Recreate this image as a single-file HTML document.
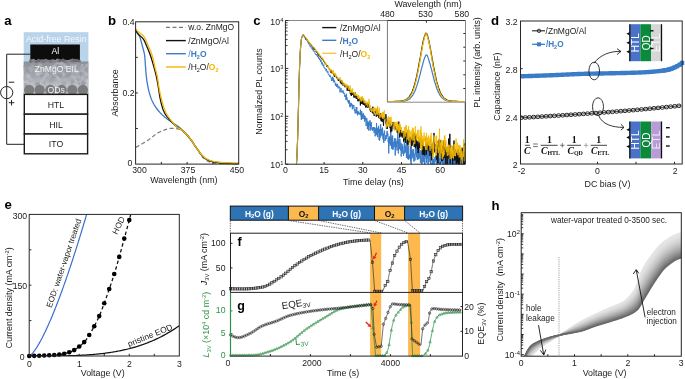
<!DOCTYPE html>
<html><head><meta charset="utf-8"><style>
html,body{margin:0;padding:0;background:#fff;overflow:hidden}
svg{display:block;will-change:transform}
text{font-family:"Liberation Sans", sans-serif}
</style></head><body>
<svg width="685" height="379" viewBox="0 0 685 379">
<rect width="685" height="379" fill="#fff"/>
<text x="4.2" y="25.2" font-size="13.2" text-anchor="start" font-weight="bold" font-style="normal" fill="#000">a</text>
<rect x="23.7" y="32.2" width="64.7" height="62" fill="#b9d3ea"/>
<text x="56.3" y="41.6" font-size="8.9" text-anchor="middle" font-weight="normal" font-style="normal" fill="#f4f8fc">Acid-free Resin</text>
<defs><linearGradient id="eil" x1="0" y1="0" x2="0" y2="1"><stop offset="0" stop-color="#8c9099"/><stop offset="0.45" stop-color="#a3a7b0"/><stop offset="0.8" stop-color="#c2c5cc"/><stop offset="1" stop-color="#b4b7be"/></linearGradient></defs>
<rect x="23.7" y="61.5" width="64.7" height="32.9" fill="url(#eil)"/>
<circle cx="63.88" cy="83.53" r="2.16" fill="rgb(155,155,161)" opacity="0.5"/>
<circle cx="43.41" cy="82.97" r="1.01" fill="rgb(197,197,203)" opacity="0.5"/>
<circle cx="74.72" cy="73.23" r="1.45" fill="rgb(159,159,165)" opacity="0.5"/>
<circle cx="40.56" cy="72.68" r="1.76" fill="rgb(178,178,184)" opacity="0.5"/>
<circle cx="87.22" cy="81.02" r="1.93" fill="rgb(209,209,215)" opacity="0.5"/>
<circle cx="38.06" cy="65.85" r="1.92" fill="rgb(143,143,149)" opacity="0.5"/>
<circle cx="26.75" cy="74.36" r="1.7" fill="rgb(204,204,210)" opacity="0.5"/>
<circle cx="64.14" cy="74.34" r="1.75" fill="rgb(157,157,163)" opacity="0.5"/>
<circle cx="25.24" cy="66.62" r="2.04" fill="rgb(154,154,160)" opacity="0.5"/>
<circle cx="47.78" cy="62.09" r="2.25" fill="rgb(150,150,156)" opacity="0.5"/>
<circle cx="41.36" cy="83.13" r="1.76" fill="rgb(199,199,205)" opacity="0.5"/>
<circle cx="64.8" cy="79.8" r="1.14" fill="rgb(177,177,183)" opacity="0.5"/>
<circle cx="56.49" cy="82.91" r="1.54" fill="rgb(181,181,187)" opacity="0.5"/>
<circle cx="28.23" cy="71.3" r="1.48" fill="rgb(150,150,156)" opacity="0.5"/>
<circle cx="75.93" cy="71.11" r="2.47" fill="rgb(181,181,187)" opacity="0.5"/>
<circle cx="62.62" cy="77.31" r="2.01" fill="rgb(150,150,156)" opacity="0.5"/>
<circle cx="52.24" cy="67.75" r="1.6" fill="rgb(146,146,152)" opacity="0.5"/>
<circle cx="85.47" cy="67.16" r="2.01" fill="rgb(161,161,167)" opacity="0.5"/>
<circle cx="79.57" cy="77.89" r="1.2" fill="rgb(199,199,205)" opacity="0.5"/>
<circle cx="84.03" cy="83.69" r="1.85" fill="rgb(150,150,156)" opacity="0.5"/>
<circle cx="36.63" cy="84.27" r="1.83" fill="rgb(152,152,158)" opacity="0.5"/>
<circle cx="80.2" cy="77.4" r="1.85" fill="rgb(166,166,172)" opacity="0.5"/>
<circle cx="50.39" cy="67.75" r="1.06" fill="rgb(201,201,207)" opacity="0.5"/>
<circle cx="53.97" cy="75.14" r="1.48" fill="rgb(192,192,198)" opacity="0.5"/>
<circle cx="26.09" cy="70.93" r="1.05" fill="rgb(148,148,154)" opacity="0.5"/>
<circle cx="85.43" cy="77.79" r="1.64" fill="rgb(176,176,182)" opacity="0.5"/>
<circle cx="79.49" cy="70.26" r="1.89" fill="rgb(187,187,193)" opacity="0.5"/>
<circle cx="46.89" cy="74.46" r="2.15" fill="rgb(203,203,209)" opacity="0.5"/>
<circle cx="34.02" cy="84.4" r="1.01" fill="rgb(192,192,198)" opacity="0.5"/>
<circle cx="75.56" cy="65.28" r="1.63" fill="rgb(197,197,203)" opacity="0.5"/>
<circle cx="25.4" cy="77.08" r="2.19" fill="rgb(175,175,181)" opacity="0.5"/>
<circle cx="70.23" cy="67.43" r="1.3" fill="rgb(165,165,171)" opacity="0.5"/>
<circle cx="35.8" cy="70.31" r="2.42" fill="rgb(180,180,186)" opacity="0.5"/>
<circle cx="45.92" cy="68.52" r="2.43" fill="rgb(171,171,177)" opacity="0.5"/>
<circle cx="86.26" cy="74.37" r="1.78" fill="rgb(202,202,208)" opacity="0.5"/>
<circle cx="71.29" cy="75.94" r="1.64" fill="rgb(201,201,207)" opacity="0.5"/>
<circle cx="50.43" cy="84.15" r="1.1" fill="rgb(170,170,176)" opacity="0.5"/>
<circle cx="57.23" cy="84.82" r="1.38" fill="rgb(196,196,202)" opacity="0.5"/>
<circle cx="67.12" cy="79.21" r="1.94" fill="rgb(208,208,214)" opacity="0.5"/>
<circle cx="45.46" cy="71.56" r="1.3" fill="rgb(143,143,149)" opacity="0.5"/>
<circle cx="37.91" cy="83.97" r="2.26" fill="rgb(147,147,153)" opacity="0.5"/>
<circle cx="62.54" cy="73.5" r="1.89" fill="rgb(186,186,192)" opacity="0.5"/>
<circle cx="43.82" cy="85.07" r="1.7" fill="rgb(183,183,189)" opacity="0.5"/>
<circle cx="64.52" cy="66.41" r="1.09" fill="rgb(168,168,174)" opacity="0.5"/>
<circle cx="72.63" cy="81.57" r="2.09" fill="rgb(147,147,153)" opacity="0.5"/>
<circle cx="82.04" cy="81.25" r="2.32" fill="rgb(176,176,182)" opacity="0.5"/>
<circle cx="82.19" cy="63.12" r="1.05" fill="rgb(141,141,147)" opacity="0.5"/>
<circle cx="40.42" cy="67.97" r="1.28" fill="rgb(179,179,185)" opacity="0.5"/>
<circle cx="26.96" cy="76.17" r="1.25" fill="rgb(187,187,193)" opacity="0.5"/>
<circle cx="25.83" cy="69.45" r="2.41" fill="rgb(177,177,183)" opacity="0.5"/>
<circle cx="75.63" cy="77.79" r="1.92" fill="rgb(153,153,159)" opacity="0.5"/>
<circle cx="60.69" cy="62.95" r="2.2" fill="rgb(207,207,213)" opacity="0.5"/>
<circle cx="78.3" cy="63.22" r="1.51" fill="rgb(162,162,168)" opacity="0.5"/>
<circle cx="31.6" cy="77.04" r="2.2" fill="rgb(161,161,167)" opacity="0.5"/>
<circle cx="78.86" cy="81.13" r="1.19" fill="rgb(193,193,199)" opacity="0.5"/>
<circle cx="80.11" cy="66.73" r="1.86" fill="rgb(184,184,190)" opacity="0.5"/>
<circle cx="62.89" cy="64.31" r="1.99" fill="rgb(184,184,190)" opacity="0.5"/>
<circle cx="76.4" cy="81.28" r="1.49" fill="rgb(190,190,196)" opacity="0.5"/>
<circle cx="79.14" cy="83.43" r="1.24" fill="rgb(141,141,147)" opacity="0.5"/>
<circle cx="65.5" cy="67.15" r="1.85" fill="rgb(206,206,212)" opacity="0.5"/>
<circle cx="48.4" cy="68.07" r="1.68" fill="rgb(186,186,192)" opacity="0.5"/>
<circle cx="30.87" cy="71.13" r="1.2" fill="rgb(186,186,192)" opacity="0.5"/>
<circle cx="76.82" cy="71.04" r="1.56" fill="rgb(177,177,183)" opacity="0.5"/>
<circle cx="38.05" cy="67.94" r="1.49" fill="rgb(172,172,178)" opacity="0.5"/>
<circle cx="29.64" cy="80.07" r="1.87" fill="rgb(160,160,166)" opacity="0.5"/>
<circle cx="29.39" cy="80.32" r="1.2" fill="rgb(149,149,155)" opacity="0.5"/>
<circle cx="32.73" cy="63.95" r="2.36" fill="rgb(158,158,164)" opacity="0.5"/>
<circle cx="43.8" cy="81.99" r="1.93" fill="rgb(153,153,159)" opacity="0.5"/>
<circle cx="51.89" cy="83.21" r="1.56" fill="rgb(189,189,195)" opacity="0.5"/>
<circle cx="30.6" cy="79.46" r="2.16" fill="rgb(197,197,203)" opacity="0.5"/>
<circle cx="66.97" cy="70.9" r="1.1" fill="rgb(176,176,182)" opacity="0.5"/>
<circle cx="72.22" cy="66.58" r="1.4" fill="rgb(177,177,183)" opacity="0.5"/>
<circle cx="71.64" cy="83.52" r="1.19" fill="rgb(152,152,158)" opacity="0.5"/>
<circle cx="74.87" cy="77.47" r="2.08" fill="rgb(209,209,215)" opacity="0.5"/>
<circle cx="83.67" cy="82.23" r="2.17" fill="rgb(167,167,173)" opacity="0.5"/>
<circle cx="64.9" cy="66.43" r="2.14" fill="rgb(193,193,199)" opacity="0.5"/>
<circle cx="69.94" cy="72.68" r="1.57" fill="rgb(169,169,175)" opacity="0.5"/>
<circle cx="26.6" cy="82.26" r="1.81" fill="rgb(167,167,173)" opacity="0.5"/>
<circle cx="59.03" cy="79.32" r="1.57" fill="rgb(198,198,204)" opacity="0.5"/>
<circle cx="82.43" cy="71.3" r="1.21" fill="rgb(193,193,199)" opacity="0.5"/>
<circle cx="87.06" cy="65.55" r="2.07" fill="rgb(197,197,203)" opacity="0.5"/>
<circle cx="82.5" cy="64.96" r="1.14" fill="rgb(209,209,215)" opacity="0.5"/>
<circle cx="31.86" cy="66.24" r="1.86" fill="rgb(171,171,177)" opacity="0.5"/>
<circle cx="71.77" cy="66.57" r="2.37" fill="rgb(155,155,161)" opacity="0.5"/>
<circle cx="72.95" cy="63.62" r="1.71" fill="rgb(142,142,148)" opacity="0.5"/>
<circle cx="44.27" cy="69.49" r="2.08" fill="rgb(171,171,177)" opacity="0.5"/>
<circle cx="28.08" cy="85.89" r="2.33" fill="rgb(204,204,210)" opacity="0.5"/>
<circle cx="40.03" cy="71.46" r="1.34" fill="rgb(148,148,154)" opacity="0.5"/>
<circle cx="26.58" cy="74.08" r="1.18" fill="rgb(152,152,158)" opacity="0.5"/>
<circle cx="78.71" cy="73.62" r="1.28" fill="rgb(186,186,192)" opacity="0.5"/>
<circle cx="41.25" cy="74.65" r="1.42" fill="rgb(176,176,182)" opacity="0.5"/>
<circle cx="64.1" cy="74.87" r="1.59" fill="rgb(195,195,201)" opacity="0.5"/>
<circle cx="79.53" cy="66.3" r="1.2" fill="rgb(147,147,153)" opacity="0.5"/>
<circle cx="86.21" cy="84.6" r="1.35" fill="rgb(207,207,213)" opacity="0.5"/>
<circle cx="37.59" cy="74.16" r="1.75" fill="rgb(204,204,210)" opacity="0.5"/>
<circle cx="27.05" cy="69.57" r="1.9" fill="rgb(144,144,150)" opacity="0.5"/>
<circle cx="39.4" cy="73.16" r="2.32" fill="rgb(193,193,199)" opacity="0.5"/>
<circle cx="76.73" cy="80.27" r="2.06" fill="rgb(199,199,205)" opacity="0.5"/>
<circle cx="67.43" cy="79.66" r="1.45" fill="rgb(151,151,157)" opacity="0.5"/>
<circle cx="72.16" cy="65.98" r="2.38" fill="rgb(181,181,187)" opacity="0.5"/>
<circle cx="45.25" cy="84.48" r="1.23" fill="rgb(176,176,182)" opacity="0.5"/>
<circle cx="30.27" cy="85.17" r="1.86" fill="rgb(196,196,202)" opacity="0.5"/>
<circle cx="42.26" cy="81.24" r="2.05" fill="rgb(185,185,191)" opacity="0.5"/>
<circle cx="84.39" cy="72.4" r="1.62" fill="rgb(188,188,194)" opacity="0.5"/>
<circle cx="77.11" cy="70.04" r="2" fill="rgb(154,154,160)" opacity="0.5"/>
<circle cx="59.26" cy="80.46" r="1.1" fill="rgb(190,190,196)" opacity="0.5"/>
<circle cx="25.47" cy="85" r="1.7" fill="rgb(168,168,174)" opacity="0.5"/>
<circle cx="69.89" cy="74.56" r="2.1" fill="rgb(145,145,151)" opacity="0.5"/>
<circle cx="59.96" cy="75.39" r="2.4" fill="rgb(142,142,148)" opacity="0.5"/>
<circle cx="53.03" cy="77.15" r="1.83" fill="rgb(145,145,151)" opacity="0.5"/>
<circle cx="61.87" cy="67.33" r="1.29" fill="rgb(201,201,207)" opacity="0.5"/>
<circle cx="36.96" cy="72.9" r="2.13" fill="rgb(189,189,195)" opacity="0.5"/>
<circle cx="59.37" cy="81.37" r="1.7" fill="rgb(183,183,189)" opacity="0.5"/>
<circle cx="76.09" cy="78.27" r="1.96" fill="rgb(168,168,174)" opacity="0.5"/>
<circle cx="59.67" cy="71.51" r="2.12" fill="rgb(166,166,172)" opacity="0.5"/>
<circle cx="53.9" cy="80.13" r="1.76" fill="rgb(163,163,169)" opacity="0.5"/>
<circle cx="76.59" cy="71.14" r="2.27" fill="rgb(194,194,200)" opacity="0.5"/>
<circle cx="52.68" cy="79.11" r="1.05" fill="rgb(167,167,173)" opacity="0.5"/>
<circle cx="78.7" cy="75.91" r="1.84" fill="rgb(186,186,192)" opacity="0.5"/>
<circle cx="67.19" cy="76.01" r="1.63" fill="rgb(152,152,158)" opacity="0.5"/>
<circle cx="42.94" cy="69.03" r="1.65" fill="rgb(209,209,215)" opacity="0.5"/>
<circle cx="46.71" cy="72.74" r="1.56" fill="rgb(180,180,186)" opacity="0.5"/>
<circle cx="84.22" cy="83.34" r="1.57" fill="rgb(158,158,164)" opacity="0.5"/>
<circle cx="80.22" cy="73.85" r="2.03" fill="rgb(145,145,151)" opacity="0.5"/>
<circle cx="79.09" cy="69.51" r="1.74" fill="rgb(153,153,159)" opacity="0.5"/>
<circle cx="50.98" cy="81.87" r="2.24" fill="rgb(173,173,179)" opacity="0.5"/>
<circle cx="72.88" cy="72.99" r="1.56" fill="rgb(178,178,184)" opacity="0.5"/>
<circle cx="37.18" cy="69.6" r="2.06" fill="rgb(193,193,199)" opacity="0.5"/>
<circle cx="28.07" cy="79.59" r="2.23" fill="rgb(171,171,177)" opacity="0.5"/>
<circle cx="28.43" cy="78.39" r="1.37" fill="rgb(185,185,191)" opacity="0.5"/>
<circle cx="48.23" cy="77.29" r="1.39" fill="rgb(173,173,179)" opacity="0.5"/>
<circle cx="57.55" cy="77.14" r="1.3" fill="rgb(207,207,213)" opacity="0.5"/>
<circle cx="42.72" cy="69.34" r="1.38" fill="rgb(144,144,150)" opacity="0.5"/>
<circle cx="51.14" cy="80.52" r="2.06" fill="rgb(153,153,159)" opacity="0.5"/>
<circle cx="33.13" cy="69.71" r="2.15" fill="rgb(174,174,180)" opacity="0.5"/>
<circle cx="82.66" cy="77.75" r="1.93" fill="rgb(193,193,199)" opacity="0.5"/>
<circle cx="71.77" cy="70.25" r="1.39" fill="rgb(170,170,176)" opacity="0.5"/>
<circle cx="55.32" cy="65.4" r="1.66" fill="rgb(184,184,190)" opacity="0.5"/>
<circle cx="33.05" cy="65.31" r="1.26" fill="rgb(159,159,165)" opacity="0.5"/>
<circle cx="85.09" cy="62.62" r="1.28" fill="rgb(151,151,157)" opacity="0.5"/>
<circle cx="54.38" cy="62.36" r="1.69" fill="rgb(151,151,157)" opacity="0.5"/>
<circle cx="41.49" cy="81.02" r="1.28" fill="rgb(183,183,189)" opacity="0.5"/>
<circle cx="50.1" cy="72.02" r="2.23" fill="rgb(151,151,157)" opacity="0.5"/>
<circle cx="82.7" cy="83.44" r="2" fill="rgb(143,143,149)" opacity="0.5"/>
<circle cx="66.29" cy="76.41" r="2.16" fill="rgb(154,154,160)" opacity="0.5"/>
<circle cx="84.56" cy="83.27" r="1.17" fill="rgb(162,162,168)" opacity="0.5"/>
<circle cx="26.54" cy="81.94" r="2.37" fill="rgb(209,209,215)" opacity="0.5"/>
<circle cx="63.05" cy="77.98" r="2.02" fill="rgb(179,179,185)" opacity="0.5"/>
<circle cx="84.5" cy="76.59" r="1.5" fill="rgb(175,175,181)" opacity="0.5"/>
<circle cx="25.68" cy="79.38" r="2.04" fill="rgb(169,169,175)" opacity="0.5"/>
<circle cx="78.14" cy="80.13" r="1.51" fill="rgb(145,145,151)" opacity="0.5"/>
<circle cx="32.83" cy="66.42" r="1.46" fill="rgb(171,171,177)" opacity="0.5"/>
<circle cx="82.96" cy="68.68" r="2.35" fill="rgb(187,187,193)" opacity="0.5"/>
<circle cx="78.27" cy="71.68" r="1" fill="rgb(195,195,201)" opacity="0.5"/>
<circle cx="39.96" cy="65.42" r="2.2" fill="rgb(188,188,194)" opacity="0.5"/>
<circle cx="37.88" cy="68.42" r="2.41" fill="rgb(158,158,164)" opacity="0.5"/>
<circle cx="68.75" cy="65.11" r="2.22" fill="rgb(148,148,154)" opacity="0.5"/>
<circle cx="57.01" cy="62.85" r="1.83" fill="rgb(199,199,205)" opacity="0.5"/>
<circle cx="29.82" cy="68.58" r="2.15" fill="rgb(182,182,188)" opacity="0.5"/>
<circle cx="44.21" cy="77.09" r="1.68" fill="rgb(200,200,206)" opacity="0.5"/>
<circle cx="42.96" cy="80.19" r="1.95" fill="rgb(191,191,197)" opacity="0.5"/>
<circle cx="48.33" cy="79.4" r="2.05" fill="rgb(167,167,173)" opacity="0.5"/>
<circle cx="26.17" cy="85.11" r="2.07" fill="rgb(154,154,160)" opacity="0.5"/>
<circle cx="70.54" cy="68.69" r="1.7" fill="rgb(200,200,206)" opacity="0.5"/>
<circle cx="52.73" cy="68.91" r="1.46" fill="rgb(145,145,151)" opacity="0.5"/>
<circle cx="38.33" cy="68.51" r="1.26" fill="rgb(144,144,150)" opacity="0.5"/>
<circle cx="53.84" cy="67.15" r="2.11" fill="rgb(204,204,210)" opacity="0.5"/>
<circle cx="41.7" cy="75.73" r="1.76" fill="rgb(145,145,151)" opacity="0.5"/>
<circle cx="32.37" cy="83.23" r="1.71" fill="rgb(196,196,202)" opacity="0.5"/>
<circle cx="28.69" cy="76.28" r="2.3" fill="rgb(200,200,206)" opacity="0.5"/>
<rect x="30.3" y="44.5" width="49.6" height="15.6" fill="#0d0d0d"/>
<circle cx="31" cy="60.93" r="1.96" fill="rgb(114,114,120)"/>
<circle cx="33.46" cy="60.62" r="1.78" fill="rgb(132,132,138)"/>
<circle cx="36.16" cy="61.46" r="1.53" fill="rgb(112,112,118)"/>
<circle cx="38.51" cy="60.48" r="1.84" fill="rgb(103,103,109)"/>
<circle cx="41.36" cy="61" r="1.69" fill="rgb(125,125,131)"/>
<circle cx="43.46" cy="61.2" r="1.98" fill="rgb(123,123,129)"/>
<circle cx="45.84" cy="60.54" r="1.79" fill="rgb(123,123,129)"/>
<circle cx="47.93" cy="61.04" r="1.58" fill="rgb(132,132,138)"/>
<circle cx="50.64" cy="61.18" r="1.66" fill="rgb(116,116,122)"/>
<circle cx="52.9" cy="60.95" r="1.84" fill="rgb(127,127,133)"/>
<circle cx="55.09" cy="61.28" r="1.56" fill="rgb(136,136,142)"/>
<circle cx="57.6" cy="60.51" r="2.05" fill="rgb(133,133,139)"/>
<circle cx="59.84" cy="60.7" r="1.78" fill="rgb(107,107,113)"/>
<circle cx="62.94" cy="60.38" r="1.79" fill="rgb(106,106,112)"/>
<circle cx="65.02" cy="61.19" r="1.58" fill="rgb(117,117,123)"/>
<circle cx="67.28" cy="61.48" r="1.57" fill="rgb(130,130,136)"/>
<circle cx="70.05" cy="60.67" r="1.51" fill="rgb(131,131,137)"/>
<circle cx="72.5" cy="60.49" r="1.9" fill="rgb(118,118,124)"/>
<circle cx="74.61" cy="60.5" r="1.67" fill="rgb(105,105,111)"/>
<circle cx="76.64" cy="60.56" r="1.78" fill="rgb(105,105,111)"/>
<circle cx="79.29" cy="61" r="1.52" fill="rgb(111,111,117)"/>
<text x="55.4" y="53.9" font-size="8.7" text-anchor="middle" font-weight="normal" font-style="normal" fill="#fff">Al</text>
<text x="56.8" y="71.6" font-size="8.6" text-anchor="middle" font-weight="normal" font-style="normal" fill="#f4f4f4">ZnMgO EIL</text>
<circle cx="29.2" cy="89.9" r="5.2" fill="#7c7c7c"/>
<circle cx="39.6" cy="89.9" r="5.2" fill="#7c7c7c"/>
<circle cx="50.3" cy="89.9" r="5.2" fill="#7c7c7c"/>
<circle cx="61.6" cy="89.9" r="5.2" fill="#7c7c7c"/>
<circle cx="72.3" cy="89.9" r="5.2" fill="#7c7c7c"/>
<circle cx="82.9" cy="89.9" r="5.2" fill="#7c7c7c"/>
<text x="56.2" y="93.2" font-size="8.6" text-anchor="middle" font-weight="normal" font-style="normal" fill="#eeeeee">QDs</text>
<rect x="24.3" y="94.4" width="63.3" height="19.8" fill="#fff" stroke="#1a1a1a" stroke-width="1.4"/>
<text x="56" y="107.7" font-size="8.7" text-anchor="middle" font-weight="normal" font-style="normal" fill="#1a1a1a">HTL</text>
<rect x="24.3" y="114.2" width="63.3" height="19.8" fill="#fff" stroke="#1a1a1a" stroke-width="1.4"/>
<text x="56" y="127.5" font-size="8.7" text-anchor="middle" font-weight="normal" font-style="normal" fill="#1a1a1a">HIL</text>
<rect x="24.3" y="134.0" width="63.3" height="19.8" fill="#fff" stroke="#1a1a1a" stroke-width="1.4"/>
<text x="56" y="147.3" font-size="8.7" text-anchor="middle" font-weight="normal" font-style="normal" fill="#1a1a1a">ITO</text>
<path d="M30.3,54.2 L6.7,54.2 L6.7,144.3 L24,144.3" fill="none" stroke="#222" stroke-width="1"/>
<circle cx="6.7" cy="92.6" r="6.1" fill="#fff" stroke="#222" stroke-width="1"/>
<line x1="6.7" y1="86.5" x2="6.7" y2="98.7" stroke="#222" stroke-width="1"/>
<line x1="8.8" y1="82.2" x2="14.3" y2="82.2" stroke="#222" stroke-width="1.0"/>
<line x1="8.8" y1="102.7" x2="14.3" y2="102.7" stroke="#222" stroke-width="1.0"/>
<line x1="11.55" y1="99.9" x2="11.55" y2="105.5" stroke="#222" stroke-width="1.0"/>
<text x="108" y="25" font-size="13.2" text-anchor="start" font-weight="bold" font-style="normal" fill="#000">b</text>
<path d="M135.8,147.4 L136.34,147.1 L136.88,146.8 L137.42,146.5 L137.96,146.19 L138.5,145.89 L139.04,145.58 L139.58,145.27 L140.11,144.97 L140.65,144.65 L141.18,144.34 L141.71,144.03 L142.25,143.71 L142.78,143.4 L143.31,143.08 L143.84,142.76 L144.36,142.44 L144.89,142.12 L145.42,141.79 L145.94,141.47 L146.47,141.14 L146.99,140.81 L147.51,140.48 L148.03,140.15 L148.55,139.81 L149.06,139.45 L149.57,139.09 L150.08,138.72 L150.58,138.34 L151.08,137.96 L151.58,137.57 L152.07,137.18 L152.57,136.79 L153.06,136.4 L153.56,136.01 L154.06,135.62 L154.55,135.24 L155.05,134.86 L155.56,134.49 L156.06,134.13 L156.57,133.78 L157.08,133.44 L157.59,133.11 L158.12,132.8 L158.64,132.5 L159.17,132.21 L159.71,131.95 L160.25,131.7 L160.8,131.47 L161.36,131.24 L161.93,131.01 L162.5,130.77 L163.08,130.53 L163.67,130.3 L164.26,130.07 L164.85,129.85 L165.45,129.63 L166.05,129.43 L166.65,129.24 L167.26,129.06 L167.87,128.9 L168.48,128.76 L169.09,128.64 L169.7,128.54 L170.3,128.47 L170.91,128.42 L171.52,128.4 L172.13,128.4 L172.75,128.42 L173.37,128.45 L174.01,128.49 L174.64,128.54 L175.27,128.59 L175.91,128.66 L176.53,128.73 L177.15,128.82 L177.76,128.9 L178.36,129 L178.95,129.1 L179.51,129.2 L180.07,129.34 L180.62,129.55 L181.16,129.81 L181.7,130.11 L182.23,130.46 L182.75,130.84 L183.26,131.24 L183.77,131.66 L184.26,132.09 L184.74,132.53 L185.21,132.96 L185.66,133.37 L186.1,133.78 L186.53,134.21 L186.95,134.65 L187.36,135.1 L187.76,135.57 L188.15,136.05 L188.54,136.54 L188.92,137.04 L189.29,137.54 L189.66,138.05 L190.03,138.56 L190.4,139.07 L190.77,139.57 L191.13,140.07 L191.5,140.57 L191.86,141.07 L192.22,141.57 L192.57,142.08 L192.92,142.59 L193.27,143.1 L193.61,143.61 L193.96,144.12 L194.3,144.64 L194.64,145.16 L194.98,145.68 L195.32,146.19 L195.65,146.71 L195.99,147.23 L196.33,147.75 L196.67,148.27 L197.01,148.78 L197.36,149.3 L197.71,149.81 L198.05,150.32 L198.39,150.85 L198.72,151.38 L199.05,151.91 L199.38,152.45 L199.71,152.99 L200.04,153.52 L200.38,154.05 L200.72,154.57 L201.07,155.09 L201.42,155.59 L201.79,156.08 L202.16,156.56 L202.55,157.02 L202.96,157.46 L203.38,157.89 L203.82,158.32 L204.28,158.75 L204.76,159.17 L205.25,159.57 L205.75,159.96 L206.27,160.33 L206.79,160.67 L207.32,160.97 L207.86,161.24 L208.4,161.47 L208.97,161.7 L209.54,161.91 L210.13,162.12 L210.73,162.31 L211.34,162.49 L211.95,162.65 L212.57,162.78 L213.18,162.89 L213.79,162.98 L214.4,163.04 L215,163.09 L215.61,163.15 L216.23,163.2 L216.84,163.25 L217.46,163.29 L218.07,163.33 L218.69,163.37 L219.31,163.41 L219.93,163.44 L220.55,163.47 L221.18,163.5 L221.8,163.52 L222.42,163.54 L223.04,163.56 L223.66,163.58 L224.28,163.59 L224.9,163.6 L225.52,163.61 L226.13,163.61 L226.75,163.62 L227.37,163.63 L227.99,163.64 L228.61,163.64 L229.22,163.65 L229.84,163.66 L230.46,163.66 L231.08,163.67 L231.7,163.67 L232.31,163.68 L232.93,163.68 L233.55,163.68 L234.17,163.69 L234.79,163.69 L235.41,163.69 L236.03,163.7 L236.64,163.7 L237.26,163.7 L237.88,163.7 L238.5,163.7" fill="none" stroke="#7a7a7a" stroke-width="1.2" stroke-dasharray="4,2.5"/>
<path d="M135.8,29.1 L136.05,30.02 L136.35,30.91 L136.73,31.76 L137.23,32.54 L137.83,33.3 L138.42,34.05 L138.92,34.84 L139.29,35.67 L139.64,36.52 L139.95,37.39 L140.25,38.28 L140.53,39.18 L140.79,40.1 L141.04,41.02 L141.28,41.94 L141.52,42.87 L141.76,43.79 L141.99,44.71 L142.23,45.62 L142.48,46.53 L142.74,47.44 L142.99,48.35 L143.25,49.26 L143.5,50.17 L143.74,51.08 L143.97,52 L144.18,52.92 L144.36,53.84 L144.53,54.76 L144.66,55.68 L144.77,56.61 L144.86,57.54 L144.94,58.47 L145.02,59.41 L145.08,60.35 L145.14,61.29 L145.2,62.23 L145.26,63.17 L145.32,64.12 L145.39,65.06 L145.45,66 L145.53,66.93 L145.6,67.87 L145.67,68.81 L145.74,69.75 L145.82,70.69 L145.89,71.63 L145.97,72.56 L146.05,73.5 L146.13,74.44 L146.22,75.38 L146.31,76.31 L146.42,77.24 L146.53,78.18 L146.65,79.11 L146.78,80.04 L146.91,80.97 L147.06,81.91 L147.21,82.84 L147.37,83.76 L147.54,84.69 L147.71,85.62 L147.89,86.54 L148.07,87.46 L148.26,88.38 L148.46,89.3 L148.68,90.22 L148.9,91.14 L149.14,92.05 L149.38,92.96 L149.64,93.87 L149.91,94.78 L150.19,95.67 L150.48,96.56 L150.78,97.45 L151.1,98.32 L151.45,99.19 L151.81,100.06 L152.2,100.93 L152.61,101.79 L153.04,102.64 L153.48,103.47 L153.93,104.3 L154.39,105.12 L154.87,105.91 L155.36,106.7 L155.89,107.48 L156.43,108.25 L157,109.01 L157.58,109.76 L158.18,110.5 L158.79,111.22 L159.41,111.93 L160.04,112.63 L160.68,113.31 L161.33,113.97 L162,114.63 L162.69,115.28 L163.4,115.91 L164.11,116.53 L164.83,117.15 L165.56,117.75 L166.29,118.33 L167.03,118.91 L167.78,119.47 L168.54,120.01 L169.32,120.54 L170.1,121.07 L170.89,121.59 L171.68,122.11 L172.46,122.63 L173.25,123.15 L174.03,123.68 L174.8,124.21 L175.59,124.74 L176.38,125.26 L177.16,125.78 L177.93,126.32 L178.69,126.87 L179.43,127.44 L180.15,128.04 L180.85,128.67 L181.54,129.31 L182.22,129.97 L182.88,130.65 L183.53,131.33 L184.15,132.03 L184.76,132.75 L185.35,133.48 L185.94,134.21 L186.53,134.95 L187.14,135.66 L187.77,136.36 L188.41,137.06 L189.06,137.74 L189.7,138.44 L190.33,139.13 L190.94,139.85 L191.52,140.58 L192.07,141.33 L192.61,142.1 L193.13,142.88 L193.64,143.68 L194.15,144.48 L194.65,145.28 L195.15,146.08 L195.66,146.88 L196.17,147.67 L196.7,148.44 L197.25,149.21 L197.82,149.95 L198.39,150.7 L198.97,151.47 L199.55,152.25 L200.15,153.03 L200.75,153.8 L201.36,154.56 L201.99,155.3 L202.63,156 L203.29,156.67 L203.97,157.29 L204.66,157.86 L205.39,158.37 L206.14,158.82 L206.94,159.25 L207.78,159.67 L208.65,160.06 L209.55,160.42 L210.46,160.76 L211.38,161.06 L212.3,161.32 L213.22,161.54 L214.12,161.72 L215.03,161.9 L215.95,162.06 L216.88,162.22 L217.81,162.37 L218.74,162.51 L219.68,162.64 L220.62,162.75 L221.57,162.86 L222.51,162.96 L223.45,163.04 L224.4,163.11 L225.34,163.16 L226.27,163.21 L227.21,163.24 L228.15,163.28 L229.09,163.31 L230.03,163.35 L230.97,163.38 L231.91,163.4 L232.85,163.43 L233.79,163.45 L234.73,163.47 L235.67,163.48 L236.61,163.49 L237.56,163.5 L238.5,163.5" fill="none" stroke="#3a7cc8" stroke-width="1.3"/>
<path d="M135.8,29.1 L135.99,30.09 L136.28,31.02 L136.64,31.9 L137.06,32.72 L137.52,33.48 L138.03,34.19 L138.71,34.81 L139.48,35.39 L140.2,35.99 L140.92,36.62 L141.64,37.24 L142.33,37.88 L142.95,38.55 L143.49,39.27 L143.96,40.04 L144.39,40.86 L144.79,41.7 L145.17,42.57 L145.54,43.45 L145.9,44.33 L146.27,45.2 L146.64,46.05 L147.01,46.9 L147.38,47.76 L147.74,48.62 L148.1,49.48 L148.46,50.35 L148.81,51.21 L149.15,52.08 L149.49,52.95 L149.82,53.82 L150.14,54.69 L150.45,55.57 L150.75,56.45 L151.05,57.33 L151.34,58.22 L151.62,59.11 L151.89,60 L152.17,60.89 L152.43,61.78 L152.69,62.68 L152.95,63.58 L153.21,64.47 L153.46,65.37 L153.71,66.27 L153.96,67.17 L154.21,68.07 L154.46,68.96 L154.7,69.86 L154.95,70.77 L155.19,71.67 L155.42,72.57 L155.65,73.47 L155.88,74.38 L156.09,75.28 L156.3,76.19 L156.5,77.1 L156.69,78.01 L156.87,78.92 L157.05,79.84 L157.22,80.76 L157.39,81.67 L157.55,82.59 L157.71,83.51 L157.86,84.43 L158.02,85.35 L158.17,86.27 L158.33,87.19 L158.49,88.11 L158.63,89.03 L158.78,89.95 L158.91,90.87 L159.05,91.8 L159.19,92.72 L159.33,93.64 L159.47,94.56 L159.61,95.48 L159.77,96.4 L159.93,97.32 L160.11,98.23 L160.29,99.14 L160.48,100.06 L160.68,100.97 L160.89,101.89 L161.1,102.8 L161.33,103.71 L161.56,104.61 L161.81,105.52 L162.07,106.41 L162.34,107.3 L162.62,108.18 L162.92,109.05 L163.25,109.92 L163.61,110.79 L163.99,111.65 L164.4,112.5 L164.83,113.33 L165.29,114.14 L165.76,114.92 L166.28,115.69 L166.84,116.43 L167.43,117.17 L168.04,117.88 L168.65,118.59 L169.26,119.3 L169.87,120 L170.49,120.69 L171.12,121.39 L171.76,122.08 L172.41,122.75 L173.07,123.42 L173.73,124.08 L174.41,124.73 L175.09,125.35 L175.79,125.97 L176.49,126.56 L177.22,127.12 L177.98,127.66 L178.76,128.18 L179.54,128.7 L180.32,129.21 L181.11,129.73 L181.87,130.26 L182.62,130.82 L183.36,131.39 L184.09,131.97 L184.8,132.58 L185.49,133.2 L186.14,133.85 L186.78,134.53 L187.39,135.22 L187.99,135.94 L188.57,136.67 L189.15,137.41 L189.71,138.16 L190.27,138.91 L190.83,139.66 L191.38,140.41 L191.93,141.17 L192.45,141.94 L192.97,142.71 L193.48,143.5 L193.98,144.28 L194.49,145.07 L194.99,145.86 L195.5,146.65 L196.01,147.42 L196.53,148.19 L197.07,148.95 L197.62,149.7 L198.19,150.44 L198.75,151.21 L199.32,151.99 L199.89,152.77 L200.47,153.56 L201.05,154.33 L201.65,155.09 L202.26,155.82 L202.89,156.51 L203.54,157.17 L204.21,157.77 L204.9,158.32 L205.61,158.81 L206.36,159.25 L207.17,159.68 L208.01,160.09 L208.88,160.48 L209.77,160.84 L210.68,161.16 L211.6,161.45 L212.51,161.69 L213.42,161.88 L214.32,162.05 L215.22,162.2 L216.14,162.34 L217.05,162.48 L217.98,162.6 L218.91,162.72 L219.84,162.83 L220.78,162.93 L221.71,163.01 L222.65,163.09 L223.59,163.16 L224.52,163.22 L225.46,163.27 L226.39,163.31 L227.32,163.35 L228.24,163.38 L229.18,163.42 L230.11,163.45 L231.04,163.48 L231.97,163.5 L232.9,163.53 L233.83,163.55 L234.77,163.57 L235.7,163.58 L236.63,163.59 L237.57,163.6 L238.5,163.6" fill="none" stroke="#111111" stroke-width="1.3"/>
<path d="M135.8,29.1 L136.42,29.8 L137.05,30.49 L137.7,31.15 L138.36,31.8 L139.05,32.43 L139.78,33.02 L140.56,33.57 L141.35,34.12 L142.11,34.67 L142.8,35.26 L143.39,35.91 L143.91,36.62 L144.39,37.37 L144.85,38.16 L145.28,38.98 L145.68,39.83 L146.08,40.69 L146.45,41.57 L146.82,42.46 L147.19,43.35 L147.55,44.23 L147.92,45.1 L148.3,45.95 L148.68,46.8 L149.06,47.65 L149.43,48.5 L149.81,49.36 L150.17,50.22 L150.53,51.08 L150.88,51.95 L151.22,52.82 L151.54,53.69 L151.84,54.56 L152.13,55.44 L152.4,56.33 L152.64,57.22 L152.88,58.11 L153.1,59.01 L153.31,59.92 L153.52,60.83 L153.72,61.74 L153.92,62.65 L154.11,63.56 L154.31,64.47 L154.52,65.38 L154.73,66.29 L154.95,67.2 L155.17,68.1 L155.41,69 L155.65,69.9 L155.89,70.8 L156.13,71.7 L156.37,72.6 L156.6,73.5 L156.82,74.4 L157.03,75.31 L157.22,76.22 L157.4,77.13 L157.57,78.04 L157.72,78.95 L157.86,79.87 L158,80.79 L158.13,81.72 L158.26,82.64 L158.38,83.56 L158.51,84.48 L158.65,85.4 L158.79,86.32 L158.94,87.24 L159.1,88.16 L159.26,89.07 L159.43,89.99 L159.61,90.9 L159.79,91.81 L159.97,92.73 L160.16,93.64 L160.36,94.55 L160.56,95.46 L160.76,96.36 L160.98,97.27 L161.19,98.17 L161.42,99.07 L161.64,99.98 L161.88,100.88 L162.12,101.78 L162.37,102.68 L162.62,103.58 L162.89,104.47 L163.16,105.36 L163.45,106.25 L163.74,107.13 L164.05,108 L164.36,108.87 L164.7,109.73 L165.06,110.59 L165.45,111.44 L165.85,112.29 L166.26,113.12 L166.7,113.95 L167.14,114.76 L167.62,115.55 L168.12,116.34 L168.64,117.11 L169.18,117.88 L169.73,118.63 L170.28,119.37 L170.84,120.12 L171.4,120.87 L171.98,121.61 L172.56,122.35 L173.15,123.08 L173.76,123.8 L174.38,124.49 L175.02,125.16 L175.67,125.81 L176.34,126.43 L177.04,127.01 L177.78,127.56 L178.54,128.09 L179.33,128.6 L180.12,129.1 L180.91,129.61 L181.69,130.14 L182.45,130.68 L183.18,131.25 L183.91,131.83 L184.63,132.43 L185.33,133.05 L185.99,133.69 L186.62,134.36 L187.24,135.05 L187.84,135.76 L188.43,136.48 L189,137.22 L189.57,137.97 L190.13,138.72 L190.68,139.47 L191.24,140.21 L191.78,140.97 L192.31,141.73 L192.83,142.51 L193.33,143.29 L193.84,144.08 L194.33,144.87 L194.83,145.66 L195.34,146.44 L195.85,147.22 L196.37,147.99 L196.9,148.75 L197.46,149.49 L198.03,150.22 L198.6,150.96 L199.18,151.72 L199.77,152.48 L200.37,153.24 L200.98,153.99 L201.6,154.72 L202.23,155.43 L202.88,156.11 L203.55,156.74 L204.23,157.33 L204.94,157.87 L205.67,158.34 L206.43,158.78 L207.24,159.21 L208.09,159.62 L208.96,160 L209.85,160.36 L210.75,160.68 L211.66,160.96 L212.57,161.2 L213.47,161.39 L214.37,161.55 L215.27,161.71 L216.18,161.85 L217.1,161.98 L218.02,162.11 L218.95,162.22 L219.88,162.33 L220.82,162.43 L221.75,162.52 L222.69,162.6 L223.62,162.67 L224.55,162.72 L225.48,162.77 L226.41,162.81 L227.34,162.85 L228.27,162.88 L229.2,162.92 L230.12,162.95 L231.05,162.98 L231.98,163 L232.91,163.03 L233.84,163.05 L234.77,163.07 L235.7,163.08 L236.64,163.09 L237.57,163.1 L238.5,163.1" fill="none" stroke="#f4b800" stroke-width="1.3"/>
<rect x="135.6" y="21.8" width="103.1" height="142.29999999999998" fill="none" stroke="#262626" stroke-width="1"/>
<line x1="135.6" y1="128.53" x2="137.8" y2="128.53" stroke="#262626" stroke-width="1"/>
<line x1="135.6" y1="92.95" x2="137.8" y2="92.95" stroke="#262626" stroke-width="1"/>
<line x1="135.6" y1="57.38" x2="137.8" y2="57.38" stroke="#262626" stroke-width="1"/>
<line x1="161.38" y1="164.1" x2="161.38" y2="161.9" stroke="#262626" stroke-width="1"/>
<line x1="187.15" y1="164.1" x2="187.15" y2="161.9" stroke="#262626" stroke-width="1"/>
<line x1="212.93" y1="164.1" x2="212.93" y2="161.9" stroke="#262626" stroke-width="1"/>
<text x="134.5" y="25.2" font-size="8.7" text-anchor="end" font-weight="normal" font-style="normal" fill="#1a1a1a">0.4</text>
<text x="134.5" y="96" font-size="8.7" text-anchor="end" font-weight="normal" font-style="normal" fill="#1a1a1a">0.2</text>
<text x="132.4" y="165.9" font-size="8.7" text-anchor="end" font-weight="normal" font-style="normal" fill="#1a1a1a">0</text>
<text x="139.5" y="173.2" font-size="8.7" text-anchor="middle" font-weight="normal" font-style="normal" fill="#1a1a1a">300</text>
<text x="188" y="173.2" font-size="8.7" text-anchor="middle" font-weight="normal" font-style="normal" fill="#1a1a1a">375</text>
<text x="236.9" y="173.2" font-size="8.7" text-anchor="middle" font-weight="normal" font-style="normal" fill="#1a1a1a">450</text>
<text x="183.9" y="182.8" font-size="8.9" text-anchor="middle" font-weight="normal" font-style="normal" fill="#1a1a1a">Wavelength (nm)</text>
<text x="118" y="92.9" font-size="8.9" text-anchor="middle" font-weight="normal" font-style="normal" fill="#1a1a1a" transform="rotate(-90 118 92.9)">Absorbance</text>
<line x1="166" y1="27.4" x2="185.8" y2="27.4" stroke="#7a7a7a" stroke-width="1.2" stroke-dasharray="4,2.5"/>
<line x1="166" y1="40.6" x2="185.8" y2="40.6" stroke="#111111" stroke-width="1.4"/>
<line x1="166" y1="53.7" x2="185.8" y2="53.7" stroke="#3a7cc8" stroke-width="1.4"/>
<line x1="166" y1="67" x2="185.8" y2="67" stroke="#f4b800" stroke-width="1.4"/>
<text x="188.3" y="30.4" font-size="8.5" text-anchor="start" font-weight="normal" font-style="normal" fill="#1a1a1a">w.o. ZnMgO</text>
<text x="188.3" y="43.6" font-size="8.5" text-anchor="start" font-weight="normal" font-style="normal" fill="#1a1a1a">/ZnMgO/Al</text>
<text x="188.3" y="56.7" font-size="8.5" text-anchor="start" font-weight="normal" font-style="normal" fill="#3a7cc8"><tspan>/</tspan><tspan font-weight="bold" fill="#3a7cc8">H<tspan font-size="5.5" dy="2">2</tspan><tspan dy="-2">O</tspan></tspan></text>
<text x="188.3" y="70" font-size="8.5" text-anchor="start" font-weight="normal" font-style="normal" fill="#1a1a1a">/H<tspan font-size="5.5" dy="2">2</tspan><tspan dy="-2">O/</tspan><tspan font-weight="bold" fill="#f4b800">O<tspan font-size="5.5" dy="2">2</tspan></tspan></text>
<text x="253.2" y="25.2" font-size="13.2" text-anchor="start" font-weight="bold" font-style="normal" fill="#000">c</text>
<defs><clipPath id="clipc"><rect x="285.4" y="20.5" width="179.9" height="143.7"/></clipPath></defs>
<g clip-path="url(#clipc)">
<path d="M295.8,175 L296.04,171.39 L296.26,167.79 L296.48,164.18 L296.69,160.57 L296.88,156.96 L297.06,153.35 L297.21,149.74 L297.35,146.13 L297.48,142.52 L297.6,138.91 L297.71,135.3 L297.81,131.68 L297.92,128.07 L298.01,124.46 L298.11,120.84 L298.21,117.23 L298.3,113.62 L298.4,110 L298.5,106.39 L298.59,102.78 L298.67,99.17 L298.76,95.55 L298.84,91.94 L298.93,88.33 L299.02,84.71 L299.11,81.1 L299.22,77.49 L299.34,73.88 L299.46,70.26 L299.59,66.65 L299.74,63.04 L299.89,59.43 L300.07,55.82 L300.27,52.21 L300.49,48.6 L300.76,44.99 L301.12,41.4 L301.64,37.73 L303.2,34.7 L303.2,35.5 L303.46,34.11 L303.72,35.72 L303.98,35.74 L304.24,36.21 L304.5,36.73 L304.76,36.4 L305.02,37.56 L305.28,37.71 L305.54,39.93 L305.8,39.01 L306.06,39.18 L306.32,39.62 L306.58,39.86 L306.84,40.1 L307.1,40.81 L307.36,41.62 L307.62,41.7 L307.88,42.67 L308.14,42.53 L308.4,43.04 L308.66,44.18 L308.92,44.1 L309.18,43.99 L309.44,44.55 L309.7,45.31 L309.96,46.42 L310.22,45.7 L310.48,46.1 L310.74,47.14 L311,46.54 L311.26,47.24 L311.52,48.26 L311.78,48.48 L312.04,48.6 L312.3,49.3 L312.56,47.73 L312.82,50.26 L313.08,49.52 L313.34,49.48 L313.6,50.97 L313.86,51.6 L314.12,51.3 L314.38,51.29 L314.64,52.32 L314.9,52.65 L315.16,53.91 L315.42,53.88 L315.68,53.91 L315.94,54.86 L316.2,54.41 L316.46,54.32 L316.72,55.66 L316.98,56.04 L317.24,55.89 L317.5,55.89 L317.76,56.94 L318.02,55.48 L318.28,58.01 L318.54,58.26 L318.8,57.17 L319.06,58.73 L319.32,58.39 L319.58,60 L319.84,58.39 L320.1,59.58 L320.36,61.15 L320.62,61.89 L320.88,59.82 L321.14,61.46 L321.4,62.49 L321.66,62.18 L321.92,64.3 L322.18,62.55 L322.44,64.19 L322.7,63.49 L322.96,65.89 L323.22,65.16 L323.48,65.3 L323.74,64.61 L324,67.89 L324.26,67.54 L324.52,67.98 L324.78,68.75 L325.04,68.5 L325.3,68.06 L325.56,68.34 L325.82,68.76 L326.08,71.17 L326.34,68.99 L326.6,70.21 L326.86,70.88 L327.12,71.82 L327.38,72.58 L327.64,71.22 L327.9,71.15 L328.16,73.25 L328.42,74.87 L328.68,74.82 L328.94,74.67 L329.2,74.51 L329.46,75.53 L329.72,75.34 L329.98,76.84 L330.24,75.49 L330.5,76.85 L330.76,76.94 L331.02,78.01 L331.28,78.02 L331.54,80.96 L331.8,80.14 L332.06,80.5 L332.32,76.81 L332.58,79.08 L332.84,79.1 L333.1,80.76 L333.36,77.78 L333.62,82.19 L333.88,82.4 L334.14,79.87 L334.4,80.58 L334.66,81.11 L334.92,82.46 L335.18,83.52 L335.44,85.61 L335.7,83.11 L335.96,84.66 L336.22,84.2 L336.48,86.59 L336.74,85.6 L337,86.75 L337.26,83.84 L337.52,85.33 L337.78,84.81 L338.04,88.27 L338.3,87.45 L338.56,86.46 L338.82,86.58 L339.08,88.21 L339.34,86.87 L339.6,86.87 L339.86,89.22 L340.12,92.42 L340.38,88.85 L340.64,88.74 L340.9,88.17 L341.16,88.26 L341.42,91.39 L341.68,92.24 L341.94,91.32 L342.2,92.17 L342.46,92.2 L342.72,92.59 L342.98,90.32 L343.24,92.36 L343.5,93.64 L343.76,92.55 L344.02,93.4 L344.28,93.19 L344.54,94.35 L344.8,96.71 L345.06,94.95 L345.32,95.74 L345.58,97.78 L345.84,97.86 L346.1,100.08 L346.36,93.76 L346.62,99.37 L346.88,97.33 L347.14,98.81 L347.4,100.47 L347.66,101.3 L347.92,101.59 L348.18,100.3 L348.44,103.43 L348.7,100.19 L348.96,100.81 L349.22,103 L349.48,100.71 L349.74,106.44 L350,104.54 L350.26,107.24 L350.52,103.15 L350.78,102.77 L351.04,104.26 L351.3,105.81 L351.56,103.4 L351.82,105.8 L352.08,105.32 L352.34,109.21 L352.6,104.63 L352.86,108.74 L353.12,105.37 L353.38,105 L353.64,105.91 L353.9,105.15 L354.16,108.56 L354.42,110.96 L354.68,109.3 L354.94,110.73 L355.2,113.48 L355.46,110.59 L355.72,110.75 L355.98,109.94 L356.24,106.99 L356.5,113.13 L356.76,107.2 L357.02,113.52 L357.28,112.15 L357.54,115.35 L357.8,112.61 L358.06,110.94 L358.32,114.28 L358.58,112.16 L358.84,113.42 L359.1,114.27 L359.36,114.07 L359.62,114.18 L359.88,112.69 L360.14,114.68 L360.4,109.6 L360.66,115.26 L360.92,112.62 L361.18,119.29 L361.44,119.97 L361.7,111.17 L361.96,117.3 L362.22,116.77 L362.48,114.36 L362.74,119.12 L363,116.49 L363.26,112.91 L363.52,117.5 L363.78,118.08 L364.04,119.06 L364.3,115.31 L364.56,121.05 L364.82,121.65 L365.08,116.2 L365.34,117.9 L365.6,119.89 L365.86,118.63 L366.12,126.01 L366.38,121.5 L366.64,117.93 L366.9,118.85 L367.16,121.39 L367.42,129.13 L367.68,121.48 L367.94,122.71 L368.2,124.21 L368.46,122.66 L368.72,130.51 L368.98,121.52 L369.24,125.99 L369.5,124.3 L369.76,126.1 L370.02,120.28 L370.28,130.51 L370.54,124.33 L370.8,125.11 L371.06,122 L371.32,122.94 L371.58,127.7 L371.84,129.44 L372.1,128.88 L372.36,130.76 L372.62,129.26 L372.88,127.05 L373.14,130.22 L373.4,129.59 L373.66,127.3 L373.92,130.59 L374.18,132.92 L374.44,129.26 L374.7,127.29 L374.96,131.57 L375.22,136.31 L375.48,128.53 L375.74,129.21 L376,129.27 L376.26,134.78 L376.52,123.09 L376.78,131.92 L377.04,135.42 L377.3,127.72 L377.56,137.1 L377.82,133.54 L378.08,129.4 L378.34,132.66 L378.6,125.8 L378.86,129.95 L379.12,140 L379.38,128.99 L379.64,140.57 L379.9,132.77 L380.16,137.5 L380.42,133.71 L380.68,124.22 L380.94,131.49 L381.2,134.94 L381.46,129.37 L381.72,128.69 L381.98,136.3 L382.24,132.06 L382.5,127.65 L382.76,132.26 L383.02,139.27 L383.28,133.54 L383.54,140 L383.8,142.86 L384.06,136.34 L384.32,131.27 L384.58,130.65 L384.84,136.61 L385.1,140.95 L385.36,138.32 L385.62,139.79 L385.88,135.38 L386.14,139.01 L386.4,135.58 L386.66,136.42 L386.92,132.03 L387.18,130.85 L387.44,136.17 L387.7,133.34 L387.96,134.2 L388.22,142.18 L388.48,138.6 L388.74,153.41 L389,143.96 L389.26,136.52 L389.52,143.59 L389.78,141.69 L390.04,136.7 L390.3,145.72 L390.56,136.54 L390.82,125.27 L391.08,144.7 L391.34,137.76 L391.6,148.54 L391.86,137.89 L392.12,135.32 L392.38,149.4 L392.64,136.12 L392.9,142.84 L393.16,149.44 L393.42,142.69 L393.68,141.83 L393.94,142.93 L394.2,146.94 L394.46,138.45 L394.72,146.07 L394.98,146.05 L395.24,155.54 L395.5,141.49 L395.76,138.53 L396.02,147.53 L396.28,141.59 L396.54,145.44 L396.8,144.74 L397.06,150.54 L397.32,140.73 L397.58,143.96 L397.84,130.55 L398.1,139.84 L398.36,153.44 L398.62,141.27 L398.88,141.29 L399.14,138.53 L399.4,148.77 L399.66,146.66 L399.92,139.07 L400.18,149.75 L400.44,147.58 L400.7,150.57 L400.96,142.7 L401.22,156.57 L401.48,149.06 L401.74,146.15 L402,143.95 L402.26,145.69 L402.52,152.31 L402.78,145.83 L403.04,153.93 L403.3,151.14 L403.56,155.86 L403.82,152.85 L404.08,147.75 L404.34,136.78 L404.6,150.21 L404.86,153.33 L405.12,149.68 L405.38,152.22 L405.64,146.08 L405.9,146.77 L406.16,143.44 L406.42,157.8 L406.68,150.5 L406.94,146.59 L407.2,141.48 L407.46,148.96 L407.72,159.12 L407.98,153.1 L408.24,145.74 L408.5,159.52 L408.76,159.67 L409.02,156.97 L409.28,155.89 L409.54,158.39 L409.8,154.59 L410.06,156.23 L410.32,146.29 L410.58,161.21 L410.84,153.1 L411.1,164.94 L411.36,138.45 L411.62,156.59 L411.88,158.54 L412.14,149.92 L412.4,155.31 L412.66,157.4 L412.92,156.38 L413.18,149.04 L413.44,151.81 L413.7,159.72 L413.96,161.58 L414.22,153.76 L414.48,153.72 L414.74,154.66 L415,160.47 L415.26,146.31 L415.52,144.52 L415.78,154.56 L416.04,146.2 L416.3,149.86 L416.56,154.59 L416.82,157.43 L417.08,146.75 L417.34,159.85 L417.6,142.01 L417.86,158.26 L418.12,143.5 L418.38,145.69 L418.64,159.22 L418.9,151.94 L419.16,149.27 L419.42,151.82 L419.68,158.34 L419.94,154.74 L420.2,155 L420.46,162.8 L420.72,150.26 L420.98,152.08 L421.24,151.79 L421.5,164 L421.76,162.81 L422.02,165.03 L422.28,155.59 L422.54,154.78 L422.8,162.17 L423.06,153.2 L423.32,162.18 L423.58,161.49 L423.84,151.19 L424.1,155.75 L424.36,155.56 L424.62,169.21 L424.88,175.58 L425.14,155.91 L425.4,156.82 L425.66,139.94 L425.92,158.42 L426.18,156.87 L426.44,149.03 L426.7,162.9 L426.96,145.47 L427.22,155.59 L427.48,158.3 L427.74,147.98 L428,163.81 L428.26,165.37 L428.52,147.1 L428.78,146.99 L429.04,162.19 L429.3,157.48 L429.56,148.61 L429.82,155.6 L430.08,157.08 L430.34,156.87 L430.6,164.31 L430.86,161.01 L431.12,171.64 L431.38,168.7 L431.64,163.45 L431.9,166.57 L432.16,168.53 L432.42,163.86 L432.68,149.07 L432.94,165.17 L433.2,159.17 L433.46,171.17 L433.72,159.45 L433.98,162.85 L434.24,161.39 L434.5,171.95 L434.76,160.32 L435.02,156.9 L435.28,161.47 L435.54,155.68 L435.8,160.43 L436.06,159.16 L436.32,161.4 L436.58,174.42 L436.84,156.19 L437.1,159.72 L437.36,157.91 L437.62,164.84 L437.88,150.26 L438.14,154.16 L438.4,159.38 L438.66,164.07 L438.92,159.42 L439.18,155.87 L439.44,153 L439.7,164.02 L439.96,171.49 L440.22,162.62 L440.48,161.6 L440.74,163.69 L441,152.64 L441.26,157.74 L441.52,158.14 L441.78,162.71 L442.04,160.13 L442.3,150.63 L442.56,169.56 L442.82,174.2 L443.08,158.45 L443.34,163.86 L443.6,162.84 L443.86,167.09 L444.12,148.75 L444.38,173.94 L444.64,157.06 L444.9,171.22 L445.16,161.62 L445.42,157.83 L445.68,159.91 L445.94,168.45 L446.2,154.07 L446.46,158.12 L446.72,157.28 L446.98,147.18 L447.24,172.04 L447.5,166.15 L447.76,161.25 L448.02,171.08 L448.28,153.6 L448.54,160.95 L448.8,175.9 L449.06,169.78 L449.32,143.21 L449.58,134.03 L449.84,153.14 L450.1,170.67 L450.36,157.92 L450.62,160.09 L450.88,167.04 L451.14,154.59 L451.4,163.82 L451.66,168.72 L451.92,166.04 L452.18,165.49 L452.44,157.14 L452.7,166.57 L452.96,158.68 L453.22,173.33 L453.48,184.07 L453.74,156.16 L454,144.05 L454.26,158.89 L454.52,165.72 L454.78,171.48 L455.04,171.77 L455.3,155.98 L455.56,155.94 L455.82,173.51 L456.08,153.45 L456.34,172.1 L456.6,160.9 L456.86,169.42 L457.12,168.95 L457.38,169.6 L457.64,170.01 L457.9,154.53 L458.16,165.61 L458.42,163.21 L458.68,165.78 L458.94,173.77 L459.2,160.86 L459.46,157.09 L459.72,156.98 L459.98,160.62 L460.24,169.84 L460.5,156.32 L460.76,173.43 L461.02,165.95 L461.28,161.51 L461.54,151.95 L461.8,165.66 L462.06,169.57 L462.32,148.24 L462.58,173.99 L462.84,178 L463.1,166.63 L463.36,168 L463.62,184.81 L463.88,174.53 L464.14,155.96 L464.4,163.69 L464.66,162.49 L464.92,162.57 L465.18,143.2 L465.44,170.58 L465.7,158.38 L465.96,165.43" fill="none" stroke="#3a7cc8" stroke-width="1.0"/>
<path d="M295.8,175 L296.04,171.39 L296.26,167.79 L296.48,164.18 L296.69,160.57 L296.88,156.96 L297.06,153.35 L297.21,149.74 L297.35,146.13 L297.48,142.52 L297.6,138.91 L297.71,135.3 L297.81,131.68 L297.92,128.07 L298.01,124.46 L298.11,120.84 L298.21,117.23 L298.3,113.62 L298.4,110 L298.5,106.39 L298.59,102.78 L298.67,99.17 L298.76,95.55 L298.84,91.94 L298.93,88.33 L299.02,84.71 L299.11,81.1 L299.22,77.49 L299.34,73.88 L299.46,70.26 L299.59,66.65 L299.74,63.04 L299.89,59.43 L300.07,55.82 L300.27,52.21 L300.49,48.6 L300.76,44.99 L301.12,41.4 L301.64,37.73 L303.2,34.7 L303.2,34.63 L303.46,34.78 L303.72,35.52 L303.98,36.12 L304.24,36.74 L304.5,36.69 L304.76,36.78 L305.02,37.03 L305.28,37.97 L305.54,38.67 L305.8,38.47 L306.06,38.2 L306.32,38.65 L306.58,40.03 L306.84,39.8 L307.1,39.33 L307.36,40.36 L307.62,40.23 L307.88,40.8 L308.14,41.19 L308.4,41.43 L308.66,42.31 L308.92,42.38 L309.18,42.47 L309.44,43.25 L309.7,43.78 L309.96,42.98 L310.22,43.94 L310.48,43.93 L310.74,44.63 L311,44.43 L311.26,45.37 L311.52,45.67 L311.78,45.86 L312.04,45.82 L312.3,46.45 L312.56,46.42 L312.82,46.6 L313.08,47.71 L313.34,47.35 L313.6,48.82 L313.86,48.9 L314.12,47.82 L314.38,49.31 L314.64,48.9 L314.9,49.81 L315.16,50.13 L315.42,49.36 L315.68,50.61 L315.94,50.91 L316.2,51.89 L316.46,51.03 L316.72,52.41 L316.98,51.7 L317.24,52.45 L317.5,52.48 L317.76,54.11 L318.02,53.93 L318.28,55.34 L318.54,54.62 L318.8,55.07 L319.06,55.4 L319.32,54.87 L319.58,55.52 L319.84,56.72 L320.1,55.99 L320.36,56.69 L320.62,56.9 L320.88,57.64 L321.14,57.37 L321.4,57.86 L321.66,58.47 L321.92,58.74 L322.18,58.47 L322.44,60.01 L322.7,58.91 L322.96,59.34 L323.22,59.66 L323.48,61.58 L323.74,61.04 L324,60.99 L324.26,61.24 L324.52,62.73 L324.78,62.05 L325.04,62.27 L325.3,64.03 L325.56,63.07 L325.82,64.1 L326.08,64.71 L326.34,64.75 L326.6,65.42 L326.86,66.88 L327.12,65.8 L327.38,65.58 L327.64,65.47 L327.9,67.13 L328.16,67.37 L328.42,68.22 L328.68,67.97 L328.94,68.29 L329.2,68.42 L329.46,68.92 L329.72,69.82 L329.98,69.68 L330.24,70.4 L330.5,72.28 L330.76,71.35 L331.02,69.84 L331.28,73.08 L331.54,72.15 L331.8,71.28 L332.06,73.25 L332.32,72.73 L332.58,72.43 L332.84,72.7 L333.1,72.64 L333.36,73.89 L333.62,75.14 L333.88,74.09 L334.14,75.08 L334.4,76.77 L334.66,74.04 L334.92,75.75 L335.18,75.46 L335.44,74.98 L335.7,75.28 L335.96,76.55 L336.22,77.27 L336.48,76.56 L336.74,77.42 L337,78.37 L337.26,78.2 L337.52,79.06 L337.78,78.9 L338.04,79.19 L338.3,80.88 L338.56,79.87 L338.82,79.61 L339.08,80.5 L339.34,78.99 L339.6,79.89 L339.86,81.4 L340.12,81.49 L340.38,82.79 L340.64,81.34 L340.9,79.94 L341.16,84.09 L341.42,83.39 L341.68,81.18 L341.94,84.27 L342.2,82.98 L342.46,81.07 L342.72,82.98 L342.98,83.14 L343.24,85.92 L343.5,83.32 L343.76,84.24 L344.02,84.48 L344.28,84.61 L344.54,84.21 L344.8,85.89 L345.06,87.23 L345.32,86.93 L345.58,85.23 L345.84,85.2 L346.1,87.09 L346.36,86.28 L346.62,86.64 L346.88,85.52 L347.14,90.56 L347.4,89.46 L347.66,87.2 L347.92,89.99 L348.18,90.84 L348.44,86.03 L348.7,88.79 L348.96,89.26 L349.22,90.95 L349.48,90.14 L349.74,90.24 L350,90.73 L350.26,93.71 L350.52,94.42 L350.78,90.82 L351.04,90.48 L351.3,96 L351.56,90.89 L351.82,91.73 L352.08,92.88 L352.34,93.79 L352.6,94.86 L352.86,94.16 L353.12,92.49 L353.38,94.83 L353.64,94.69 L353.9,97.46 L354.16,94.77 L354.42,92.95 L354.68,93.64 L354.94,97.83 L355.2,94.91 L355.46,92.64 L355.72,95.32 L355.98,96.5 L356.24,98.68 L356.5,95.31 L356.76,98.32 L357.02,98.77 L357.28,96.53 L357.54,97.61 L357.8,101.15 L358.06,101.32 L358.32,100.1 L358.58,99.44 L358.84,101.07 L359.1,99.09 L359.36,99.4 L359.62,98.29 L359.88,100.04 L360.14,100.11 L360.4,105.44 L360.66,100.36 L360.92,103.23 L361.18,103.56 L361.44,101.05 L361.7,103.75 L361.96,97.82 L362.22,102.23 L362.48,103.87 L362.74,98 L363,100.52 L363.26,104.91 L363.52,102.64 L363.78,101.24 L364.04,102.83 L364.3,102.71 L364.56,105.37 L364.82,105.06 L365.08,103.83 L365.34,103.28 L365.6,104.69 L365.86,107.64 L366.12,105.91 L366.38,106.7 L366.64,105.31 L366.9,103.21 L367.16,104.58 L367.42,107.57 L367.68,106.65 L367.94,104.78 L368.2,103.49 L368.46,107.29 L368.72,106.55 L368.98,106.73 L369.24,106.98 L369.5,108.5 L369.76,108.73 L370.02,110.38 L370.28,110.53 L370.54,111.64 L370.8,110.72 L371.06,108.43 L371.32,109.26 L371.58,110.7 L371.84,109.12 L372.1,111.27 L372.36,112.86 L372.62,108.66 L372.88,106.66 L373.14,113.65 L373.4,111.18 L373.66,113 L373.92,108.48 L374.18,115.87 L374.44,113.77 L374.7,111.95 L374.96,111.64 L375.22,112.97 L375.48,112.53 L375.74,112.48 L376,110.66 L376.26,116.7 L376.52,113.73 L376.78,114.24 L377.04,114.52 L377.3,108.63 L377.56,116.07 L377.82,114.14 L378.08,114.46 L378.34,115.6 L378.6,113.16 L378.86,118.06 L379.12,114.31 L379.38,113.98 L379.64,114.31 L379.9,117.22 L380.16,119.01 L380.42,115.67 L380.68,113.44 L380.94,120.58 L381.2,115.05 L381.46,121.43 L381.72,118.24 L381.98,116.7 L382.24,117.07 L382.5,120.36 L382.76,121.8 L383.02,118.97 L383.28,122.44 L383.54,125.94 L383.8,119.61 L384.06,117.12 L384.32,117.6 L384.58,116.83 L384.84,119.23 L385.1,119.19 L385.36,117.63 L385.62,123.34 L385.88,114.2 L386.14,118.24 L386.4,128.53 L386.66,125.8 L386.92,124.45 L387.18,124.48 L387.44,128.77 L387.7,125.17 L387.96,123.96 L388.22,120.09 L388.48,123.91 L388.74,122.04 L389,122.32 L389.26,122.5 L389.52,124.84 L389.78,124.13 L390.04,128.23 L390.3,121.29 L390.56,125.25 L390.82,132.15 L391.08,126.34 L391.34,130.41 L391.6,130.42 L391.86,131.24 L392.12,129.5 L392.38,122.54 L392.64,126.49 L392.9,126.29 L393.16,122.48 L393.42,126.37 L393.68,123.84 L393.94,122.57 L394.2,129.27 L394.46,128.56 L394.72,126.48 L394.98,125.72 L395.24,127.34 L395.5,128.03 L395.76,128.16 L396.02,129.61 L396.28,128.4 L396.54,131.56 L396.8,132.24 L397.06,131.82 L397.32,128.24 L397.58,128.58 L397.84,132.65 L398.1,130.47 L398.36,131.22 L398.62,122.23 L398.88,121.59 L399.14,133.18 L399.4,133.33 L399.66,137.59 L399.92,135.19 L400.18,133.44 L400.44,132.82 L400.7,127.4 L400.96,136.55 L401.22,130.91 L401.48,135.41 L401.74,134.39 L402,134.85 L402.26,137.5 L402.52,132.15 L402.78,132.72 L403.04,130.99 L403.3,133.08 L403.56,141.56 L403.82,133.45 L404.08,139.96 L404.34,138.65 L404.6,138.43 L404.86,138.91 L405.12,131.53 L405.38,137.46 L405.64,142.74 L405.9,133.3 L406.16,136.18 L406.42,133.62 L406.68,138.04 L406.94,132.26 L407.2,143.94 L407.46,135.54 L407.72,130.68 L407.98,145.27 L408.24,141.86 L408.5,140.04 L408.76,140.27 L409.02,136.51 L409.28,137.25 L409.54,141.6 L409.8,142.63 L410.06,142.86 L410.32,139.79 L410.58,136.89 L410.84,138.27 L411.1,144.32 L411.36,146 L411.62,138.02 L411.88,137.54 L412.14,145.61 L412.4,143.35 L412.66,143.38 L412.92,134.23 L413.18,138.7 L413.44,138.18 L413.7,141.69 L413.96,132.98 L414.22,147.02 L414.48,142.56 L414.74,143.35 L415,135.8 L415.26,141.43 L415.52,148.12 L415.78,134.31 L416.04,143.44 L416.3,145.49 L416.56,138.88 L416.82,146.34 L417.08,140.88 L417.34,148.68 L417.6,145.36 L417.86,144 L418.12,153.04 L418.38,147.29 L418.64,149.82 L418.9,137.48 L419.16,140.3 L419.42,147.87 L419.68,148.36 L419.94,143.62 L420.2,147.99 L420.46,138.79 L420.72,145.37 L420.98,138.55 L421.24,146.27 L421.5,142.14 L421.76,141.46 L422.02,145.17 L422.28,154.5 L422.54,139.87 L422.8,142.1 L423.06,150.97 L423.32,143.25 L423.58,154.97 L423.84,146.88 L424.1,146.3 L424.36,147.83 L424.62,155.39 L424.88,149.67 L425.14,149.05 L425.4,147.74 L425.66,138.15 L425.92,141.86 L426.18,154.8 L426.44,151.31 L426.7,149.71 L426.96,150.54 L427.22,144.2 L427.48,149.13 L427.74,142.46 L428,149.65 L428.26,143.67 L428.52,146.53 L428.78,150.34 L429.04,146.11 L429.3,151.65 L429.56,150.69 L429.82,150.26 L430.08,155.84 L430.34,140.19 L430.6,139.59 L430.86,152.15 L431.12,154.12 L431.38,160.42 L431.64,153.29 L431.9,153.83 L432.16,144.12 L432.42,153.6 L432.68,153.26 L432.94,143.39 L433.2,144.39 L433.46,149.02 L433.72,151.44 L433.98,132.91 L434.24,150.36 L434.5,151.4 L434.76,149.11 L435.02,151.81 L435.28,153.03 L435.54,144.48 L435.8,153 L436.06,149.13 L436.32,145.12 L436.58,152.06 L436.84,159.87 L437.1,142.31 L437.36,141.24 L437.62,141.32 L437.88,163.33 L438.14,149.85 L438.4,151.1 L438.66,146.79 L438.92,145.95 L439.18,139.49 L439.44,152.86 L439.7,153.5 L439.96,139.99 L440.22,145.71 L440.48,147.61 L440.74,152.1 L441,153.87 L441.26,159.47 L441.52,161.07 L441.78,159.31 L442.04,161.14 L442.3,145.54 L442.56,149.42 L442.82,160.2 L443.08,154.87 L443.34,153.26 L443.6,140.85 L443.86,141.66 L444.12,158.06 L444.38,155.66 L444.64,151.69 L444.9,151.03 L445.16,142.8 L445.42,156.21 L445.68,160.6 L445.94,164.67 L446.2,154.4 L446.46,152.85 L446.72,147.2 L446.98,162.33 L447.24,165.63 L447.5,150.52 L447.76,156.48 L448.02,155.26 L448.28,151 L448.54,138.65 L448.8,152.51 L449.06,159.01 L449.32,145.62 L449.58,149.63 L449.84,133.84 L450.1,163.92 L450.36,158.74 L450.62,155.78 L450.88,153.75 L451.14,151.39 L451.4,155.19 L451.66,153.71 L451.92,154.21 L452.18,155.72 L452.44,156.88 L452.7,166.7 L452.96,146.44 L453.22,158.05 L453.48,152.11 L453.74,148.7 L454,140.54 L454.26,160.74 L454.52,149.9 L454.78,151.53 L455.04,159.97 L455.3,149.39 L455.56,157.06 L455.82,156.43 L456.08,162.61 L456.34,164.16 L456.6,151.18 L456.86,163.67 L457.12,156.64 L457.38,158.25 L457.64,155.98 L457.9,163 L458.16,149.15 L458.42,159.51 L458.68,166.1 L458.94,155.82 L459.2,172.45 L459.46,152.77 L459.72,159.54 L459.98,154.67 L460.24,153.78 L460.5,150.33 L460.76,154.45 L461.02,157.99 L461.28,152.71 L461.54,164.87 L461.8,169.62 L462.06,147.73 L462.32,164.75 L462.58,160.12 L462.84,160.59 L463.1,177.07 L463.36,167.77 L463.62,161.45 L463.88,160.42 L464.14,143.65 L464.4,164.95 L464.66,153.9 L464.92,160.69 L465.18,160.18 L465.44,166.63 L465.7,174.76 L465.96,166.94" fill="none" stroke="#111111" stroke-width="1.0"/>
<path d="M295.8,175 L296.04,171.39 L296.26,167.79 L296.48,164.18 L296.69,160.57 L296.88,156.96 L297.06,153.35 L297.21,149.74 L297.35,146.13 L297.48,142.52 L297.6,138.91 L297.71,135.3 L297.81,131.68 L297.92,128.07 L298.01,124.46 L298.11,120.84 L298.21,117.23 L298.3,113.62 L298.4,110 L298.5,106.39 L298.59,102.78 L298.67,99.17 L298.76,95.55 L298.84,91.94 L298.93,88.33 L299.02,84.71 L299.11,81.1 L299.22,77.49 L299.34,73.88 L299.46,70.26 L299.59,66.65 L299.74,63.04 L299.89,59.43 L300.07,55.82 L300.27,52.21 L300.49,48.6 L300.76,44.99 L301.12,41.4 L301.64,37.73 L303.2,34.7 L303.2,34.22 L303.46,34.99 L303.72,34.55 L303.98,35.84 L304.24,36.39 L304.5,36.06 L304.76,36.78 L305.02,37.04 L305.28,37.1 L305.54,37.23 L305.8,37.06 L306.06,38.91 L306.32,38.6 L306.58,40.09 L306.84,39.66 L307.1,39.75 L307.36,39.66 L307.62,40.94 L307.88,40.39 L308.14,41.7 L308.4,41.1 L308.66,41.71 L308.92,41.21 L309.18,43.42 L309.44,42.56 L309.7,42.74 L309.96,43.67 L310.22,43.14 L310.48,44.3 L310.74,43.64 L311,44.84 L311.26,44.33 L311.52,44.24 L311.78,45.2 L312.04,45.05 L312.3,46.44 L312.56,46.47 L312.82,47.04 L313.08,47.13 L313.34,47.2 L313.6,47.72 L313.86,48.6 L314.12,48.22 L314.38,48.2 L314.64,48.39 L314.9,49.12 L315.16,49.13 L315.42,50.97 L315.68,49.49 L315.94,49.85 L316.2,50.62 L316.46,51.51 L316.72,51.27 L316.98,51.16 L317.24,51.56 L317.5,52.15 L317.76,53.29 L318.02,52.39 L318.28,53.27 L318.54,53.25 L318.8,54.17 L319.06,54.55 L319.32,53.66 L319.58,56.51 L319.84,55.4 L320.1,55.26 L320.36,55.33 L320.62,56.09 L320.88,56.63 L321.14,57.36 L321.4,57.3 L321.66,57.99 L321.92,56.87 L322.18,57.83 L322.44,58 L322.7,59.21 L322.96,59.8 L323.22,58.74 L323.48,60.08 L323.74,61.12 L324,61.65 L324.26,60.47 L324.52,62.14 L324.78,62.34 L325.04,62.11 L325.3,64.39 L325.56,62.3 L325.82,63.35 L326.08,64.31 L326.34,64.51 L326.6,64.54 L326.86,66.2 L327.12,66.63 L327.38,66.55 L327.64,66.99 L327.9,66.43 L328.16,65.8 L328.42,69.1 L328.68,66.65 L328.94,69.85 L329.2,68.06 L329.46,68.71 L329.72,68.66 L329.98,70.01 L330.24,68.96 L330.5,71.47 L330.76,70.54 L331.02,70.5 L331.28,70.08 L331.54,71.19 L331.8,71.2 L332.06,73.36 L332.32,72.7 L332.58,70.51 L332.84,73.87 L333.1,70.22 L333.36,74.45 L333.62,71.23 L333.88,73.43 L334.14,74.54 L334.4,73.96 L334.66,73.08 L334.92,75.8 L335.18,72.87 L335.44,73.46 L335.7,76.77 L335.96,74.61 L336.22,76.07 L336.48,76.95 L336.74,76.2 L337,76.88 L337.26,76.97 L337.52,77.33 L337.78,78.69 L338.04,78.66 L338.3,78.23 L338.56,79.17 L338.82,77.74 L339.08,77.74 L339.34,77.71 L339.6,80.07 L339.86,81.33 L340.12,79.76 L340.38,77.54 L340.64,79.57 L340.9,81.01 L341.16,81.07 L341.42,81.08 L341.68,82.45 L341.94,82.65 L342.2,80.07 L342.46,82.56 L342.72,81.33 L342.98,82.83 L343.24,84.39 L343.5,85.42 L343.76,84.22 L344.02,82.91 L344.28,83.36 L344.54,84.79 L344.8,83.02 L345.06,84.51 L345.32,85.68 L345.58,86.36 L345.84,84.96 L346.1,86.14 L346.36,87.77 L346.62,86.56 L346.88,83.98 L347.14,86.95 L347.4,87.25 L347.66,86.55 L347.92,87.46 L348.18,85.51 L348.44,89.71 L348.7,88.77 L348.96,87.6 L349.22,88.99 L349.48,89.09 L349.74,87.84 L350,85.36 L350.26,85.31 L350.52,92.95 L350.78,88.4 L351.04,89.9 L351.3,91.48 L351.56,90.27 L351.82,92.95 L352.08,89.82 L352.34,92.45 L352.6,88.46 L352.86,93.18 L353.12,93.39 L353.38,93.11 L353.64,93.24 L353.9,93.43 L354.16,94.65 L354.42,95.06 L354.68,92.11 L354.94,95.7 L355.2,92.56 L355.46,94.67 L355.72,94.19 L355.98,95.68 L356.24,94.51 L356.5,96.02 L356.76,94.71 L357.02,94.09 L357.28,97.89 L357.54,97.25 L357.8,97.38 L358.06,98.41 L358.32,95 L358.58,98.8 L358.84,95.43 L359.1,98.28 L359.36,97.48 L359.62,98.53 L359.88,99.55 L360.14,98.51 L360.4,96.95 L360.66,100.66 L360.92,101.36 L361.18,100.65 L361.44,101.54 L361.7,96.35 L361.96,100.11 L362.22,99.96 L362.48,96.55 L362.74,100.81 L363,100.81 L363.26,98 L363.52,99.53 L363.78,101.59 L364.04,102.83 L364.3,103.26 L364.56,99.76 L364.82,100 L365.08,101.37 L365.34,102.51 L365.6,101.61 L365.86,102.6 L366.12,104.69 L366.38,104.84 L366.64,103.88 L366.9,101.35 L367.16,102.93 L367.42,105.39 L367.68,106.25 L367.94,106.87 L368.2,102.45 L368.46,103.94 L368.72,102.49 L368.98,98.83 L369.24,103.12 L369.5,101.79 L369.76,109.08 L370.02,107.22 L370.28,104.9 L370.54,106.71 L370.8,107.71 L371.06,110.99 L371.32,108.97 L371.58,110.92 L371.84,108.72 L372.1,110.85 L372.36,111.4 L372.62,110.42 L372.88,108.5 L373.14,111.25 L373.4,107.9 L373.66,112.5 L373.92,108.6 L374.18,107.81 L374.44,114.31 L374.7,108.89 L374.96,110.52 L375.22,107.67 L375.48,108.79 L375.74,109.9 L376,108.46 L376.26,114.28 L376.52,109.54 L376.78,108.38 L377.04,114.7 L377.3,113.88 L377.56,106.17 L377.82,110.97 L378.08,115.31 L378.34,110.86 L378.6,112.37 L378.86,112.69 L379.12,107.45 L379.38,111.36 L379.64,116.07 L379.9,118.15 L380.16,114.2 L380.42,114.34 L380.68,116.39 L380.94,115.54 L381.2,116.72 L381.46,113.03 L381.72,115.78 L381.98,117.37 L382.24,117.85 L382.5,111.87 L382.76,118.95 L383.02,117.12 L383.28,117.45 L383.54,112 L383.8,117.53 L384.06,112.93 L384.32,110.29 L384.58,118.33 L384.84,118.25 L385.1,118.64 L385.36,119.22 L385.62,118.89 L385.88,122.48 L386.14,121.81 L386.4,124.56 L386.66,127.59 L386.92,122.36 L387.18,122.67 L387.44,126.36 L387.7,117.79 L387.96,119.73 L388.22,121.79 L388.48,116.14 L388.74,124.5 L389,126.7 L389.26,117.64 L389.52,119.27 L389.78,125.11 L390.04,126.8 L390.3,116.97 L390.56,124.5 L390.82,122.16 L391.08,116.77 L391.34,121.76 L391.6,121.43 L391.86,123.91 L392.12,123.85 L392.38,122.94 L392.64,123.6 L392.9,123.7 L393.16,126.21 L393.42,127.97 L393.68,128.14 L393.94,121.77 L394.2,122.27 L394.46,122.86 L394.72,130.51 L394.98,127.31 L395.24,122.98 L395.5,121.71 L395.76,122.41 L396.02,126.35 L396.28,122.35 L396.54,126.55 L396.8,131.71 L397.06,125.95 L397.32,130.24 L397.58,121.51 L397.84,128.72 L398.1,128.64 L398.36,124.2 L398.62,133.09 L398.88,127.99 L399.14,125.54 L399.4,127.21 L399.66,132.16 L399.92,123.32 L400.18,129.38 L400.44,125.2 L400.7,130 L400.96,127.19 L401.22,129.13 L401.48,132.59 L401.74,129.9 L402,132.08 L402.26,132.83 L402.52,131.82 L402.78,131.25 L403.04,130.66 L403.3,133.23 L403.56,135.69 L403.82,138.44 L404.08,138.29 L404.34,127.13 L404.6,132.6 L404.86,133.56 L405.12,136.72 L405.38,136.25 L405.64,125.94 L405.9,133.27 L406.16,125 L406.42,130.38 L406.68,128.59 L406.94,130.07 L407.2,139.57 L407.46,130.63 L407.72,130.95 L407.98,133.77 L408.24,138.02 L408.5,126.08 L408.76,140.73 L409.02,130.44 L409.28,129.55 L409.54,134.63 L409.8,137.17 L410.06,146.27 L410.32,138.45 L410.58,131.94 L410.84,133.8 L411.1,130.54 L411.36,137.94 L411.62,138.86 L411.88,133.73 L412.14,140.52 L412.4,127.75 L412.66,133.43 L412.92,131.49 L413.18,133.15 L413.44,128.4 L413.7,140.54 L413.96,131.8 L414.22,135.75 L414.48,142.02 L414.74,144.14 L415,142.29 L415.26,126.25 L415.52,135.54 L415.78,135.43 L416.04,133.95 L416.3,133.58 L416.56,134.8 L416.82,140.4 L417.08,135.46 L417.34,131.28 L417.6,130.24 L417.86,138.75 L418.12,129.72 L418.38,141.71 L418.64,135.96 L418.9,136.02 L419.16,139.76 L419.42,136.96 L419.68,142.38 L419.94,132.56 L420.2,129.98 L420.46,148.97 L420.72,140.17 L420.98,126.35 L421.24,148.06 L421.5,132.46 L421.76,150.11 L422.02,149.05 L422.28,144.46 L422.54,140.11 L422.8,135.71 L423.06,145.2 L423.32,138.35 L423.58,146.11 L423.84,139.17 L424.1,132.5 L424.36,137.17 L424.62,141.25 L424.88,138.46 L425.14,141.87 L425.4,136.37 L425.66,149.81 L425.92,138.67 L426.18,144.31 L426.44,132.72 L426.7,146.16 L426.96,150.07 L427.22,145.18 L427.48,140.76 L427.74,137.16 L428,145.53 L428.26,145.49 L428.52,135.38 L428.78,142.65 L429.04,145.6 L429.3,138.5 L429.56,146.15 L429.82,141.46 L430.08,150.95 L430.34,136.11 L430.6,146.09 L430.86,143.96 L431.12,132.96 L431.38,138.31 L431.64,138.81 L431.9,148.82 L432.16,141.75 L432.42,143.79 L432.68,144.76 L432.94,158.32 L433.2,142.75 L433.46,154.98 L433.72,143.21 L433.98,135.37 L434.24,139.78 L434.5,137.41 L434.76,142.47 L435.02,136.28 L435.28,139.51 L435.54,155.68 L435.8,146.29 L436.06,146.92 L436.32,155.46 L436.58,135.57 L436.84,148.5 L437.1,142.59 L437.36,145.21 L437.62,141.5 L437.88,146.25 L438.14,152.8 L438.4,152.72 L438.66,147.25 L438.92,150.68 L439.18,138.91 L439.44,128.63 L439.7,152.23 L439.96,158.08 L440.22,149.03 L440.48,142.68 L440.74,146.71 L441,153.73 L441.26,139.58 L441.52,147.09 L441.78,150.39 L442.04,140.62 L442.3,159.31 L442.56,151.84 L442.82,156.96 L443.08,140.56 L443.34,148.49 L443.6,156.47 L443.86,150.06 L444.12,155.03 L444.38,136.11 L444.64,147.01 L444.9,135.31 L445.16,144.62 L445.42,149.54 L445.68,147.14 L445.94,140.11 L446.2,149.81 L446.46,152.08 L446.72,147.52 L446.98,153.2 L447.24,155.31 L447.5,156 L447.76,146.29 L448.02,151.68 L448.28,144.55 L448.54,148.07 L448.8,155.36 L449.06,148.08 L449.32,145.96 L449.58,145.13 L449.84,152.21 L450.1,159.13 L450.36,154.92 L450.62,147.74 L450.88,154.3 L451.14,155.31 L451.4,158.62 L451.66,145.11 L451.92,153.56 L452.18,147 L452.44,146.15 L452.7,157.7 L452.96,153.27 L453.22,150.33 L453.48,158.6 L453.74,151.05 L454,144.29 L454.26,155.96 L454.52,144.13 L454.78,144.56 L455.04,147.58 L455.3,149.33 L455.56,156.26 L455.82,148.16 L456.08,138.53 L456.34,146.88 L456.6,152.73 L456.86,149.94 L457.12,150 L457.38,142.77 L457.64,148.35 L457.9,154.8 L458.16,154.98 L458.42,145.55 L458.68,146.33 L458.94,144.74 L459.2,157.47 L459.46,146.33 L459.72,149.58 L459.98,145.93 L460.24,145.39 L460.5,150.7 L460.76,157.63 L461.02,147.81 L461.28,159.58 L461.54,151.43 L461.8,156.72 L462.06,168.4 L462.32,167.1 L462.58,153.99 L462.84,152.63 L463.1,151.12 L463.36,157.02 L463.62,139.37 L463.88,147.49 L464.14,151.43 L464.4,147.17 L464.66,145.62 L464.92,161.34 L465.18,142.46 L465.44,149.65 L465.7,148.66 L465.96,149.48" fill="none" stroke="#f4b800" stroke-width="1.0" stroke-opacity="0.78"/>
<path d="M295.8,175 L296.04,171.39 L296.26,167.79 L296.48,164.18 L296.69,160.57 L296.88,156.96 L297.06,153.35 L297.21,149.74 L297.35,146.13 L297.48,142.52 L297.6,138.91 L297.71,135.3 L297.81,131.68 L297.92,128.07 L298.01,124.46 L298.11,120.84 L298.21,117.23 L298.3,113.62 L298.4,110 L298.5,106.39 L298.59,102.78 L298.67,99.17 L298.76,95.55 L298.84,91.94 L298.93,88.33 L299.02,84.71 L299.11,81.1 L299.22,77.49 L299.34,73.88 L299.46,70.26 L299.59,66.65 L299.74,63.04 L299.89,59.43 L300.07,55.82 L300.27,52.21 L300.49,48.6 L300.76,44.99 L301.12,41.4 L301.64,37.73 L303.2,34.7" fill="none" stroke="#b8a040" stroke-width="1.2"/>
</g>
<line x1="285.4" y1="20.5" x2="465.3" y2="20.5" stroke="#888" stroke-width="1"/>
<line x1="285.4" y1="20.5" x2="285.4" y2="164.2" stroke="#262626" stroke-width="1"/>
<line x1="285.4" y1="164.2" x2="465.3" y2="164.2" stroke="#262626" stroke-width="1"/>
<line x1="465.3" y1="20.5" x2="465.3" y2="164.2" stroke="#262626" stroke-width="1"/>
<line x1="285.4" y1="164.2" x2="288.4" y2="164.2" stroke="#262626" stroke-width="1"/>
<line x1="285.4" y1="116.3" x2="288.4" y2="116.3" stroke="#262626" stroke-width="1"/>
<line x1="285.4" y1="68.4" x2="288.4" y2="68.4" stroke="#262626" stroke-width="1"/>
<line x1="285.4" y1="20.5" x2="288.4" y2="20.5" stroke="#262626" stroke-width="1"/>
<line x1="285.4" y1="149.78" x2="287.6" y2="149.78" stroke="#262626" stroke-width="0.9"/>
<line x1="285.4" y1="141.35" x2="287.6" y2="141.35" stroke="#262626" stroke-width="0.9"/>
<line x1="285.4" y1="135.36" x2="287.6" y2="135.36" stroke="#262626" stroke-width="0.9"/>
<line x1="285.4" y1="130.72" x2="287.6" y2="130.72" stroke="#262626" stroke-width="0.9"/>
<line x1="285.4" y1="126.93" x2="287.6" y2="126.93" stroke="#262626" stroke-width="0.9"/>
<line x1="285.4" y1="123.72" x2="287.6" y2="123.72" stroke="#262626" stroke-width="0.9"/>
<line x1="285.4" y1="120.94" x2="287.6" y2="120.94" stroke="#262626" stroke-width="0.9"/>
<line x1="285.4" y1="118.49" x2="287.6" y2="118.49" stroke="#262626" stroke-width="0.9"/>
<line x1="285.4" y1="101.88" x2="287.6" y2="101.88" stroke="#262626" stroke-width="0.9"/>
<line x1="285.4" y1="93.45" x2="287.6" y2="93.45" stroke="#262626" stroke-width="0.9"/>
<line x1="285.4" y1="87.46" x2="287.6" y2="87.46" stroke="#262626" stroke-width="0.9"/>
<line x1="285.4" y1="82.82" x2="287.6" y2="82.82" stroke="#262626" stroke-width="0.9"/>
<line x1="285.4" y1="79.03" x2="287.6" y2="79.03" stroke="#262626" stroke-width="0.9"/>
<line x1="285.4" y1="75.82" x2="287.6" y2="75.82" stroke="#262626" stroke-width="0.9"/>
<line x1="285.4" y1="73.04" x2="287.6" y2="73.04" stroke="#262626" stroke-width="0.9"/>
<line x1="285.4" y1="70.59" x2="287.6" y2="70.59" stroke="#262626" stroke-width="0.9"/>
<line x1="285.4" y1="53.98" x2="287.6" y2="53.98" stroke="#262626" stroke-width="0.9"/>
<line x1="285.4" y1="45.55" x2="287.6" y2="45.55" stroke="#262626" stroke-width="0.9"/>
<line x1="285.4" y1="39.56" x2="287.6" y2="39.56" stroke="#262626" stroke-width="0.9"/>
<line x1="285.4" y1="34.92" x2="287.6" y2="34.92" stroke="#262626" stroke-width="0.9"/>
<line x1="285.4" y1="31.13" x2="287.6" y2="31.13" stroke="#262626" stroke-width="0.9"/>
<line x1="285.4" y1="27.92" x2="287.6" y2="27.92" stroke="#262626" stroke-width="0.9"/>
<line x1="285.4" y1="25.14" x2="287.6" y2="25.14" stroke="#262626" stroke-width="0.9"/>
<line x1="285.4" y1="22.69" x2="287.6" y2="22.69" stroke="#262626" stroke-width="0.9"/>
<line x1="324.1" y1="164.2" x2="324.1" y2="162" stroke="#262626" stroke-width="1"/>
<line x1="362.8" y1="164.2" x2="362.8" y2="162" stroke="#262626" stroke-width="1"/>
<line x1="401.5" y1="164.2" x2="401.5" y2="162" stroke="#262626" stroke-width="1"/>
<line x1="440.2" y1="164.2" x2="440.2" y2="162" stroke="#262626" stroke-width="1"/>
<text x="280" y="168.2" font-size="8.7" text-anchor="end" font-weight="normal" font-style="normal" fill="#1a1a1a">10</text>
<text x="283.6" y="165.2" font-size="5.8" text-anchor="end" font-weight="normal" font-style="normal" fill="#1a1a1a">1</text>
<text x="280" y="120.3" font-size="8.7" text-anchor="end" font-weight="normal" font-style="normal" fill="#1a1a1a">10</text>
<text x="283.6" y="117.3" font-size="5.8" text-anchor="end" font-weight="normal" font-style="normal" fill="#1a1a1a">2</text>
<text x="280" y="72.4" font-size="8.7" text-anchor="end" font-weight="normal" font-style="normal" fill="#1a1a1a">10</text>
<text x="283.6" y="69.4" font-size="5.8" text-anchor="end" font-weight="normal" font-style="normal" fill="#1a1a1a">3</text>
<text x="280" y="24.5" font-size="8.7" text-anchor="end" font-weight="normal" font-style="normal" fill="#1a1a1a">10</text>
<text x="283.6" y="21.5" font-size="5.8" text-anchor="end" font-weight="normal" font-style="normal" fill="#1a1a1a">4</text>
<text x="285.4" y="173.4" font-size="8.7" text-anchor="middle" font-weight="normal" font-style="normal" fill="#1a1a1a">0</text>
<text x="324.1" y="173.4" font-size="8.7" text-anchor="middle" font-weight="normal" font-style="normal" fill="#1a1a1a">15</text>
<text x="362.8" y="173.4" font-size="8.7" text-anchor="middle" font-weight="normal" font-style="normal" fill="#1a1a1a">30</text>
<text x="401.5" y="173.4" font-size="8.7" text-anchor="middle" font-weight="normal" font-style="normal" fill="#1a1a1a">45</text>
<text x="440.2" y="173.4" font-size="8.7" text-anchor="middle" font-weight="normal" font-style="normal" fill="#1a1a1a">60</text>
<text x="373.4" y="184.5" font-size="8.9" text-anchor="middle" font-weight="normal" font-style="normal" fill="#1a1a1a">Time delay (ns)</text>
<text x="261.5" y="91.5" font-size="8.9" text-anchor="middle" font-weight="normal" font-style="normal" fill="#1a1a1a" transform="rotate(-90 261.5 91.5)">Normalized PL counts</text>
<line x1="322.2" y1="27.6" x2="336.3" y2="27.6" stroke="#111111" stroke-width="1.4"/>
<line x1="322.2" y1="40.3" x2="336.3" y2="40.3" stroke="#3a7cc8" stroke-width="1.4"/>
<line x1="322.2" y1="53.3" x2="336.3" y2="53.3" stroke="#f7c948" stroke-width="1.4"/>
<text x="340" y="30.8" font-size="8.5" text-anchor="start" font-weight="normal" font-style="normal" fill="#1a1a1a">/ZnMgO/Al</text>
<text x="340" y="43.5" font-size="8.5" text-anchor="start" font-weight="normal" font-style="normal" fill="#1a1a1a"><tspan>/</tspan><tspan font-weight="bold" fill="#3a7cc8">H<tspan font-size="5.5" dy="2">2</tspan><tspan dy="-2">O</tspan></tspan></text>
<text x="340" y="56.5" font-size="8.5" text-anchor="start" font-weight="normal" font-style="normal" fill="#1a1a1a">/H<tspan font-size="5.5" dy="2">2</tspan><tspan dy="-2">O/</tspan><tspan font-weight="bold" fill="#f4b800">O<tspan font-size="5.5" dy="2">2</tspan></tspan></text>
<rect x="387.4" y="20.5" width="77.9" height="81.7" fill="#fff"/>
<path d="M387.4,101.5 L387.8,101.5 L388.2,101.5 L388.6,101.5 L389,101.5 L389.4,101.5 L389.8,101.5 L390.2,101.5 L390.6,101.5 L391,101.5 L391.4,101.5 L391.8,101.5 L392.2,101.5 L392.6,101.49 L393,101.5 L393.4,101.49 L393.8,101.49 L394.2,101.49 L394.6,101.49 L395,101.48 L395.4,101.49 L395.8,101.48 L396.2,101.48 L396.6,101.48 L397,101.46 L397.4,101.47 L397.8,101.48 L398.2,101.43 L398.6,101.42 L399,101.41 L399.4,101.43 L399.8,101.41 L400.2,101.4 L400.6,101.38 L401,101.35 L401.4,101.33 L401.8,101.29 L402.2,101.28 L402.6,101.2 L403,101.17 L403.4,101.14 L403.8,101.13 L404.2,100.99 L404.6,100.9 L405,100.84 L405.4,100.8 L405.8,100.65 L406.2,100.6 L406.6,100.32 L407,100.31 L407.4,100.15 L407.8,99.83 L408.2,99.71 L408.6,99.54 L409,99.22 L409.4,99 L409.8,98.79 L410.2,98.29 L410.6,97.87 L411,97.41 L411.4,97.09 L411.8,96.51 L412.2,95.97 L412.6,95.39 L413,94.84 L413.4,93.96 L413.8,93.15 L414.2,92.23 L414.6,91.87 L415,90.81 L415.4,90.06 L415.8,88.8 L416.2,87.6 L416.6,86.66 L417,85.36 L417.4,83.88 L417.8,82.62 L418.2,81.77 L418.6,80.08 L419,78.63 L419.4,76.98 L419.8,75.35 L420.2,74.14 L420.6,72.33 L421,70.58 L421.4,69.14 L421.8,67.36 L422.2,66.08 L422.6,64.81 L423,62.81 L423.4,62.02 L423.8,60.11 L424.2,59.12 L424.6,57.72 L425,56.92 L425.4,56.19 L425.8,55.42 L426.2,54.96 L426.6,54.97 L427,55.31 L427.4,55.71 L427.8,56.91 L428.2,58.08 L428.6,59.33 L429,60.48 L429.4,62.31 L429.8,63.12 L430.2,64.39 L430.6,66.52 L431,67.32 L431.4,69.41 L431.8,70.53 L432.2,72.44 L432.6,73.48 L433,75.7 L433.4,77 L433.8,78.34 L434.2,80.35 L434.6,81.57 L435,82.8 L435.4,83.97 L435.8,85.36 L436.2,86.55 L436.6,87.84 L437,88.93 L437.4,89.73 L437.8,90.72 L438.2,91.63 L438.6,92.38 L439,93.27 L439.4,94.07 L439.8,94.85 L440.2,95.55 L440.6,95.91 L441,96.58 L441.4,96.98 L441.8,97.66 L442.2,97.89 L442.6,98.31 L443,98.55 L443.4,98.87 L443.8,99.23 L444.2,99.44 L444.6,99.72 L445,99.82 L445.4,100.13 L445.8,100.22 L446.2,100.49 L446.6,100.53 L447,100.7 L447.4,100.71 L447.8,100.87 L448.2,100.91 L448.6,101 L449,101.08 L449.4,101.12 L449.8,101.19 L450.2,101.24 L450.6,101.28 L451,101.29 L451.4,101.3 L451.8,101.33 L452.2,101.37 L452.6,101.36 L453,101.42 L453.4,101.42 L453.8,101.43 L454.2,101.45 L454.6,101.46 L455,101.46 L455.4,101.46 L455.8,101.47 L456.2,101.48 L456.6,101.47 L457,101.49 L457.4,101.49 L457.8,101.48 L458.2,101.49 L458.6,101.49 L459,101.5 L459.4,101.5 L459.8,101.49 L460.2,101.49 L460.6,101.5 L461,101.5 L461.4,101.5 L461.8,101.5 L462.2,101.5 L462.6,101.5 L463,101.5 L463.4,101.5 L463.8,101.5 L464.2,101.5 L464.6,101.5 L465,101.5" fill="none" stroke="#3a7cc8" stroke-width="1.2"/>
<path d="M387.4,101.5 L387.8,101.5 L388.2,101.5 L388.6,101.5 L389,101.49 L389.4,101.5 L389.8,101.5 L390.2,101.5 L390.6,101.49 L391,101.49 L391.4,101.49 L391.8,101.5 L392.2,101.49 L392.6,101.49 L393,101.48 L393.4,101.49 L393.8,101.47 L394.2,101.48 L394.6,101.47 L395,101.46 L395.4,101.45 L395.8,101.45 L396.2,101.45 L396.6,101.43 L397,101.44 L397.4,101.39 L397.8,101.39 L398.2,101.36 L398.6,101.36 L399,101.3 L399.4,101.3 L399.8,101.27 L400.2,101.21 L400.6,101.21 L401,101.15 L401.4,101.11 L401.8,101.05 L402.2,100.93 L402.6,100.86 L403,100.78 L403.4,100.71 L403.8,100.6 L404.2,100.42 L404.6,100.28 L405,100.1 L405.4,99.93 L405.8,99.74 L406.2,99.52 L406.6,99.38 L407,98.96 L407.4,98.66 L407.8,98.37 L408.2,97.89 L408.6,97.51 L409,97.08 L409.4,96.64 L409.8,95.91 L410.2,95.54 L410.6,94.73 L411,94.06 L411.4,93.36 L411.8,92.51 L412.2,91.65 L412.6,90.57 L413,89.5 L413.4,88.42 L413.8,87.05 L414.2,86.08 L414.6,84.43 L415,82.91 L415.4,81.91 L415.8,79.95 L416.2,78.09 L416.6,76.86 L417,74.62 L417.4,72.98 L417.8,70.62 L418.2,68.68 L418.6,66.26 L419,64.05 L419.4,62.04 L419.8,60.01 L420.2,57.97 L420.6,56.11 L421,52.99 L421.4,51.27 L421.8,48.64 L422.2,46.6 L422.6,44.15 L423,42.15 L423.4,40.46 L423.8,38.59 L424.2,37.34 L424.6,35.73 L425,35.12 L425.4,33.86 L425.8,33.24 L426.2,33.37 L426.6,33.62 L427,34.24 L427.4,35.28 L427.8,36.57 L428.2,38.42 L428.6,40.01 L429,41.71 L429.4,43.77 L429.8,45.44 L430.2,47.85 L430.6,49.53 L431,52.47 L431.4,54.4 L431.8,56.69 L432.2,59.05 L432.6,61.15 L433,63.31 L433.4,65.81 L433.8,67.71 L434.2,69.58 L434.6,71.87 L435,73.41 L435.4,75.92 L435.8,77.39 L436.2,79.15 L436.6,81.16 L437,82.69 L437.4,83.85 L437.8,85.33 L438.2,86.71 L438.6,88.02 L439,88.94 L439.4,90.05 L439.8,91.19 L440.2,92.02 L440.6,92.94 L441,93.73 L441.4,94.3 L441.8,95.02 L442.2,95.5 L442.6,96.28 L443,96.94 L443.4,97.23 L443.8,97.84 L444.2,98.22 L444.6,98.51 L445,98.84 L445.4,99.14 L445.8,99.36 L446.2,99.63 L446.6,99.85 L447,100.08 L447.4,100.25 L447.8,100.35 L448.2,100.54 L448.6,100.61 L449,100.74 L449.4,100.85 L449.8,100.92 L450.2,100.99 L450.6,101.07 L451,101.11 L451.4,101.16 L451.8,101.21 L452.2,101.27 L452.6,101.28 L453,101.35 L453.4,101.34 L453.8,101.32 L454.2,101.38 L454.6,101.42 L455,101.41 L455.4,101.42 L455.8,101.43 L456.2,101.46 L456.6,101.46 L457,101.47 L457.4,101.47 L457.8,101.48 L458.2,101.48 L458.6,101.47 L459,101.49 L459.4,101.49 L459.8,101.49 L460.2,101.49 L460.6,101.49 L461,101.48 L461.4,101.5 L461.8,101.5 L462.2,101.5 L462.6,101.5 L463,101.5 L463.4,101.5 L463.8,101.5 L464.2,101.5 L464.6,101.5 L465,101.5" fill="none" stroke="#111111" stroke-width="1.2"/>
<path d="M387.4,101.5 L387.8,101.5 L388.2,101.5 L388.6,101.5 L389,101.5 L389.4,101.5 L389.8,101.5 L390.2,101.5 L390.6,101.5 L391,101.5 L391.4,101.5 L391.8,101.49 L392.2,101.49 L392.6,101.49 L393,101.49 L393.4,101.49 L393.8,101.49 L394.2,101.49 L394.6,101.48 L395,101.49 L395.4,101.47 L395.8,101.47 L396.2,101.47 L396.6,101.46 L397,101.44 L397.4,101.43 L397.8,101.43 L398.2,101.41 L398.6,101.42 L399,101.39 L399.4,101.37 L399.8,101.35 L400.2,101.33 L400.6,101.29 L401,101.27 L401.4,101.2 L401.8,101.16 L402.2,101.1 L402.6,101.07 L403,100.98 L403.4,100.88 L403.8,100.87 L404.2,100.7 L404.6,100.59 L405,100.48 L405.4,100.38 L405.8,100.14 L406.2,99.99 L406.6,99.75 L407,99.43 L407.4,99.29 L407.8,99.01 L408.2,98.61 L408.6,98.26 L409,97.75 L409.4,97.3 L409.8,96.89 L410.2,96.43 L410.6,95.75 L411,95.17 L411.4,94.53 L411.8,93.67 L412.2,92.89 L412.6,92.08 L413,90.79 L413.4,89.97 L413.8,88.5 L414.2,87.58 L414.6,86.25 L415,84.75 L415.4,83.19 L415.8,81.79 L416.2,80.08 L416.6,78.43 L417,76.43 L417.4,74.8 L417.8,72.51 L418.2,70.6 L418.6,68.46 L419,66.64 L419.4,63.8 L419.8,61.76 L420.2,59.83 L420.6,57.07 L421,54.6 L421.4,52.67 L421.8,50.24 L422.2,48.3 L422.6,45.66 L423,43.88 L423.4,42.05 L423.8,40.32 L424.2,38.04 L424.6,37.3 L425,35.37 L425.4,34.21 L425.8,33.72 L426.2,33.88 L426.6,34.19 L427,35.24 L427.4,36.38 L427.8,37.69 L428.2,39.1 L428.6,41.44 L429,42.21 L429.4,44.38 L429.8,46.85 L430.2,48.86 L430.6,50.79 L431,53.55 L431.4,55.89 L431.8,57.81 L432.2,60.91 L432.6,63.29 L433,65.52 L433.4,67.35 L433.8,69.64 L434.2,71.47 L434.6,73.75 L435,75.53 L435.4,77.59 L435.8,79.23 L436.2,81.16 L436.6,82.72 L437,84.3 L437.4,85.31 L437.8,86.63 L438.2,88.2 L438.6,89.25 L439,90.47 L439.4,91.47 L439.8,92.4 L440.2,93.35 L440.6,94.11 L441,94.84 L441.4,95.39 L441.8,96.24 L442.2,96.67 L442.6,97.26 L443,97.66 L443.4,98.15 L443.8,98.46 L444.2,98.8 L444.6,99.11 L445,99.34 L445.4,99.6 L445.8,99.85 L446.2,100.05 L446.6,100.19 L447,100.48 L447.4,100.49 L447.8,100.64 L448.2,100.84 L448.6,100.84 L449,100.96 L449.4,101.03 L449.8,101.08 L450.2,101.11 L450.6,101.16 L451,101.23 L451.4,101.28 L451.8,101.27 L452.2,101.33 L452.6,101.35 L453,101.39 L453.4,101.4 L453.8,101.4 L454.2,101.42 L454.6,101.44 L455,101.46 L455.4,101.48 L455.8,101.46 L456.2,101.47 L456.6,101.48 L457,101.48 L457.4,101.48 L457.8,101.49 L458.2,101.49 L458.6,101.49 L459,101.49 L459.4,101.5 L459.8,101.49 L460.2,101.5 L460.6,101.5 L461,101.5 L461.4,101.5 L461.8,101.5 L462.2,101.5 L462.6,101.5 L463,101.5 L463.4,101.5 L463.8,101.5 L464.2,101.5 L464.6,101.5 L465,101.5" fill="none" stroke="#f4b800" stroke-width="1.2"/>
<line x1="387.4" y1="20.5" x2="387.4" y2="102.2" stroke="#777" stroke-width="1"/>
<line x1="387.4" y1="102.2" x2="465.3" y2="102.2" stroke="#888" stroke-width="1"/>
<line x1="426.4" y1="20.5" x2="426.4" y2="22.7" stroke="#262626" stroke-width="1"/>
<line x1="465.3" y1="33.5" x2="463.3" y2="33.5" stroke="#262626" stroke-width="1"/>
<line x1="465.3" y1="47.2" x2="463.3" y2="47.2" stroke="#262626" stroke-width="1"/>
<line x1="465.3" y1="61" x2="463.3" y2="61" stroke="#262626" stroke-width="1"/>
<line x1="465.3" y1="74.8" x2="463.3" y2="74.8" stroke="#262626" stroke-width="1"/>
<line x1="465.3" y1="88.5" x2="463.3" y2="88.5" stroke="#262626" stroke-width="1"/>
<text x="387.4" y="17.3" font-size="8.7" text-anchor="middle" font-weight="normal" font-style="normal" fill="#1a1a1a">480</text>
<text x="425.5" y="17.3" font-size="8.7" text-anchor="middle" font-weight="normal" font-style="normal" fill="#1a1a1a">530</text>
<line x1="387.4" y1="20.5" x2="465.3" y2="20.5" stroke="#333" stroke-width="1"/>
<text x="461.8" y="17.3" font-size="8.7" text-anchor="middle" font-weight="normal" font-style="normal" fill="#1a1a1a">580</text>
<text x="428" y="6.8" font-size="8.9" text-anchor="middle" font-weight="normal" font-style="normal" fill="#1a1a1a">Wavelength (nm)</text>
<text x="480.4" y="62.4" font-size="8.9" text-anchor="middle" font-weight="normal" font-style="normal" fill="#1a1a1a" transform="rotate(-90 480.4 62.4)">PL intensity (arb. units)</text>
<text x="491" y="25.2" font-size="13.2" text-anchor="start" font-weight="bold" font-style="normal" fill="#000">d</text>
<defs><clipPath id="clipd"><rect x="520.5" y="21" width="161.5" height="143"/></clipPath></defs>
<g clip-path="url(#clipd)">
<path d="M520.6,76.3 L521.16,76.28 L521.71,76.27 L522.27,76.25 L522.83,76.23 L523.38,76.22 L523.94,76.2 L524.49,76.18 L525.05,76.16 L525.61,76.15 L526.16,76.13 L526.72,76.11 L527.28,76.09 L527.83,76.08 L528.39,76.06 L528.94,76.04 L529.5,76.02 L530.06,76 L530.61,75.99 L531.17,75.97 L531.73,75.95 L532.28,75.93 L532.84,75.91 L533.4,75.89 L533.95,75.87 L534.51,75.86 L535.06,75.84 L535.62,75.82 L536.18,75.8 L536.73,75.78 L537.29,75.76 L537.85,75.74 L538.4,75.72 L538.96,75.7 L539.51,75.68 L540.07,75.66 L540.63,75.64 L541.18,75.62 L541.74,75.6 L542.3,75.58 L542.85,75.56 L543.41,75.54 L543.96,75.52 L544.52,75.5 L545.08,75.48 L545.63,75.46 L546.19,75.44 L546.75,75.42 L547.3,75.4 L547.86,75.38 L548.41,75.36 L548.97,75.34 L549.53,75.32 L550.08,75.3 L550.64,75.28 L551.19,75.25 L551.75,75.23 L552.31,75.21 L552.86,75.19 L553.42,75.16 L553.98,75.14 L554.53,75.11 L555.09,75.09 L555.64,75.07 L556.2,75.04 L556.76,75.02 L557.31,74.99 L557.87,74.96 L558.42,74.94 L558.98,74.91 L559.54,74.89 L560.09,74.86 L560.65,74.83 L561.2,74.81 L561.76,74.78 L562.32,74.75 L562.87,74.73 L563.43,74.7 L563.98,74.67 L564.54,74.65 L565.1,74.62 L565.65,74.59 L566.21,74.56 L566.76,74.54 L567.32,74.51 L567.88,74.48 L568.43,74.46 L568.99,74.43 L569.54,74.4 L570.1,74.38 L570.66,74.35 L571.21,74.33 L571.77,74.3 L572.32,74.27 L572.88,74.25 L573.44,74.22 L573.99,74.2 L574.55,74.18 L575.1,74.15 L575.66,74.13 L576.22,74.11 L576.77,74.08 L577.33,74.06 L577.88,74.04 L578.44,74.02 L579,74 L579.55,73.97 L580.11,73.95 L580.67,73.93 L581.22,73.92 L581.78,73.9 L582.33,73.88 L582.89,73.86 L583.45,73.84 L584,73.83 L584.56,73.81 L585.12,73.8 L585.67,73.78 L586.23,73.77 L586.78,73.75 L587.34,73.74 L587.9,73.73 L588.45,73.71 L589.01,73.7 L589.57,73.69 L590.12,73.68 L590.68,73.67 L591.24,73.65 L591.79,73.64 L592.35,73.63 L592.9,73.62 L593.46,73.61 L594.02,73.6 L594.57,73.59 L595.13,73.58 L595.69,73.57 L596.24,73.56 L596.8,73.55 L597.36,73.54 L597.91,73.53 L598.47,73.52 L599.03,73.51 L599.58,73.5 L600.14,73.49 L600.7,73.48 L601.25,73.47 L601.81,73.46 L602.37,73.45 L602.92,73.44 L603.48,73.43 L604.04,73.42 L604.59,73.41 L605.15,73.4 L605.7,73.39 L606.26,73.38 L606.82,73.37 L607.37,73.36 L607.93,73.35 L608.49,73.33 L609.04,73.32 L609.6,73.31 L610.16,73.3 L610.71,73.28 L611.27,73.27 L611.83,73.26 L612.38,73.25 L612.94,73.23 L613.5,73.22 L614.05,73.21 L614.61,73.2 L615.17,73.19 L615.72,73.17 L616.28,73.16 L616.83,73.15 L617.39,73.14 L617.95,73.13 L618.5,73.11 L619.06,73.1 L619.62,73.09 L620.17,73.08 L620.73,73.06 L621.29,73.05 L621.84,73.04 L622.4,73.03 L622.96,73.01 L623.51,73 L624.07,72.99 L624.63,72.97 L625.18,72.96 L625.74,72.95 L626.3,72.93 L626.85,72.92 L627.41,72.9 L627.97,72.89 L628.52,72.87 L629.08,72.86 L629.64,72.84 L630.19,72.83 L630.75,72.81 L631.3,72.8 L631.86,72.78 L632.42,72.76 L632.97,72.75 L633.53,72.73 L634.09,72.71 L634.64,72.69 L635.2,72.68 L635.75,72.66 L636.31,72.64 L636.87,72.62 L637.42,72.6 L637.98,72.58 L638.53,72.56 L639.09,72.54 L639.65,72.51 L640.2,72.49 L640.76,72.47 L641.31,72.44 L641.87,72.42 L642.43,72.39 L642.98,72.36 L643.54,72.33 L644.09,72.3 L644.65,72.27 L645.21,72.24 L645.76,72.21 L646.32,72.17 L646.87,72.14 L647.43,72.1 L647.98,72.06 L648.54,72.02 L649.1,71.98 L649.65,71.94 L650.21,71.9 L650.76,71.86 L651.32,71.81 L651.87,71.77 L652.43,71.72 L652.98,71.68 L653.53,71.63 L654.09,71.58 L654.64,71.53 L655.2,71.48 L655.75,71.43 L656.31,71.38 L656.86,71.33 L657.42,71.27 L657.97,71.21 L658.53,71.16 L659.09,71.1 L659.65,71.03 L660.2,70.97 L660.76,70.9 L661.32,70.83 L661.87,70.76 L662.43,70.69 L662.98,70.61 L663.53,70.53 L664.08,70.45 L664.63,70.36 L665.18,70.27 L665.72,70.18 L666.26,70.08 L666.8,69.98 L667.34,69.87 L667.88,69.76 L668.41,69.64 L668.95,69.51 L669.48,69.36 L670.02,69.2 L670.55,69.03 L671.08,68.84 L671.61,68.65 L672.14,68.45 L672.66,68.25 L673.19,68.03 L673.71,67.81 L674.22,67.58 L674.73,67.35 L675.24,67.11 L675.74,66.87 L676.24,66.63 L676.73,66.39 L677.21,66.14 L677.7,65.88 L678.17,65.62 L678.65,65.34 L679.12,65.05 L679.59,64.76 L680.05,64.45 L680.52,64.14 L680.97,63.82 L681.43,63.49 L681.88,63.16 L682.32,62.81 L682.77,62.46 L683.21,62.11 L683.64,61.74 L684.07,61.37 L684.5,61" fill="none" stroke="#3a7cc8" stroke-width="4.4"/>
</g>
<rect x="661.9" y="68.36" width="4.2" height="4.2" fill="#3a7cc8"/>
<rect x="664.5" y="67.92" width="4.2" height="4.2" fill="#3a7cc8"/>
<rect x="667.1" y="67.34" width="4.2" height="4.2" fill="#3a7cc8"/>
<rect x="669.7" y="66.48" width="4.2" height="4.2" fill="#3a7cc8"/>
<rect x="672.3" y="65.4" width="4.2" height="4.2" fill="#3a7cc8"/>
<rect x="674.9" y="64.15" width="4.2" height="4.2" fill="#3a7cc8"/>
<rect x="677.5" y="62.65" width="4.2" height="4.2" fill="#3a7cc8"/>
<rect x="680.1" y="60.81" width="4.2" height="4.2" fill="#3a7cc8"/>
<g clip-path="url(#clipd)">
<path d="M520.6,117.8 L521.41,117.76 L522.21,117.71 L523.02,117.67 L523.83,117.62 L524.64,117.58 L525.44,117.53 L526.25,117.49 L527.06,117.44 L527.87,117.4 L528.67,117.35 L529.48,117.31 L530.29,117.26 L531.09,117.21 L531.9,117.17 L532.71,117.12 L533.52,117.08 L534.32,117.03 L535.13,116.98 L535.94,116.94 L536.74,116.89 L537.55,116.84 L538.36,116.79 L539.17,116.75 L539.97,116.7 L540.78,116.65 L541.59,116.6 L542.39,116.55 L543.2,116.5 L544.01,116.46 L544.81,116.41 L545.62,116.36 L546.43,116.31 L547.24,116.26 L548.04,116.21 L548.85,116.16 L549.66,116.11 L550.46,116.06 L551.27,116.01 L552.08,115.96 L552.88,115.91 L553.69,115.86 L554.5,115.81 L555.3,115.76 L556.11,115.71 L556.92,115.66 L557.72,115.61 L558.53,115.55 L559.34,115.5 L560.14,115.45 L560.95,115.4 L561.76,115.35 L562.57,115.3 L563.37,115.24 L564.18,115.19 L564.99,115.14 L565.79,115.09 L566.6,115.03 L567.41,114.98 L568.21,114.93 L569.02,114.87 L569.83,114.82 L570.63,114.77 L571.44,114.72 L572.25,114.66 L573.05,114.61 L573.86,114.55 L574.67,114.5 L575.47,114.45 L576.28,114.39 L577.08,114.34 L577.89,114.28 L578.7,114.23 L579.5,114.17 L580.31,114.12 L581.12,114.07 L581.92,114.01 L582.73,113.96 L583.54,113.9 L584.34,113.85 L585.15,113.79 L585.96,113.73 L586.76,113.68 L587.57,113.62 L588.38,113.57 L589.18,113.51 L589.99,113.45 L590.8,113.4 L591.6,113.34 L592.41,113.28 L593.21,113.23 L594.02,113.17 L594.83,113.11 L595.63,113.06 L596.44,113 L597.25,112.94 L598.05,112.88 L598.86,112.82 L599.67,112.77 L600.47,112.71 L601.28,112.65 L602.09,112.59 L602.89,112.53 L603.7,112.47 L604.5,112.41 L605.31,112.35 L606.12,112.29 L606.92,112.23 L607.73,112.17 L608.54,112.11 L609.34,112.05 L610.15,111.99 L610.95,111.93 L611.76,111.87 L612.57,111.81 L613.37,111.74 L614.18,111.68 L614.98,111.62 L615.79,111.56 L616.6,111.5 L617.4,111.43 L618.21,111.37 L619.01,111.31 L619.82,111.24 L620.63,111.18 L621.43,111.11 L622.24,111.05 L623.04,110.99 L623.85,110.92 L624.66,110.86 L625.46,110.79 L626.27,110.73 L627.07,110.66 L627.88,110.59 L628.68,110.53 L629.49,110.46 L630.3,110.39 L631.1,110.33 L631.91,110.26 L632.71,110.19 L633.52,110.13 L634.32,110.06 L635.13,109.99 L635.93,109.92 L636.74,109.85 L637.54,109.78 L638.35,109.71 L639.16,109.64 L639.96,109.57 L640.77,109.5 L641.57,109.43 L642.38,109.36 L643.18,109.29 L643.99,109.22 L644.79,109.14 L645.6,109.07 L646.4,109 L647.21,108.93 L648.01,108.85 L648.82,108.78 L649.62,108.7 L650.43,108.63 L651.23,108.56 L652.04,108.48 L652.84,108.41 L653.65,108.33 L654.45,108.25 L655.26,108.18 L656.06,108.1 L656.87,108.03 L657.67,107.95 L658.48,107.87 L659.28,107.79 L660.09,107.72 L660.89,107.64 L661.69,107.56 L662.5,107.48 L663.3,107.4 L664.11,107.32 L664.91,107.24 L665.72,107.16 L666.52,107.08 L667.33,107 L668.13,106.92 L668.94,106.84 L669.74,106.76 L670.54,106.68 L671.35,106.6 L672.15,106.52 L672.96,106.43 L673.76,106.35 L674.57,106.27 L675.37,106.19 L676.17,106.1 L676.98,106.02 L677.78,105.94 L678.59,105.85 L679.39,105.77 L680.2,105.68 L681,105.6" fill="none" stroke="#111" stroke-width="0.9"/>
<circle cx="521.2" cy="117.77" r="1.9" fill="none" stroke="#111" stroke-width="0.85" transform="translate(521.2 117.77) scale(1.15 0.95) translate(-521.2 -117.77)"/>
<circle cx="525.35" cy="117.54" r="1.9" fill="none" stroke="#111" stroke-width="0.85" transform="translate(525.35 117.54) scale(1.15 0.95) translate(-525.35 -117.54)"/>
<circle cx="529.5" cy="117.31" r="1.9" fill="none" stroke="#111" stroke-width="0.85" transform="translate(529.5 117.31) scale(1.15 0.95) translate(-529.5 -117.31)"/>
<circle cx="533.65" cy="117.07" r="1.9" fill="none" stroke="#111" stroke-width="0.85" transform="translate(533.65 117.07) scale(1.15 0.95) translate(-533.65 -117.07)"/>
<circle cx="537.8" cy="116.83" r="1.9" fill="none" stroke="#111" stroke-width="0.85" transform="translate(537.8 116.83) scale(1.15 0.95) translate(-537.8 -116.83)"/>
<circle cx="541.95" cy="116.58" r="1.9" fill="none" stroke="#111" stroke-width="0.85" transform="translate(541.95 116.58) scale(1.15 0.95) translate(-541.95 -116.58)"/>
<circle cx="546.1" cy="116.33" r="1.9" fill="none" stroke="#111" stroke-width="0.85" transform="translate(546.1 116.33) scale(1.15 0.95) translate(-546.1 -116.33)"/>
<circle cx="550.25" cy="116.07" r="1.9" fill="none" stroke="#111" stroke-width="0.85" transform="translate(550.25 116.07) scale(1.15 0.95) translate(-550.25 -116.07)"/>
<circle cx="554.4" cy="115.82" r="1.9" fill="none" stroke="#111" stroke-width="0.85" transform="translate(554.4 115.82) scale(1.15 0.95) translate(-554.4 -115.82)"/>
<circle cx="558.55" cy="115.55" r="1.9" fill="none" stroke="#111" stroke-width="0.85" transform="translate(558.55 115.55) scale(1.15 0.95) translate(-558.55 -115.55)"/>
<circle cx="562.7" cy="115.29" r="1.9" fill="none" stroke="#111" stroke-width="0.85" transform="translate(562.7 115.29) scale(1.15 0.95) translate(-562.7 -115.29)"/>
<circle cx="566.85" cy="115.02" r="1.9" fill="none" stroke="#111" stroke-width="0.85" transform="translate(566.85 115.02) scale(1.15 0.95) translate(-566.85 -115.02)"/>
<circle cx="571" cy="114.74" r="1.9" fill="none" stroke="#111" stroke-width="0.85" transform="translate(571 114.74) scale(1.15 0.95) translate(-571 -114.74)"/>
<circle cx="575.15" cy="114.47" r="1.9" fill="none" stroke="#111" stroke-width="0.85" transform="translate(575.15 114.47) scale(1.15 0.95) translate(-575.15 -114.47)"/>
<circle cx="579.3" cy="114.19" r="1.9" fill="none" stroke="#111" stroke-width="0.85" transform="translate(579.3 114.19) scale(1.15 0.95) translate(-579.3 -114.19)"/>
<circle cx="583.45" cy="113.91" r="1.9" fill="none" stroke="#111" stroke-width="0.85" transform="translate(583.45 113.91) scale(1.15 0.95) translate(-583.45 -113.91)"/>
<circle cx="587.6" cy="113.62" r="1.9" fill="none" stroke="#111" stroke-width="0.85" transform="translate(587.6 113.62) scale(1.15 0.95) translate(-587.6 -113.62)"/>
<circle cx="591.75" cy="113.33" r="1.9" fill="none" stroke="#111" stroke-width="0.85" transform="translate(591.75 113.33) scale(1.15 0.95) translate(-591.75 -113.33)"/>
<circle cx="595.9" cy="113.04" r="1.9" fill="none" stroke="#111" stroke-width="0.85" transform="translate(595.9 113.04) scale(1.15 0.95) translate(-595.9 -113.04)"/>
<circle cx="600.05" cy="112.74" r="1.9" fill="none" stroke="#111" stroke-width="0.85" transform="translate(600.05 112.74) scale(1.15 0.95) translate(-600.05 -112.74)"/>
<circle cx="604.2" cy="112.43" r="1.9" fill="none" stroke="#111" stroke-width="0.85" transform="translate(604.2 112.43) scale(1.15 0.95) translate(-604.2 -112.43)"/>
<circle cx="608.35" cy="112.13" r="1.9" fill="none" stroke="#111" stroke-width="0.85" transform="translate(608.35 112.13) scale(1.15 0.95) translate(-608.35 -112.13)"/>
<circle cx="612.5" cy="111.81" r="1.9" fill="none" stroke="#111" stroke-width="0.85" transform="translate(612.5 111.81) scale(1.15 0.95) translate(-612.5 -111.81)"/>
<circle cx="616.65" cy="111.49" r="1.9" fill="none" stroke="#111" stroke-width="0.85" transform="translate(616.65 111.49) scale(1.15 0.95) translate(-616.65 -111.49)"/>
<circle cx="620.8" cy="111.16" r="1.9" fill="none" stroke="#111" stroke-width="0.85" transform="translate(620.8 111.16) scale(1.15 0.95) translate(-620.8 -111.16)"/>
<circle cx="624.95" cy="110.83" r="1.9" fill="none" stroke="#111" stroke-width="0.85" transform="translate(624.95 110.83) scale(1.15 0.95) translate(-624.95 -110.83)"/>
<circle cx="629.1" cy="110.49" r="1.9" fill="none" stroke="#111" stroke-width="0.85" transform="translate(629.1 110.49) scale(1.15 0.95) translate(-629.1 -110.49)"/>
<circle cx="633.25" cy="110.15" r="1.9" fill="none" stroke="#111" stroke-width="0.85" transform="translate(633.25 110.15) scale(1.15 0.95) translate(-633.25 -110.15)"/>
<circle cx="637.4" cy="109.79" r="1.9" fill="none" stroke="#111" stroke-width="0.85" transform="translate(637.4 109.79) scale(1.15 0.95) translate(-637.4 -109.79)"/>
<circle cx="641.55" cy="109.43" r="1.9" fill="none" stroke="#111" stroke-width="0.85" transform="translate(641.55 109.43) scale(1.15 0.95) translate(-641.55 -109.43)"/>
<circle cx="645.7" cy="109.06" r="1.9" fill="none" stroke="#111" stroke-width="0.85" transform="translate(645.7 109.06) scale(1.15 0.95) translate(-645.7 -109.06)"/>
<circle cx="649.85" cy="108.68" r="1.9" fill="none" stroke="#111" stroke-width="0.85" transform="translate(649.85 108.68) scale(1.15 0.95) translate(-649.85 -108.68)"/>
<circle cx="654" cy="108.3" r="1.9" fill="none" stroke="#111" stroke-width="0.85" transform="translate(654 108.3) scale(1.15 0.95) translate(-654 -108.3)"/>
<circle cx="658.15" cy="107.9" r="1.9" fill="none" stroke="#111" stroke-width="0.85" transform="translate(658.15 107.9) scale(1.15 0.95) translate(-658.15 -107.9)"/>
<circle cx="662.3" cy="107.5" r="1.9" fill="none" stroke="#111" stroke-width="0.85" transform="translate(662.3 107.5) scale(1.15 0.95) translate(-662.3 -107.5)"/>
<circle cx="666.45" cy="107.09" r="1.9" fill="none" stroke="#111" stroke-width="0.85" transform="translate(666.45 107.09) scale(1.15 0.95) translate(-666.45 -107.09)"/>
<circle cx="670.6" cy="106.67" r="1.9" fill="none" stroke="#111" stroke-width="0.85" transform="translate(670.6 106.67) scale(1.15 0.95) translate(-670.6 -106.67)"/>
<circle cx="674.75" cy="106.25" r="1.9" fill="none" stroke="#111" stroke-width="0.85" transform="translate(674.75 106.25) scale(1.15 0.95) translate(-674.75 -106.25)"/>
<circle cx="678.9" cy="105.82" r="1.9" fill="none" stroke="#111" stroke-width="0.85" transform="translate(678.9 105.82) scale(1.15 0.95) translate(-678.9 -105.82)"/>
</g>
<rect x="520.5" y="21.0" width="161.70000000000005" height="143.0" fill="none" stroke="#262626" stroke-width="1"/>
<line x1="520.5" y1="116.33" x2="522.7" y2="116.33" stroke="#262626" stroke-width="1"/>
<line x1="520.5" y1="68.67" x2="522.7" y2="68.67" stroke="#262626" stroke-width="1"/>
<line x1="597.5" y1="164" x2="597.5" y2="161.8" stroke="#262626" stroke-width="1"/>
<line x1="636" y1="164" x2="636" y2="161.8" stroke="#262626" stroke-width="1"/>
<line x1="674.5" y1="164" x2="674.5" y2="161.8" stroke="#262626" stroke-width="1"/>
<text x="517.7" y="25.2" font-size="8.7" text-anchor="end" font-weight="normal" font-style="normal" fill="#1a1a1a">3.2</text>
<text x="517.7" y="72.87" font-size="8.7" text-anchor="end" font-weight="normal" font-style="normal" fill="#1a1a1a">2.8</text>
<text x="517.7" y="120.53" font-size="8.7" text-anchor="end" font-weight="normal" font-style="normal" fill="#1a1a1a">2.4</text>
<text x="517.7" y="168.2" font-size="8.7" text-anchor="end" font-weight="normal" font-style="normal" fill="#1a1a1a">2</text>
<text x="521.5" y="174.4" font-size="8.7" text-anchor="middle" font-weight="normal" font-style="normal" fill="#1a1a1a">-2</text>
<text x="597.5" y="174.4" font-size="8.7" text-anchor="middle" font-weight="normal" font-style="normal" fill="#1a1a1a">0</text>
<text x="675.2" y="174.4" font-size="8.7" text-anchor="middle" font-weight="normal" font-style="normal" fill="#1a1a1a">2</text>
<text x="607.5" y="186.8" font-size="8.9" text-anchor="middle" font-weight="normal" font-style="normal" fill="#1a1a1a">DC bias (V)</text>
<text x="499.6" y="86.6" font-size="8.9" text-anchor="middle" font-weight="normal" font-style="normal" fill="#1a1a1a" transform="rotate(-90 499.6 86.6)">Capacitance (nF)</text>
<line x1="532.1" y1="30.8" x2="545" y2="30.8" stroke="#222" stroke-width="1.1"/>
<circle cx="539" cy="30.8" r="1.7" fill="none" stroke="#222" stroke-width="0.9"/>
<text x="545.6" y="34" font-size="8.5" text-anchor="start" font-weight="normal" font-style="normal" fill="#1a1a1a">/ZnMgO/Al</text>
<line x1="532.1" y1="44.3" x2="545" y2="44.3" stroke="#3a7cc8" stroke-width="1.3"/>
<rect x="537" y="42.3" width="4" height="4" fill="#3a7cc8"/>
<text x="545.9" y="47.4" font-size="8.2" text-anchor="start" font-weight="bold" font-style="normal" fill="#3a7cc8">/H<tspan font-size="5.5" dy="2">2</tspan><tspan dy="-2">O</tspan></text>
<ellipse cx="594.2" cy="71" rx="5.3" ry="8.85" fill="none" stroke="#222" stroke-width="0.9"/>
<path d="M594,63.2 C600,55 610,51 620.9,51.4" fill="none" stroke="#222" stroke-width="0.9"/>
<path d="M617,48.7 L620.9,51.4 L617,54.6" fill="none" stroke="#222" stroke-width="0.9"/>
<ellipse cx="598" cy="106.7" rx="5.5" ry="8.9" fill="none" stroke="#222" stroke-width="0.9"/>
<path d="M598.7,115.6 C602,124 612,127.5 624,127.4" fill="none" stroke="#222" stroke-width="0.9"/>
<path d="M620.9,124.3 L624,127.4 L620.9,130.1" fill="none" stroke="#222" stroke-width="0.9"/>
<rect x="629.8" y="24.2" width="10.5" height="37.0" fill="#4a72c9"/>
<rect x="640.3" y="24.2" width="10.9" height="37.0" fill="#0b8a3c"/>
<rect x="651.2" y="24.2" width="10.3" height="37.0" fill="#d6d6d6"/>
<line x1="629.8" y1="24.2" x2="629.8" y2="61.2" stroke="#111" stroke-width="1.3"/>
<line x1="661.5" y1="24.2" x2="661.5" y2="61.2" stroke="#111" stroke-width="1.3"/>
<text x="638.9" y="42.7" font-size="10" text-anchor="middle" font-weight="normal" font-style="normal" fill="#fff" transform="rotate(-90 638.9 42.7)">HTL</text>
<text x="649.8" y="42.7" font-size="10" text-anchor="middle" font-weight="normal" font-style="normal" fill="#fff" transform="rotate(-90 649.8 42.7)">QD</text>
<text x="660.4" y="42.7" font-size="10" text-anchor="middle" font-weight="normal" font-style="normal" fill="#f6f6f6" transform="rotate(-90 660.4 42.7)">ETL</text>
<rect x="629.8" y="121.5" width="10.5" height="36.900000000000006" fill="#4a72c9"/>
<rect x="640.3" y="121.5" width="10.9" height="36.900000000000006" fill="#0b8a3c"/>
<rect x="651.2" y="121.5" width="10.3" height="36.900000000000006" fill="#b99bd8"/>
<line x1="629.8" y1="121.5" x2="629.8" y2="158.4" stroke="#111" stroke-width="1.3"/>
<line x1="661.5" y1="121.5" x2="661.5" y2="158.4" stroke="#111" stroke-width="1.3"/>
<text x="638.9" y="139.95" font-size="10" text-anchor="middle" font-weight="normal" font-style="normal" fill="#fff" transform="rotate(-90 638.9 139.95)">HTL</text>
<text x="649.8" y="139.95" font-size="10" text-anchor="middle" font-weight="normal" font-style="normal" fill="#fff" transform="rotate(-90 649.8 139.95)">QD</text>
<text x="660.4" y="139.95" font-size="10" text-anchor="middle" font-weight="normal" font-style="normal" fill="#eee6f6" transform="rotate(-90 660.4 139.95)">ETL</text>
<path d="M626.3,33.7 L629.8,31.9 L629.8,35.5 Z" fill="#111"/>
<path d="M626.3,42.7 L629.8,40.9 L629.8,44.5 Z" fill="#111"/>
<path d="M626.3,51.7 L629.8,49.9 L629.8,53.5 Z" fill="#111"/>
<line x1="650" y1="30.8" x2="653.5" y2="30.8" stroke="#111" stroke-width="1.4"/>
<line x1="650" y1="40" x2="653.5" y2="40" stroke="#111" stroke-width="1.4"/>
<line x1="650" y1="48.5" x2="653.5" y2="48.5" stroke="#111" stroke-width="1.4"/>
<path d="M626.3,129.7 L629.8,127.9 L629.8,131.5 Z" fill="#111"/>
<path d="M626.3,137.4 L629.8,135.6 L629.8,139.2 Z" fill="#111"/>
<path d="M626.3,146.5 L629.8,144.7 L629.8,148.3 Z" fill="#111"/>
<line x1="666" y1="127.7" x2="669.7" y2="127.7" stroke="#111" stroke-width="1.4"/>
<line x1="666" y1="136.9" x2="669.7" y2="136.9" stroke="#111" stroke-width="1.4"/>
<line x1="666" y1="146" x2="669.7" y2="146" stroke="#111" stroke-width="1.4"/>
<text x="527.3" y="142.5" font-size="9.8" font-weight="bold" text-anchor="middle" fill="#111" style="font-family:'Liberation Serif', serif">1</text>
<line x1="524.9" y1="145.3" x2="529.9" y2="145.3" stroke="#222" stroke-width="0.85"/>
<text x="527.3" y="153.6" font-size="9.8" font-weight="bold" font-style="italic" text-anchor="middle" fill="#111" style="font-family:'Liberation Serif', serif">C</text>
<line x1="533.1" y1="144" x2="537.8" y2="144" stroke="#333" stroke-width="0.7"/>
<line x1="533.1" y1="146.6" x2="537.8" y2="146.6" stroke="#333" stroke-width="0.7"/>
<text x="549.4" y="142.5" font-size="9.8" font-weight="bold" text-anchor="middle" fill="#111" style="font-family:'Liberation Serif', serif">1</text>
<line x1="540.7" y1="145.3" x2="557.6" y2="145.3" stroke="#222" stroke-width="0.85"/>
<text x="540.9" y="153.6" font-size="9.8" font-weight="bold" font-style="italic" fill="#111" style="font-family:'Liberation Serif', serif">C<tspan font-size="5.9" dy="1.4" font-style="normal">HTL</tspan></text>
<line x1="560.1" y1="145.3" x2="564.5" y2="145.3" stroke="#444" stroke-width="0.7"/>
<line x1="562.3" y1="143.1" x2="562.3" y2="147.5" stroke="#444" stroke-width="0.7"/>
<text x="574.2" y="142.5" font-size="9.8" font-weight="bold" text-anchor="middle" fill="#111" style="font-family:'Liberation Serif', serif">1</text>
<line x1="567.2" y1="145.3" x2="581" y2="145.3" stroke="#222" stroke-width="0.85"/>
<text x="567.4" y="153.6" font-size="9.8" font-weight="bold" font-style="italic" fill="#111" style="font-family:'Liberation Serif', serif">C<tspan font-size="5.9" dy="1.4" font-style="normal">QD</tspan></text>
<line x1="583.8" y1="145.3" x2="588.2" y2="145.3" stroke="#888" stroke-width="0.7"/>
<line x1="586" y1="143.1" x2="586" y2="147.5" stroke="#888" stroke-width="0.7"/>
<text x="598.8" y="142.5" font-size="9.8" font-weight="bold" text-anchor="middle" fill="#111" style="font-family:'Liberation Serif', serif">1</text>
<line x1="590.7" y1="145.3" x2="607" y2="145.3" stroke="#222" stroke-width="0.85"/>
<text x="590.9" y="153.6" font-size="9.8" font-weight="bold" font-style="italic" fill="#111" style="font-family:'Liberation Serif', serif">C<tspan font-size="5.9" dy="1.4" font-style="normal">ETL</tspan></text>
<text x="4.4" y="209" font-size="13.2" text-anchor="start" font-weight="bold" font-style="normal" fill="#000">e</text>
<defs><clipPath id="clipe"><rect x="29.2" y="214.4" width="150.1" height="141.6"/></clipPath></defs>
<g clip-path="url(#clipe)">
<path d="M29.2,356 L29.73,355.78 L30.25,355.43 L30.78,355.01 L31.3,354.53 L31.83,353.99 L32.35,353.42 L32.88,352.81 L33.4,352.16 L33.93,351.48 L34.46,350.78 L34.98,350.04 L35.51,349.28 L36.03,348.5 L36.56,347.69 L37.08,346.86 L37.61,346.01 L38.13,345.14 L38.66,344.25 L39.18,343.34 L39.71,342.41 L40.24,341.46 L40.76,340.5 L41.29,339.52 L41.81,338.52 L42.34,337.51 L42.86,336.48 L43.39,335.44 L43.91,334.38 L44.44,333.3 L44.97,332.22 L45.49,331.12 L46.02,330 L46.54,328.87 L47.07,327.73 L47.59,326.58 L48.12,325.41 L48.64,324.24 L49.17,323.04 L49.7,321.84 L50.22,320.63 L50.75,319.4 L51.27,318.16 L51.8,316.91 L52.32,315.66 L52.85,314.38 L53.37,313.1 L53.9,311.81 L54.43,310.51 L54.95,309.19 L55.48,307.87 L56,306.54 L56.53,305.19 L57.05,303.84 L57.58,302.48 L58.1,301.11 L58.63,299.72 L59.15,298.33 L59.68,296.93 L60.21,295.52 L60.73,294.1 L61.26,292.67 L61.78,291.24 L62.31,289.79 L62.83,288.34 L63.36,286.87 L63.88,285.4 L64.41,283.92 L64.94,282.43 L65.46,280.94 L65.99,279.43 L66.51,277.92 L67.04,276.39 L67.56,274.86 L68.09,273.33 L68.61,271.78 L69.14,270.23 L69.67,268.67 L70.19,267.1 L70.72,265.52 L71.24,263.94 L71.77,262.34 L72.29,260.75 L72.82,259.14 L73.34,257.52 L73.87,255.9 L74.4,254.27 L74.92,252.64 L75.45,250.99 L75.97,249.34 L76.5,247.69 L77.02,246.02 L77.55,244.35 L78.07,242.67 L78.6,240.99 L79.12,239.3 L79.65,237.6 L80.18,235.89 L80.7,234.18 L81.23,232.46 L81.75,230.74 L82.28,229 L82.8,227.27 L83.33,225.52 L83.85,223.77 L84.38,222.01 L84.91,220.25 L85.43,218.48 L85.96,216.7 L86.48,214.92 L87.01,213.13 L87.53,211.33 L88.06,209.53 L88.58,207.72 L89.11,205.91 L89.64,204.09 L90.16,202.26 L90.69,200.43 L91.21,198.59 L91.74,196.75" fill="none" stroke="#3a6fd0" stroke-width="1.2"/>
<path d="M29.2,356 L30.21,356 L31.21,356 L32.22,356 L33.23,356 L34.24,356 L35.24,356 L36.25,356 L37.26,356 L38.27,356 L39.27,356 L40.28,356 L41.29,356 L42.3,355.99 L43.3,355.99 L44.31,355.99 L45.32,355.99 L46.32,355.98 L47.33,355.98 L48.34,355.98 L49.35,355.97 L50.35,355.97 L51.36,355.96 L52.37,355.96 L53.38,355.95 L54.38,355.94 L55.39,355.93 L56.4,355.92 L57.4,355.91 L58.41,355.9 L59.42,355.89 L60.43,355.88 L61.43,355.86 L62.44,355.85 L63.45,355.83 L64.46,355.81 L65.46,355.79 L66.47,355.77 L67.48,355.75 L68.49,355.72 L69.49,355.7 L70.5,355.67 L71.51,355.64 L72.51,355.61 L73.52,355.58 L74.53,355.54 L75.54,355.5 L76.54,355.47 L77.55,355.42 L78.56,355.38 L79.57,355.34 L80.57,355.29 L81.58,355.24 L82.59,355.19 L83.6,355.13 L84.6,355.07 L85.61,355.01 L86.62,354.95 L87.62,354.88 L88.63,354.82 L89.64,354.74 L90.65,354.67 L91.65,354.59 L92.66,354.51 L93.67,354.43 L94.68,354.34 L95.68,354.25 L96.69,354.15 L97.7,354.05 L98.7,353.95 L99.71,353.85 L100.72,353.74 L101.73,353.62 L102.73,353.51 L103.74,353.38 L104.75,353.26 L105.76,353.13 L106.76,352.99 L107.77,352.85 L108.78,352.71 L109.79,352.56 L110.79,352.41 L111.8,352.25 L112.81,352.09 L113.81,351.92 L114.82,351.75 L115.83,351.57 L116.84,351.39 L117.84,351.2 L118.85,351.01 L119.86,350.81 L120.87,350.61 L121.87,350.39 L122.88,350.18 L123.89,349.96 L124.89,349.73 L125.9,349.49 L126.91,349.25 L127.92,349.01 L128.92,348.75 L129.93,348.5 L130.94,348.23 L131.95,347.96 L132.95,347.68 L133.96,347.39 L134.97,347.1 L135.98,346.8 L136.98,346.49 L137.99,346.18 L139,345.85 L140,345.52 L141.01,345.19 L142.02,344.84 L143.03,344.49 L144.03,344.13 L145.04,343.76 L146.05,343.38 L147.06,343 L148.06,342.61 L149.07,342.2 L150.08,341.79 L151.09,341.38 L152.09,340.95 L153.1,340.51 L154.11,340.07 L155.11,339.61 L156.12,339.15 L157.13,338.68 L158.14,338.19 L159.14,337.7 L160.15,337.2 L161.16,336.69 L162.17,336.17 L163.17,335.64 L164.18,335.1 L165.19,334.55 L166.19,333.99 L167.2,333.41 L168.21,332.83 L169.22,332.24 L170.22,331.63 L171.23,331.02 L172.24,330.39 L173.25,329.76 L174.25,329.11 L175.26,328.45 L176.27,327.78 L177.28,327.1 L178.28,326.4 L179.29,325.7" fill="none" stroke="#111" stroke-width="1.25"/>
<path d="M29.2,356 L29.73,355.99 L30.26,355.97 L30.78,355.96 L31.31,355.94 L31.84,355.93 L32.37,355.91 L32.9,355.9 L33.42,355.88 L33.95,355.87 L34.48,355.85 L35.01,355.84 L35.54,355.82 L36.06,355.81 L36.59,355.79 L37.12,355.78 L37.65,355.76 L38.18,355.75 L38.7,355.73 L39.23,355.72 L39.76,355.7 L40.29,355.68 L40.82,355.66 L41.34,355.64 L41.87,355.62 L42.4,355.6 L42.93,355.58 L43.45,355.56 L43.98,355.54 L44.51,355.52 L45.04,355.49 L45.57,355.47 L46.09,355.45 L46.62,355.42 L47.15,355.4 L47.68,355.37 L48.21,355.35 L48.73,355.32 L49.26,355.29 L49.79,355.26 L50.32,355.23 L50.85,355.2 L51.37,355.16 L51.9,355.13 L52.43,355.09 L52.96,355.06 L53.49,355.02 L54.01,354.98 L54.54,354.94 L55.07,354.89 L55.6,354.85 L56.13,354.8 L56.65,354.76 L57.18,354.71 L57.71,354.65 L58.24,354.6 L58.77,354.54 L59.29,354.48 L59.82,354.42 L60.35,354.35 L60.88,354.28 L61.41,354.21 L61.93,354.13 L62.46,354.05 L62.99,353.96 L63.52,353.87 L64.05,353.77 L64.57,353.66 L65.1,353.54 L65.63,353.4 L66.16,353.25 L66.68,353.09 L67.21,352.92 L67.74,352.74 L68.27,352.56 L68.8,352.37 L69.32,352.19 L69.85,352 L70.38,351.8 L70.91,351.6 L71.44,351.39 L71.96,351.17 L72.49,350.95 L73.02,350.7 L73.55,350.45 L74.08,350.18 L74.6,349.89 L75.13,349.57 L75.66,349.23 L76.19,348.86 L76.72,348.48 L77.24,348.08 L77.77,347.67 L78.3,347.25 L78.83,346.83 L79.36,346.41 L79.88,345.99 L80.41,345.57 L80.94,345.14 L81.47,344.71 L82,344.25 L82.52,343.78 L83.05,343.28 L83.58,342.76 L84.11,342.21 L84.64,341.62 L85.16,340.98 L85.69,340.29 L86.22,339.57 L86.75,338.81 L87.28,338.03 L87.8,337.23 L88.33,336.41 L88.86,335.59 L89.39,334.76 L89.91,333.91 L90.44,333.05 L90.97,332.15 L91.5,331.24 L92.03,330.32 L92.55,329.37 L93.08,328.41 L93.61,327.44 L94.14,326.45 L94.67,325.46 L95.19,324.46 L95.72,323.44 L96.25,322.41 L96.78,321.36 L97.31,320.29 L97.83,319.19 L98.36,318.06 L98.89,316.91 L99.42,315.71 L99.95,314.48 L100.47,313.19 L101,311.87 L101.53,310.52 L102.06,309.14 L102.59,307.74 L103.11,306.33 L103.64,304.91 L104.17,303.48 L104.7,302.05 L105.23,300.6 L105.75,299.12 L106.28,297.64 L106.81,296.13 L107.34,294.62 L107.87,293.09 L108.39,291.56 L108.92,290.02 L109.45,288.48 L109.98,286.95 L110.51,285.41 L111.03,283.86 L111.56,282.3 L112.09,280.73 L112.62,279.14 L113.14,277.53 L113.67,275.89 L114.2,274.22 L114.73,272.52 L115.26,270.77 L115.78,269 L116.31,267.2 L116.84,265.38 L117.37,263.53 L117.9,261.68 L118.42,259.82 L118.95,257.95 L119.48,256.08 L120.01,254.19 L120.54,252.28 L121.06,250.36 L121.59,248.43 L122.12,246.49 L122.65,244.54 L123.18,242.6 L123.7,240.65 L124.23,238.71 L124.76,236.77 L125.29,234.84 L125.82,232.91 L126.34,230.98 L126.87,229.04 L127.4,227.1 L127.93,225.14 L128.46,223.16 L128.98,221.17 L129.51,219.15 L130.04,217.11 L130.57,215.05 L131.1,212.98 L131.62,210.9 L132.15,208.8 L132.68,206.68 L133.21,204.55 L133.74,202.4 L134.26,200.24" fill="none" stroke="#111" stroke-width="1.3" stroke-dasharray="3.4,2.6"/>
</g>
<circle cx="29.2" cy="356" r="2.3" fill="#000"/>
<circle cx="34.2" cy="355.86" r="2.3" fill="#000"/>
<circle cx="39.21" cy="355.72" r="2.3" fill="#000"/>
<circle cx="44.21" cy="355.53" r="2.3" fill="#000"/>
<circle cx="49.21" cy="355.29" r="2.3" fill="#000"/>
<circle cx="54.22" cy="354.96" r="2.3" fill="#000"/>
<circle cx="59.22" cy="354.49" r="2.3" fill="#000"/>
<circle cx="64.22" cy="353.73" r="2.3" fill="#000"/>
<circle cx="69.22" cy="352.22" r="2.3" fill="#000"/>
<circle cx="74.23" cy="350.1" r="2.3" fill="#000"/>
<circle cx="79.23" cy="346.51" r="2.3" fill="#000"/>
<circle cx="84.23" cy="342.08" r="2.3" fill="#000"/>
<circle cx="89.24" cy="335" r="2.3" fill="#000"/>
<circle cx="94.24" cy="326.26" r="2.3" fill="#000"/>
<circle cx="99.24" cy="316.12" r="2.3" fill="#000"/>
<circle cx="104.25" cy="303.28" r="2.3" fill="#000"/>
<circle cx="109.25" cy="289.07" r="2.3" fill="#000"/>
<circle cx="114.25" cy="274.06" r="2.3" fill="#000"/>
<circle cx="119.25" cy="256.88" r="2.3" fill="#000"/>
<circle cx="124.26" cy="238.61" r="2.3" fill="#000"/>
<circle cx="129.26" cy="220.11" r="2.3" fill="#000"/>
<rect x="29.2" y="214.4" width="150.10000000000002" height="141.6" fill="none" stroke="#262626" stroke-width="1"/>
<line x1="29.2" y1="320.6" x2="31.4" y2="320.6" stroke="#262626" stroke-width="1"/>
<line x1="29.2" y1="285.2" x2="31.4" y2="285.2" stroke="#262626" stroke-width="1"/>
<line x1="29.2" y1="249.8" x2="31.4" y2="249.8" stroke="#262626" stroke-width="1"/>
<line x1="54.22" y1="356" x2="54.22" y2="353.8" stroke="#262626" stroke-width="1"/>
<line x1="79.23" y1="356" x2="79.23" y2="353.8" stroke="#262626" stroke-width="1"/>
<line x1="104.25" y1="356" x2="104.25" y2="353.8" stroke="#262626" stroke-width="1"/>
<line x1="129.26" y1="356" x2="129.26" y2="353.8" stroke="#262626" stroke-width="1"/>
<line x1="154.28" y1="356" x2="154.28" y2="353.8" stroke="#262626" stroke-width="1"/>
<text x="27.2" y="218.5" font-size="8.7" text-anchor="end" font-weight="normal" font-style="normal" fill="#1a1a1a">300</text>
<text x="27.2" y="289.3" font-size="8.7" text-anchor="end" font-weight="normal" font-style="normal" fill="#1a1a1a">150</text>
<text x="24.6" y="360.1" font-size="8.7" text-anchor="end" font-weight="normal" font-style="normal" fill="#1a1a1a">0</text>
<text x="29.4" y="366.7" font-size="8.7" text-anchor="middle" font-weight="normal" font-style="normal" fill="#1a1a1a">0</text>
<text x="79.43" y="366.7" font-size="8.7" text-anchor="middle" font-weight="normal" font-style="normal" fill="#1a1a1a">1</text>
<text x="129.46" y="366.7" font-size="8.7" text-anchor="middle" font-weight="normal" font-style="normal" fill="#1a1a1a">2</text>
<text x="179.49" y="366.7" font-size="8.7" text-anchor="middle" font-weight="normal" font-style="normal" fill="#1a1a1a">3</text>
<text x="102.7" y="376.3" font-size="8.9" text-anchor="middle" font-weight="normal" font-style="normal" fill="#1a1a1a">Voltage (V)</text>
<text x="11.8" y="297.8" font-size="8.9" text-anchor="middle" font-weight="normal" font-style="normal" fill="#1a1a1a" transform="rotate(-90 11.8 297.8)">Current density (mA cm<tspan font-size="5.8" dy="-3">-2</tspan><tspan dy="3">)</tspan></text>
<text x="66.5" y="264" font-size="8.2" text-anchor="middle" font-weight="normal" font-style="normal" fill="#1a1a1a" transform="rotate(-71.3 66.5 264)">EOD: water-vapor treated</text>
<text x="121.2" y="226.6" font-size="8.4" text-anchor="middle" font-weight="normal" font-style="normal" fill="#1a1a1a" transform="rotate(-64 121.2 226.6)">HOD</text>
<text x="151.1" y="338" font-size="8.4" text-anchor="middle" font-weight="normal" font-style="normal" fill="#1a1a1a" transform="rotate(-22 151.1 338)">pristine EOD</text>
<rect x="230.3" y="206.1" width="58.1" height="14.1" fill="#2e74b5"/>
<text x="259.35" y="216.5" font-size="8.4" text-anchor="middle" font-weight="bold" font-style="normal" fill="#fff">H<tspan font-size="5.8" dy="1.8">2</tspan><tspan dy="-1.8">O (g)</tspan></text>
<rect x="288.4" y="206.1" width="30.2" height="14.1" fill="#fdb94e"/>
<text x="303.5" y="216.5" font-size="8.4" text-anchor="middle" font-weight="bold" font-style="normal" fill="#111">O<tspan font-size="5.8" dy="1.8">2</tspan></text>
<rect x="318.6" y="206.1" width="55.9" height="14.1" fill="#2e74b5"/>
<text x="346.55" y="216.5" font-size="8.4" text-anchor="middle" font-weight="bold" font-style="normal" fill="#fff">H<tspan font-size="5.8" dy="1.8">2</tspan><tspan dy="-1.8">O (g)</tspan></text>
<rect x="374.5" y="206.1" width="30.1" height="14.1" fill="#fdb94e"/>
<text x="389.55" y="216.5" font-size="8.4" text-anchor="middle" font-weight="bold" font-style="normal" fill="#111">O<tspan font-size="5.8" dy="1.8">2</tspan></text>
<rect x="404.6" y="206.1" width="58" height="14.1" fill="#2e74b5"/>
<text x="433.6" y="216.5" font-size="8.4" text-anchor="middle" font-weight="bold" font-style="normal" fill="#fff">H<tspan font-size="5.8" dy="1.8">2</tspan><tspan dy="-1.8">O (g)</tspan></text>
<rect x="230.3" y="206.1" width="232.3" height="14.1" fill="none" stroke="#111" stroke-width="1"/>
<line x1="288.4" y1="206.1" x2="288.4" y2="220.2" stroke="#111" stroke-width="1"/>
<line x1="318.6" y1="206.1" x2="318.6" y2="220.2" stroke="#111" stroke-width="1"/>
<line x1="374.5" y1="206.1" x2="374.5" y2="220.2" stroke="#111" stroke-width="1"/>
<line x1="404.6" y1="206.1" x2="404.6" y2="220.2" stroke="#111" stroke-width="1"/>
<line x1="230.3" y1="220.5" x2="230.3" y2="233" stroke="#444" stroke-width="0.8" stroke-dasharray="1.4,1"/>
<line x1="288.4" y1="220.5" x2="370.4" y2="233" stroke="#444" stroke-width="0.8" stroke-dasharray="1.4,1"/>
<line x1="318.6" y1="220.5" x2="381.3" y2="233" stroke="#444" stroke-width="0.8" stroke-dasharray="1.4,1"/>
<line x1="374.5" y1="220.5" x2="408.2" y2="233" stroke="#444" stroke-width="0.8" stroke-dasharray="1.4,1"/>
<line x1="404.6" y1="220.5" x2="420.0" y2="233" stroke="#444" stroke-width="0.8" stroke-dasharray="1.4,1"/>
<line x1="462.5" y1="220.5" x2="462.5" y2="233" stroke="#444" stroke-width="0.8" stroke-dasharray="1.4,1"/>
<rect x="370.1" y="233.2" width="11.1" height="122.9" fill="#fdb94e"/>
<rect x="408.1" y="233.2" width="12.0" height="122.9" fill="#fdb94e"/>
<path d="M230.5,288.8 L230.75,288.81 L231,288.81 L231.25,288.81 L231.5,288.82 L231.75,288.82 L232,288.83 L232.25,288.83 L232.5,288.84 L232.75,288.84 L233,288.84 L233.25,288.85 L233.5,288.85 L233.75,288.85 L234,288.86 L234.25,288.86 L234.5,288.86 L234.75,288.86 L235,288.87 L235.25,288.87 L235.5,288.87 L235.75,288.87 L236,288.88 L236.25,288.88 L236.5,288.88 L236.75,288.88 L237,288.88 L237.25,288.88 L237.5,288.89 L237.75,288.89 L238,288.89 L238.25,288.89 L238.5,288.89 L238.75,288.89 L239,288.89 L239.25,288.89 L239.5,288.89 L239.75,288.9 L240,288.9 L240.25,288.9 L240.5,288.9 L240.75,288.9 L241,288.9 L241.25,288.9 L241.5,288.9 L241.75,288.9 L242,288.9 L242.25,288.9 L242.5,288.9 L242.75,288.9 L243,288.9 L243.25,288.9 L243.5,288.9 L243.75,288.9 L244,288.9 L244.25,288.9 L244.5,288.9 L244.75,288.9 L245,288.9 L245.25,288.9 L245.5,288.9 L245.75,288.9 L246,288.89 L246.25,288.89 L246.5,288.88 L246.75,288.88 L247,288.87 L247.25,288.86 L247.5,288.85 L247.75,288.84 L248,288.83 L248.25,288.82 L248.5,288.81 L248.75,288.8 L249,288.78 L249.25,288.77 L249.5,288.75 L249.75,288.74 L250,288.72 L250.25,288.7 L250.5,288.68 L250.75,288.66 L251,288.64 L251.25,288.62 L251.5,288.6 L251.75,288.58 L252,288.56 L252.25,288.53 L252.5,288.51 L252.75,288.49 L253,288.46 L253.25,288.43 L253.5,288.41 L253.75,288.38 L254,288.35 L254.25,288.32 L254.5,288.3 L254.75,288.27 L255,288.24 L255.25,288.2 L255.5,288.17 L255.75,288.14 L256,288.11 L256.25,288.08 L256.5,288.04 L256.75,288.01 L257,287.97 L257.25,287.94 L257.5,287.9 L257.75,287.87 L258,287.83 L258.25,287.8 L258.5,287.76 L258.75,287.72 L259,287.68 L259.25,287.64 L259.5,287.61 L259.75,287.57 L260,287.53 L260.25,287.49 L260.5,287.45 L260.75,287.41 L261,287.37 L261.25,287.33 L261.5,287.28 L261.75,287.24 L262,287.2 L262.25,287.16 L262.5,287.11 L262.75,287.05 L263,287 L263.25,286.93 L263.5,286.87 L263.75,286.8 L264,286.72 L264.25,286.65 L264.5,286.56 L264.75,286.48 L265,286.39 L265.25,286.3 L265.5,286.2 L265.75,286.1 L266,286 L266.25,285.89 L266.5,285.78 L266.75,285.67 L267,285.56 L267.25,285.44 L267.5,285.32 L267.75,285.2 L268,285.07 L268.25,284.94 L268.5,284.81 L268.75,284.68 L269,284.54 L269.25,284.41 L269.5,284.27 L269.75,284.12 L270,283.98 L270.25,283.84 L270.5,283.69 L270.75,283.54 L271,283.39 L271.25,283.24 L271.5,283.09 L271.75,282.93 L272,282.78 L272.25,282.62 L272.5,282.46 L272.75,282.3 L273,282.14 L273.25,281.98 L273.5,281.82 L273.75,281.66 L274,281.5 L274.25,281.34 L274.5,281.18 L274.75,281.01 L275,280.85 L275.25,280.69 L275.5,280.52 L275.75,280.36 L276,280.2 L276.25,280.04 L276.5,279.87 L276.75,279.71 L277,279.55 L277.25,279.39 L277.5,279.23 L277.75,279.07 L278,278.91 L278.25,278.76 L278.5,278.6 L278.75,278.44 L279,278.28 L279.25,278.12 L279.5,277.96 L279.75,277.79 L280,277.62 L280.25,277.45 L280.5,277.27 L280.75,277.1 L281,276.92 L281.25,276.73 L281.5,276.55 L281.75,276.37 L282,276.18 L282.25,275.99 L282.5,275.8 L282.75,275.61 L283,275.41 L283.25,275.22 L283.5,275.02 L283.75,274.82 L284,274.62 L284.25,274.42 L284.5,274.22 L284.75,274.02 L285,273.81 L285.25,273.61 L285.5,273.4 L285.75,273.2 L286,272.99 L286.25,272.78 L286.5,272.57 L286.75,272.36 L287,272.15 L287.25,271.94 L287.5,271.73 L287.75,271.52 L288,271.31 L288.25,271.1 L288.5,270.89 L288.75,270.68 L289,270.47 L289.25,270.25 L289.5,270.04 L289.75,269.83 L290,269.62 L290.25,269.41 L290.5,269.21 L290.75,269 L291,268.79 L291.25,268.58 L291.5,268.38 L291.75,268.17 L292,267.97 L292.25,267.77 L292.5,267.56 L292.75,267.36 L293,267.16 L293.25,266.97 L293.5,266.77 L293.75,266.57 L294,266.38 L294.25,266.19 L294.5,266 L294.75,265.81 L295,265.62 L295.25,265.44 L295.5,265.25 L295.75,265.07 L296,264.89 L296.25,264.72 L296.5,264.54 L296.75,264.37 L297,264.2 L297.25,264.03 L297.5,263.86 L297.75,263.7 L298,263.53 L298.25,263.36 L298.5,263.19 L298.75,263.03 L299,262.86 L299.25,262.69 L299.5,262.53 L299.75,262.36 L300,262.2 L300.25,262.03 L300.5,261.87 L300.75,261.7 L301,261.54 L301.25,261.38 L301.5,261.21 L301.75,261.05 L302,260.89 L302.25,260.73 L302.5,260.57 L302.75,260.41 L303,260.25 L303.25,260.09 L303.5,259.93 L303.75,259.77 L304,259.61 L304.25,259.46 L304.5,259.3 L304.75,259.15 L305,258.99 L305.25,258.84 L305.5,258.68 L305.75,258.53 L306,258.38 L306.25,258.22 L306.5,258.07 L306.75,257.92 L307,257.77 L307.25,257.62 L307.5,257.47 L307.75,257.33 L308,257.18 L308.25,257.03 L308.5,256.89 L308.75,256.74 L309,256.6 L309.25,256.46 L309.5,256.32 L309.75,256.18 L310,256.04 L310.25,255.9 L310.5,255.76 L310.75,255.62 L311,255.48 L311.25,255.35 L311.5,255.21 L311.75,255.08 L312,254.95 L312.25,254.82 L312.5,254.69 L312.75,254.56 L313,254.43 L313.25,254.3 L313.5,254.17 L313.75,254.05 L314,253.92 L314.25,253.8 L314.5,253.68 L314.75,253.56 L315,253.44 L315.25,253.32 L315.5,253.2 L315.75,253.08 L316,252.97 L316.25,252.85 L316.5,252.73 L316.75,252.62 L317,252.5 L317.25,252.39 L317.5,252.27 L317.75,252.16 L318,252.04 L318.25,251.93 L318.5,251.82 L318.75,251.7 L319,251.59 L319.25,251.48 L319.5,251.37 L319.75,251.25 L320,251.14 L320.25,251.03 L320.5,250.92 L320.75,250.81 L321,250.7 L321.25,250.59 L321.5,250.48 L321.75,250.37 L322,250.26 L322.25,250.16 L322.5,250.05 L322.75,249.94 L323,249.83 L323.25,249.73 L323.5,249.62 L323.75,249.52 L324,249.41 L324.25,249.31 L324.5,249.2 L324.75,249.1 L325,249 L325.25,248.89 L325.5,248.79 L325.75,248.69 L326,248.59 L326.25,248.49 L326.5,248.39 L326.75,248.29 L327,248.19 L327.25,248.09 L327.5,247.99 L327.75,247.9 L328,247.8 L328.25,247.7 L328.5,247.61 L328.75,247.51 L329,247.42 L329.25,247.32 L329.5,247.23 L329.75,247.14 L330,247.04 L330.25,246.95 L330.5,246.86 L330.75,246.77 L331,246.68 L331.25,246.59 L331.5,246.5 L331.75,246.41 L332,246.33 L332.25,246.24 L332.5,246.15 L332.75,246.07 L333,245.98 L333.25,245.9 L333.5,245.82 L333.75,245.73 L334,245.65 L334.25,245.57 L334.5,245.49 L334.75,245.41 L335,245.33 L335.25,245.25 L335.5,245.17 L335.75,245.1 L336,245.02 L336.25,244.94 L336.5,244.87 L336.75,244.79 L337,244.72 L337.25,244.65 L337.5,244.58 L337.75,244.51 L338,244.43 L338.25,244.37 L338.5,244.3 L338.75,244.23 L339,244.16 L339.25,244.09 L339.5,244.03 L339.75,243.96 L340,243.9 L340.25,243.84 L340.5,243.77 L340.75,243.71 L341,243.65 L341.25,243.58 L341.5,243.52 L341.75,243.46 L342,243.4 L342.25,243.34 L342.5,243.28 L342.75,243.21 L343,243.15 L343.25,243.09 L343.5,243.03 L343.75,242.97 L344,242.92 L344.25,242.86 L344.5,242.8 L344.75,242.74 L345,242.68 L345.25,242.63 L345.5,242.57 L345.75,242.52 L346,242.46 L346.25,242.41 L346.5,242.36 L346.75,242.3 L347,242.25 L347.25,242.2 L347.5,242.15 L347.75,242.1 L348,242.05 L348.25,242 L348.5,241.95 L348.75,241.91 L349,241.86 L349.25,241.82 L349.5,241.77 L349.75,241.73 L350,241.69 L350.25,241.65 L350.5,241.6 L350.75,241.57 L351,241.53 L351.25,241.49 L351.5,241.45 L351.75,241.42 L352,241.38 L352.25,241.35 L352.5,241.32 L352.75,241.29 L353,241.26 L353.25,241.23 L353.5,241.2 L353.75,241.17 L354,241.15 L354.25,241.12 L354.5,241.09 L354.75,241.07 L355,241.04 L355.25,241.01 L355.5,240.99 L355.75,240.96 L356,240.93 L356.25,240.91 L356.5,240.88 L356.75,240.85 L357,240.83 L357.25,240.8 L357.5,240.78 L357.75,240.75 L358,240.73 L358.25,240.7 L358.5,240.68 L358.75,240.65 L359,240.63 L359.25,240.61 L359.5,240.58 L359.75,240.56 L360,240.54 L360.25,240.51 L360.5,240.49 L360.75,240.47 L361,240.45 L361.25,240.43 L361.5,240.4 L361.75,240.38 L362,240.36 L362.25,240.34 L362.5,240.32 L362.75,240.31 L363,240.29 L363.25,240.27 L363.5,240.25 L363.75,240.24 L364,240.22 L364.25,240.2 L364.5,240.19 L364.75,240.17 L365,240.16 L365.25,240.14 L365.5,240.13 L365.75,240.12 L366,240.11 L366.25,240.09 L366.5,240.08 L366.75,240.07 L367,240.06 L367.25,240.05 L367.5,240.05 L367.75,240.04 L368,240.03 L368.25,240.02 L368.5,240.02 L368.75,240.01 L369,240.01 L369.25,240.01 L369.5,240 L369.75,240 L370,240 L372.5,262.2 L374.7,291.3 L382.6,291.3 L385.2,285.5 L387.8,281.6 L388.05,280.16 L388.3,278.76 L388.55,277.4 L388.8,276.1 L389.05,274.86 L389.3,273.69 L389.55,272.61 L389.8,271.6 L390.05,270.67 L390.3,269.79 L390.55,268.95 L390.8,268.15 L391.05,267.37 L391.3,266.6 L391.55,265.84 L391.8,265.06 L392.05,264.27 L392.3,263.44 L392.55,262.57 L392.8,261.64 L393.05,260.68 L393.3,259.71 L393.55,258.78 L393.8,257.9 L394.05,257.12 L394.3,256.44 L394.55,255.83 L394.8,255.25 L395.05,254.71 L395.3,254.2 L395.55,253.71 L395.8,253.24 L396.05,252.79 L396.3,252.34 L396.55,251.9 L396.8,251.46 L397.05,251.01 L397.3,250.56 L397.55,250.11 L397.8,249.66 L398.05,249.21 L398.3,248.78 L398.55,248.36 L398.8,247.95 L399.05,247.55 L399.3,247.18 L399.55,246.83 L399.8,246.5 L400.05,246.19 L400.3,245.88 L400.55,245.57 L400.8,245.27 L401.05,244.98 L401.3,244.7 L401.55,244.42 L401.8,244.16 L402.05,243.91 L402.3,243.68 L402.55,243.46 L402.8,243.26 L403.05,243.08 L403.3,242.92 L403.55,242.77 L403.8,242.64 L404.05,242.51 L404.3,242.38 L404.55,242.25 L404.8,242.12 L405.05,242.01 L405.3,241.9 L405.55,241.79 L405.8,241.69 L406.05,241.6 L406.3,241.52 L406.55,241.46 L406.8,241.4 L407.05,241.35 L407.3,241.32 L407.55,241.3 L410.5,259.4 L412.4,290.8 L422.9,290.8 L424.6,286.5 L426.6,281.6 L426.85,281.49 L427.1,281.32 L427.35,281.08 L427.6,280.78 L427.85,280.43 L428.1,280.03 L428.35,279.59 L428.6,279.1 L428.85,278.58 L429.1,278.03 L429.35,277.45 L429.6,276.85 L429.85,276.24 L430.1,275.61 L430.35,274.97 L430.6,274.2 L430.85,273.25 L431.1,272.18 L431.35,270.99 L431.6,269.73 L431.85,268.43 L432.1,267.12 L432.35,265.82 L432.6,264.58 L432.85,263.42 L433.1,262.37 L433.35,261.46 L433.6,260.68 L433.85,259.91 L434.1,259.17 L434.35,258.44 L434.6,257.74 L434.85,257.06 L435.1,256.4 L435.35,255.76 L435.6,255.15 L435.85,254.56 L436.1,254 L436.35,253.47 L436.6,252.96 L436.85,252.49 L437.1,252.04 L437.35,251.63 L437.6,251.24 L437.85,250.89 L438.1,250.54 L438.35,250.21 L438.6,249.88 L438.85,249.56 L439.1,249.25 L439.35,248.95 L439.6,248.67 L439.85,248.39 L440.1,248.13 L440.35,247.88 L440.6,247.65 L440.85,247.43 L441.1,247.23 L441.35,247.04 L441.6,246.88 L441.85,246.72 L442.1,246.59 L442.35,246.48 L442.6,246.37 L442.85,246.27 L443.1,246.17 L443.35,246.07 L443.6,245.97 L443.85,245.88 L444.1,245.79 L444.35,245.7 L444.6,245.61 L444.85,245.53 L445.1,245.45 L445.35,245.37 L445.6,245.3 L445.85,245.22 L446.1,245.16 L446.35,245.09 L446.6,245.03 L446.85,244.97 L447.1,244.92 L447.35,244.87 L447.6,244.82 L447.85,244.78 L448.1,244.74 L448.35,244.71 L448.6,244.68 L448.85,244.65 L449.1,244.63 L449.35,244.62 L449.6,244.6 L449.85,244.6 L450.1,244.59 L450.35,244.58 L450.6,244.57 L450.85,244.56 L451.1,244.56 L451.35,244.55 L451.6,244.54 L451.85,244.54 L452.1,244.53 L452.35,244.52 L452.6,244.52 L452.85,244.51 L453.1,244.51 L453.35,244.5 L453.6,244.5 L453.85,244.49 L454.1,244.48 L454.35,244.48 L454.6,244.47 L454.85,244.47 L455.1,244.47 L455.35,244.46 L455.6,244.46 L455.85,244.45 L456.1,244.45 L456.35,244.45 L456.6,244.44 L456.85,244.44 L457.1,244.43 L457.35,244.43 L457.6,244.43 L457.85,244.43 L458.1,244.42 L458.35,244.42 L458.6,244.42 L458.85,244.42 L459.1,244.41 L459.35,244.41 L459.6,244.41 L459.85,244.41 L460.1,244.41 L460.35,244.41 L460.6,244.4 L460.85,244.4 L461.1,244.4 L461.35,244.4 L461.6,244.4 L461.85,244.4 L462.1,244.4 L462.35,244.4" fill="none" stroke="#333" stroke-width="0.7"/>
<rect x="229.35" y="287.65" width="2.3" height="2.3" fill="none" stroke="#222" stroke-width="0.6"/>
<rect x="231.65" y="287.69" width="2.3" height="2.3" fill="none" stroke="#222" stroke-width="0.6"/>
<rect x="233.95" y="287.72" width="2.3" height="2.3" fill="none" stroke="#222" stroke-width="0.6"/>
<rect x="236.25" y="287.74" width="2.3" height="2.3" fill="none" stroke="#222" stroke-width="0.6"/>
<rect x="238.55" y="287.75" width="2.3" height="2.3" fill="none" stroke="#222" stroke-width="0.6"/>
<rect x="240.85" y="287.75" width="2.3" height="2.3" fill="none" stroke="#222" stroke-width="0.6"/>
<rect x="243.15" y="287.75" width="2.3" height="2.3" fill="none" stroke="#222" stroke-width="0.6"/>
<rect x="245.45" y="287.73" width="2.3" height="2.3" fill="none" stroke="#222" stroke-width="0.6"/>
<rect x="247.75" y="287.64" width="2.3" height="2.3" fill="none" stroke="#222" stroke-width="0.6"/>
<rect x="250.05" y="287.48" width="2.3" height="2.3" fill="none" stroke="#222" stroke-width="0.6"/>
<rect x="252.35" y="287.26" width="2.3" height="2.3" fill="none" stroke="#222" stroke-width="0.6"/>
<rect x="254.65" y="286.98" width="2.3" height="2.3" fill="none" stroke="#222" stroke-width="0.6"/>
<rect x="256.95" y="286.67" width="2.3" height="2.3" fill="none" stroke="#222" stroke-width="0.6"/>
<rect x="259.25" y="286.31" width="2.3" height="2.3" fill="none" stroke="#222" stroke-width="0.6"/>
<rect x="261.55" y="285.91" width="2.3" height="2.3" fill="none" stroke="#222" stroke-width="0.6"/>
<rect x="263.85" y="285.24" width="2.3" height="2.3" fill="none" stroke="#222" stroke-width="0.6"/>
<rect x="266.15" y="284.27" width="2.3" height="2.3" fill="none" stroke="#222" stroke-width="0.6"/>
<rect x="268.45" y="283.06" width="2.3" height="2.3" fill="none" stroke="#222" stroke-width="0.6"/>
<rect x="270.75" y="281.69" width="2.3" height="2.3" fill="none" stroke="#222" stroke-width="0.6"/>
<rect x="273.05" y="280.22" width="2.3" height="2.3" fill="none" stroke="#222" stroke-width="0.6"/>
<rect x="275.35" y="278.72" width="2.3" height="2.3" fill="none" stroke="#222" stroke-width="0.6"/>
<rect x="277.65" y="277.26" width="2.3" height="2.3" fill="none" stroke="#222" stroke-width="0.6"/>
<rect x="279.95" y="275.69" width="2.3" height="2.3" fill="none" stroke="#222" stroke-width="0.6"/>
<rect x="282.25" y="273.95" width="2.3" height="2.3" fill="none" stroke="#222" stroke-width="0.6"/>
<rect x="284.55" y="272.09" width="2.3" height="2.3" fill="none" stroke="#222" stroke-width="0.6"/>
<rect x="286.85" y="270.16" width="2.3" height="2.3" fill="none" stroke="#222" stroke-width="0.6"/>
<rect x="289.15" y="268.22" width="2.3" height="2.3" fill="none" stroke="#222" stroke-width="0.6"/>
<rect x="291.45" y="266.33" width="2.3" height="2.3" fill="none" stroke="#222" stroke-width="0.6"/>
<rect x="293.75" y="264.55" width="2.3" height="2.3" fill="none" stroke="#222" stroke-width="0.6"/>
<rect x="296.05" y="262.92" width="2.3" height="2.3" fill="none" stroke="#222" stroke-width="0.6"/>
<rect x="298.35" y="261.38" width="2.3" height="2.3" fill="none" stroke="#222" stroke-width="0.6"/>
<rect x="300.65" y="259.87" width="2.3" height="2.3" fill="none" stroke="#222" stroke-width="0.6"/>
<rect x="302.95" y="258.4" width="2.3" height="2.3" fill="none" stroke="#222" stroke-width="0.6"/>
<rect x="305.25" y="256.98" width="2.3" height="2.3" fill="none" stroke="#222" stroke-width="0.6"/>
<rect x="307.55" y="255.62" width="2.3" height="2.3" fill="none" stroke="#222" stroke-width="0.6"/>
<rect x="309.85" y="254.33" width="2.3" height="2.3" fill="none" stroke="#222" stroke-width="0.6"/>
<rect x="312.15" y="253.12" width="2.3" height="2.3" fill="none" stroke="#222" stroke-width="0.6"/>
<rect x="314.45" y="252" width="2.3" height="2.3" fill="none" stroke="#222" stroke-width="0.6"/>
<rect x="316.75" y="250.94" width="2.3" height="2.3" fill="none" stroke="#222" stroke-width="0.6"/>
<rect x="319.05" y="249.9" width="2.3" height="2.3" fill="none" stroke="#222" stroke-width="0.6"/>
<rect x="321.35" y="248.9" width="2.3" height="2.3" fill="none" stroke="#222" stroke-width="0.6"/>
<rect x="323.65" y="247.93" width="2.3" height="2.3" fill="none" stroke="#222" stroke-width="0.6"/>
<rect x="325.95" y="247" width="2.3" height="2.3" fill="none" stroke="#222" stroke-width="0.6"/>
<rect x="328.25" y="246.12" width="2.3" height="2.3" fill="none" stroke="#222" stroke-width="0.6"/>
<rect x="330.55" y="245.28" width="2.3" height="2.3" fill="none" stroke="#222" stroke-width="0.6"/>
<rect x="332.85" y="244.5" width="2.3" height="2.3" fill="none" stroke="#222" stroke-width="0.6"/>
<rect x="335.15" y="243.78" width="2.3" height="2.3" fill="none" stroke="#222" stroke-width="0.6"/>
<rect x="337.45" y="243.12" width="2.3" height="2.3" fill="none" stroke="#222" stroke-width="0.6"/>
<rect x="339.75" y="242.52" width="2.3" height="2.3" fill="none" stroke="#222" stroke-width="0.6"/>
<rect x="342.05" y="241.96" width="2.3" height="2.3" fill="none" stroke="#222" stroke-width="0.6"/>
<rect x="344.35" y="241.42" width="2.3" height="2.3" fill="none" stroke="#222" stroke-width="0.6"/>
<rect x="346.65" y="240.94" width="2.3" height="2.3" fill="none" stroke="#222" stroke-width="0.6"/>
<rect x="348.95" y="240.52" width="2.3" height="2.3" fill="none" stroke="#222" stroke-width="0.6"/>
<rect x="351.25" y="240.18" width="2.3" height="2.3" fill="none" stroke="#222" stroke-width="0.6"/>
<rect x="353.55" y="239.92" width="2.3" height="2.3" fill="none" stroke="#222" stroke-width="0.6"/>
<rect x="355.85" y="239.68" width="2.3" height="2.3" fill="none" stroke="#222" stroke-width="0.6"/>
<rect x="358.15" y="239.45" width="2.3" height="2.3" fill="none" stroke="#222" stroke-width="0.6"/>
<rect x="360.45" y="239.25" width="2.3" height="2.3" fill="none" stroke="#222" stroke-width="0.6"/>
<rect x="362.75" y="239.08" width="2.3" height="2.3" fill="none" stroke="#222" stroke-width="0.6"/>
<rect x="365.05" y="238.95" width="2.3" height="2.3" fill="none" stroke="#222" stroke-width="0.6"/>
<rect x="367.35" y="238.87" width="2.3" height="2.3" fill="none" stroke="#222" stroke-width="0.6"/>
<rect x="371.35" y="261.05" width="2.3" height="2.3" fill="none" stroke="#222" stroke-width="0.6"/>
<rect x="373.55" y="290.15" width="2.3" height="2.3" fill="none" stroke="#222" stroke-width="0.6"/>
<rect x="375.85" y="290.15" width="2.3" height="2.3" fill="none" stroke="#222" stroke-width="0.6"/>
<rect x="378.15" y="290.15" width="2.3" height="2.3" fill="none" stroke="#222" stroke-width="0.6"/>
<rect x="380.45" y="290.15" width="2.3" height="2.3" fill="none" stroke="#222" stroke-width="0.6"/>
<rect x="384.05" y="284.35" width="2.3" height="2.3" fill="none" stroke="#222" stroke-width="0.6"/>
<rect x="386.65" y="280.45" width="2.3" height="2.3" fill="none" stroke="#222" stroke-width="0.6"/>
<rect x="388.95" y="269.34" width="2.3" height="2.3" fill="none" stroke="#222" stroke-width="0.6"/>
<rect x="391.25" y="261.94" width="2.3" height="2.3" fill="none" stroke="#222" stroke-width="0.6"/>
<rect x="393.55" y="254.33" width="2.3" height="2.3" fill="none" stroke="#222" stroke-width="0.6"/>
<rect x="395.85" y="249.95" width="2.3" height="2.3" fill="none" stroke="#222" stroke-width="0.6"/>
<rect x="398.15" y="246.03" width="2.3" height="2.3" fill="none" stroke="#222" stroke-width="0.6"/>
<rect x="400.45" y="243.22" width="2.3" height="2.3" fill="none" stroke="#222" stroke-width="0.6"/>
<rect x="402.75" y="241.44" width="2.3" height="2.3" fill="none" stroke="#222" stroke-width="0.6"/>
<rect x="405.05" y="240.41" width="2.3" height="2.3" fill="none" stroke="#222" stroke-width="0.6"/>
<rect x="409.35" y="258.25" width="2.3" height="2.3" fill="none" stroke="#222" stroke-width="0.6"/>
<rect x="411.25" y="289.65" width="2.3" height="2.3" fill="none" stroke="#222" stroke-width="0.6"/>
<rect x="413.55" y="289.65" width="2.3" height="2.3" fill="none" stroke="#222" stroke-width="0.6"/>
<rect x="415.85" y="289.65" width="2.3" height="2.3" fill="none" stroke="#222" stroke-width="0.6"/>
<rect x="418.15" y="289.65" width="2.3" height="2.3" fill="none" stroke="#222" stroke-width="0.6"/>
<rect x="420.45" y="289.65" width="2.3" height="2.3" fill="none" stroke="#222" stroke-width="0.6"/>
<rect x="423.45" y="285.35" width="2.3" height="2.3" fill="none" stroke="#222" stroke-width="0.6"/>
<rect x="425.45" y="280.45" width="2.3" height="2.3" fill="none" stroke="#222" stroke-width="0.6"/>
<rect x="427.75" y="277.32" width="2.3" height="2.3" fill="none" stroke="#222" stroke-width="0.6"/>
<rect x="430.05" y="270.55" width="2.3" height="2.3" fill="none" stroke="#222" stroke-width="0.6"/>
<rect x="432.35" y="259.84" width="2.3" height="2.3" fill="none" stroke="#222" stroke-width="0.6"/>
<rect x="434.65" y="253.53" width="2.3" height="2.3" fill="none" stroke="#222" stroke-width="0.6"/>
<rect x="436.95" y="249.39" width="2.3" height="2.3" fill="none" stroke="#222" stroke-width="0.6"/>
<rect x="439.25" y="246.69" width="2.3" height="2.3" fill="none" stroke="#222" stroke-width="0.6"/>
<rect x="441.55" y="245.18" width="2.3" height="2.3" fill="none" stroke="#222" stroke-width="0.6"/>
<rect x="443.85" y="244.33" width="2.3" height="2.3" fill="none" stroke="#222" stroke-width="0.6"/>
<rect x="446.15" y="243.73" width="2.3" height="2.3" fill="none" stroke="#222" stroke-width="0.6"/>
<rect x="448.45" y="243.45" width="2.3" height="2.3" fill="none" stroke="#222" stroke-width="0.6"/>
<rect x="450.75" y="243.39" width="2.3" height="2.3" fill="none" stroke="#222" stroke-width="0.6"/>
<rect x="453.05" y="243.33" width="2.3" height="2.3" fill="none" stroke="#222" stroke-width="0.6"/>
<rect x="455.35" y="243.29" width="2.3" height="2.3" fill="none" stroke="#222" stroke-width="0.6"/>
<rect x="457.65" y="243.27" width="2.3" height="2.3" fill="none" stroke="#222" stroke-width="0.6"/>
<rect x="459.95" y="243.25" width="2.3" height="2.3" fill="none" stroke="#222" stroke-width="0.6"/>
<path d="M230.5,355.2 L230.75,355.2 L231,355.2 L231.25,355.2 L231.5,355.2 L231.75,355.2 L232,355.2 L232.25,355.2 L232.5,355.2 L232.75,355.2 L233,355.2 L233.25,355.2 L233.5,355.2 L233.75,355.2 L234,355.2 L234.25,355.2 L234.5,355.19 L234.75,355.19 L235,355.19 L235.25,355.19 L235.5,355.19 L235.75,355.19 L236,355.19 L236.25,355.19 L236.5,355.19 L236.75,355.19 L237,355.19 L237.25,355.18 L237.5,355.18 L237.75,355.18 L238,355.18 L238.25,355.18 L238.5,355.18 L238.75,355.18 L239,355.17 L239.25,355.17 L239.5,355.17 L239.75,355.17 L240,355.17 L240.25,355.17 L240.5,355.16 L240.75,355.16 L241,355.16 L241.25,355.16 L241.5,355.16 L241.75,355.15 L242,355.15 L242.25,355.15 L242.5,355.15 L242.75,355.15 L243,355.14 L243.25,355.14 L243.5,355.14 L243.75,355.14 L244,355.13 L244.25,355.13 L244.5,355.13 L244.75,355.13 L245,355.12 L245.25,355.12 L245.5,355.12 L245.75,355.12 L246,355.11 L246.25,355.11 L246.5,355.11 L246.75,355.1 L247,355.1 L247.25,355.1 L247.5,355.1 L247.75,355.09 L248,355.09 L248.25,355.09 L248.5,355.08 L248.75,355.08 L249,355.08 L249.25,355.07 L249.5,355.07 L249.75,355.07 L250,355.06 L250.25,355.06 L250.5,355.05 L250.75,355.05 L251,355.05 L251.25,355.04 L251.5,355.04 L251.75,355.04 L252,355.03 L252.25,355.03 L252.5,355.02 L252.75,355.02 L253,355.02 L253.25,355.01 L253.5,355.01 L253.75,355 L254,355 L254.25,354.99 L254.5,354.98 L254.75,354.97 L255,354.95 L255.25,354.94 L255.5,354.92 L255.75,354.89 L256,354.87 L256.25,354.84 L256.5,354.81 L256.75,354.78 L257,354.74 L257.25,354.71 L257.5,354.67 L257.75,354.63 L258,354.59 L258.25,354.54 L258.5,354.5 L258.75,354.45 L259,354.4 L259.25,354.34 L259.5,354.29 L259.75,354.24 L260,354.18 L260.25,354.12 L260.5,354.06 L260.75,354 L261,353.94 L261.25,353.87 L261.5,353.81 L261.75,353.74 L262,353.67 L262.25,353.6 L262.5,353.53 L262.75,353.46 L263,353.39 L263.25,353.32 L263.5,353.24 L263.75,353.17 L264,353.09 L264.25,353.02 L264.5,352.94 L264.75,352.86 L265,352.79 L265.25,352.71 L265.5,352.63 L265.75,352.55 L266,352.47 L266.25,352.39 L266.5,352.31 L266.75,352.23 L267,352.15 L267.25,352.07 L267.5,351.99 L267.75,351.91 L268,351.83 L268.25,351.75 L268.5,351.67 L268.75,351.59 L269,351.51 L269.25,351.43 L269.5,351.36 L269.75,351.28 L270,351.2 L270.25,351.12 L270.5,351.04 L270.75,350.96 L271,350.88 L271.25,350.8 L271.5,350.72 L271.75,350.63 L272,350.55 L272.25,350.46 L272.5,350.37 L272.75,350.28 L273,350.19 L273.25,350.1 L273.5,350.01 L273.75,349.92 L274,349.82 L274.25,349.73 L274.5,349.63 L274.75,349.53 L275,349.43 L275.25,349.33 L275.5,349.23 L275.75,349.13 L276,349.03 L276.25,348.93 L276.5,348.82 L276.75,348.72 L277,348.61 L277.25,348.5 L277.5,348.39 L277.75,348.29 L278,348.17 L278.25,348.06 L278.5,347.95 L278.75,347.84 L279,347.72 L279.25,347.61 L279.5,347.49 L279.75,347.38 L280,347.26 L280.25,347.14 L280.5,347.02 L280.75,346.9 L281,346.78 L281.25,346.66 L281.5,346.54 L281.75,346.41 L282,346.29 L282.25,346.16 L282.5,346.04 L282.75,345.91 L283,345.79 L283.25,345.66 L283.5,345.53 L283.75,345.4 L284,345.27 L284.25,345.14 L284.5,345 L284.75,344.87 L285,344.74 L285.25,344.6 L285.5,344.47 L285.75,344.33 L286,344.2 L286.25,344.06 L286.5,343.92 L286.75,343.79 L287,343.65 L287.25,343.51 L287.5,343.37 L287.75,343.23 L288,343.08 L288.25,342.94 L288.5,342.8 L288.75,342.66 L289,342.51 L289.25,342.36 L289.5,342.2 L289.75,342.05 L290,341.89 L290.25,341.72 L290.5,341.56 L290.75,341.39 L291,341.22 L291.25,341.05 L291.5,340.87 L291.75,340.69 L292,340.51 L292.25,340.33 L292.5,340.14 L292.75,339.96 L293,339.77 L293.25,339.58 L293.5,339.39 L293.75,339.19 L294,339 L294.25,338.8 L294.5,338.6 L294.75,338.4 L295,338.2 L295.25,338 L295.5,337.79 L295.75,337.59 L296,337.38 L296.25,337.18 L296.5,336.97 L296.75,336.76 L297,336.55 L297.25,336.34 L297.5,336.13 L297.75,335.92 L298,335.71 L298.25,335.5 L298.5,335.29 L298.75,335.07 L299,334.86 L299.25,334.65 L299.5,334.44 L299.75,334.23 L300,334.01 L300.25,333.8 L300.5,333.59 L300.75,333.38 L301,333.17 L301.25,332.96 L301.5,332.75 L301.75,332.55 L302,332.34 L302.25,332.13 L302.5,331.93 L302.75,331.72 L303,331.52 L303.25,331.32 L303.5,331.12 L303.75,330.92 L304,330.72 L304.25,330.53 L304.5,330.33 L304.75,330.14 L305,329.95 L305.25,329.76 L305.5,329.58 L305.75,329.39 L306,329.21 L306.25,329.03 L306.5,328.85 L306.75,328.67 L307,328.5 L307.25,328.33 L307.5,328.16 L307.75,327.99 L308,327.82 L308.25,327.65 L308.5,327.48 L308.75,327.31 L309,327.14 L309.25,326.97 L309.5,326.81 L309.75,326.64 L310,326.48 L310.25,326.31 L310.5,326.15 L310.75,325.98 L311,325.82 L311.25,325.66 L311.5,325.5 L311.75,325.34 L312,325.17 L312.25,325.01 L312.5,324.85 L312.75,324.69 L313,324.53 L313.25,324.38 L313.5,324.22 L313.75,324.06 L314,323.9 L314.25,323.75 L314.5,323.59 L314.75,323.43 L315,323.28 L315.25,323.12 L315.5,322.97 L315.75,322.81 L316,322.66 L316.25,322.51 L316.5,322.35 L316.75,322.2 L317,322.05 L317.25,321.89 L317.5,321.74 L317.75,321.59 L318,321.44 L318.25,321.29 L318.5,321.14 L318.75,320.99 L319,320.84 L319.25,320.69 L319.5,320.54 L319.75,320.39 L320,320.24 L320.25,320.09 L320.5,319.94 L320.75,319.79 L321,319.64 L321.25,319.49 L321.5,319.35 L321.75,319.2 L322,319.05 L322.25,318.9 L322.5,318.76 L322.75,318.61 L323,318.46 L323.25,318.32 L323.5,318.17 L323.75,318.02 L324,317.88 L324.25,317.73 L324.5,317.58 L324.75,317.44 L325,317.29 L325.25,317.15 L325.5,317 L325.75,316.85 L326,316.71 L326.25,316.56 L326.5,316.4 L326.75,316.25 L327,316.1 L327.25,315.94 L327.5,315.79 L327.75,315.63 L328,315.48 L328.25,315.32 L328.5,315.16 L328.75,315 L329,314.84 L329.25,314.68 L329.5,314.52 L329.75,314.36 L330,314.2 L330.25,314.04 L330.5,313.88 L330.75,313.72 L331,313.57 L331.25,313.41 L331.5,313.25 L331.75,313.09 L332,312.94 L332.25,312.78 L332.5,312.63 L332.75,312.48 L333,312.33 L333.25,312.18 L333.5,312.03 L333.75,311.88 L334,311.73 L334.25,311.59 L334.5,311.45 L334.75,311.31 L335,311.17 L335.25,311.04 L335.5,310.9 L335.75,310.77 L336,310.64 L336.25,310.52 L336.5,310.39 L336.75,310.27 L337,310.15 L337.25,310.04 L337.5,309.93 L337.75,309.82 L338,309.71 L338.25,309.61 L338.5,309.51 L338.75,309.42 L339,309.33 L339.25,309.24 L339.5,309.16 L339.75,309.08 L340,309 L340.25,308.93 L340.5,308.86 L340.75,308.78 L341,308.72 L341.25,308.65 L341.5,308.58 L341.75,308.51 L342,308.45 L342.25,308.38 L342.5,308.32 L342.75,308.26 L343,308.2 L343.25,308.14 L343.5,308.08 L343.75,308.02 L344,307.96 L344.25,307.91 L344.5,307.85 L344.75,307.8 L345,307.74 L345.25,307.69 L345.5,307.64 L345.75,307.59 L346,307.54 L346.25,307.49 L346.5,307.44 L346.75,307.39 L347,307.34 L347.25,307.29 L347.5,307.25 L347.75,307.2 L348,307.15 L348.25,307.11 L348.5,307.06 L348.75,307.02 L349,306.98 L349.25,306.93 L349.5,306.89 L349.75,306.85 L350,306.8 L350.25,306.76 L350.5,306.72 L350.75,306.68 L351,306.64 L351.25,306.6 L351.5,306.56 L351.75,306.52 L352,306.48 L352.25,306.44 L352.5,306.4 L352.75,306.36 L353,306.32 L353.25,306.28 L353.5,306.24 L353.75,306.2 L354,306.16 L354.25,306.12 L354.5,306.08 L354.75,306.04 L355,306 L355.25,305.96 L355.5,305.92 L355.75,305.88 L356,305.84 L356.25,305.8 L356.5,305.76 L356.75,305.73 L357,305.69 L357.25,305.65 L357.5,305.61 L357.75,305.57 L358,305.54 L358.25,305.5 L358.5,305.46 L358.75,305.42 L359,305.39 L359.25,305.35 L359.5,305.31 L359.75,305.28 L360,305.24 L360.25,305.2 L360.5,305.17 L360.75,305.13 L361,305.1 L361.25,305.06 L361.5,305.03 L361.75,304.99 L362,304.96 L362.25,304.92 L362.5,304.89 L362.75,304.86 L363,304.82 L363.25,304.79 L363.5,304.76 L363.75,304.73 L364,304.69 L364.25,304.66 L364.5,304.63 L364.75,304.6 L365,304.57 L365.25,304.53 L365.5,304.5 L365.75,304.47 L366,304.44 L366.25,304.41 L366.5,304.38 L366.75,304.35 L367,304.32 L367.25,304.3 L367.5,304.27 L367.75,304.24 L368,304.21 L368.25,304.18 L368.5,304.16 L368.75,304.13 L369,304.1 L369.25,304.08 L369.5,304.05 L369.75,304.02 L370,304 L370.25,303.97 L370.5,303.95 L370.75,303.92 L371,303.9 L372.9,327.9 L375.6,355.5 L384.9,355.5 L386.8,352.5 L387.05,352.09 L387.3,351.54 L387.55,350.88 L387.8,350.12 L388.05,349.28 L388.3,348.36 L388.55,347.4 L388.8,346.31 L389.05,344.97 L389.3,343.44 L389.55,341.79 L389.8,340.09 L390.05,338.4 L390.3,336.8 L390.55,335.31 L390.8,333.78 L391.05,332.25 L391.3,330.73 L391.55,329.27 L391.8,327.91 L392.05,326.67 L392.3,325.58 L392.55,324.54 L392.8,323.54 L393.05,322.57 L393.3,321.65 L393.55,320.77 L393.8,319.94 L394.05,319.16 L394.3,318.45 L394.55,317.79 L394.8,317.21 L395.05,316.7 L395.3,316.24 L395.55,315.8 L395.8,315.39 L396.05,315 L396.3,314.63 L396.55,314.29 L396.8,313.95 L397.05,313.64 L397.3,313.33 L397.55,313.04 L397.8,312.76 L398.05,312.48 L398.3,312.21 L398.55,311.94 L398.8,311.67 L399.05,311.39 L399.3,311.12 L399.55,310.83 L399.8,310.54 L400.05,310.24 L400.3,309.92 L400.55,309.58 L400.8,309.24 L401.05,308.9 L401.3,308.57 L401.55,308.26 L401.8,307.98 L402.05,307.75 L402.3,307.56 L402.55,307.42 L402.8,307.29 L403.05,307.16 L403.3,307.03 L403.55,306.9 L403.8,306.78 L404.05,306.67 L404.3,306.55 L404.55,306.44 L404.8,306.33 L405.05,306.23 L405.3,306.13 L405.55,306.04 L405.8,305.95 L406.05,305.86 L406.3,305.78 L406.55,305.71 L406.8,305.63 L407.05,305.57 L407.3,305.51 L407.55,305.45 L407.8,305.4 L408.05,305.35 L408.3,305.31 L408.55,305.28 L408.8,305.25 L409.05,305.23 L409.3,305.21 L409.55,305.2 L409.8,305.2 L411.3,322.3 L412.6,355.8 L422.7,355.8 L425.5,353.5 L425.75,353.38 L426,353.19 L426.25,352.93 L426.5,352.61 L426.75,352.23 L427,351.81 L427.25,351.35 L427.5,350.85 L427.75,350.32 L428,349.78 L428.25,349.21 L428.5,348.6 L428.75,347.84 L429,346.95 L429.25,345.96 L429.5,344.87 L429.75,343.71 L430,342.48 L430.25,341.22 L430.5,339.92 L430.75,338.61 L431,337.31 L431.25,336.03 L431.5,334.8 L431.75,333.61 L432,332.5 L432.25,331.4 L432.5,330.24 L432.75,329.05 L433,327.86 L433.25,326.69 L433.5,325.55 L433.75,324.48 L434,323.5 L434.25,322.62 L434.5,321.88 L434.75,321.29 L435,320.77 L435.25,320.27 L435.5,319.78 L435.75,319.31 L436,318.87 L436.25,318.44 L436.5,318.04 L436.75,317.65 L437,317.29 L437.25,316.95 L437.5,316.63 L437.75,316.34 L438,316.06 L438.25,315.82 L438.5,315.59 L438.75,315.4 L439,315.22 L439.25,315.08 L439.5,314.95 L439.75,314.84 L440,314.73 L440.25,314.62 L440.5,314.51 L440.75,314.41 L441,314.3 L441.25,314.21 L441.5,314.11 L441.75,314.02 L442,313.93 L442.25,313.85 L442.5,313.76 L442.75,313.68 L443,313.6 L443.25,313.53 L443.5,313.46 L443.75,313.39 L444,313.32 L444.25,313.26 L444.5,313.2 L444.75,313.14 L445,313.09 L445.25,313.03 L445.5,312.99 L445.75,312.94 L446,312.9 L446.25,312.85 L446.5,312.82 L446.75,312.78 L447,312.75 L447.25,312.72 L447.5,312.69 L447.75,312.66 L448,312.64 L448.25,312.62 L448.5,312.61 L448.75,312.59 L449,312.58 L449.25,312.56 L449.5,312.55 L449.75,312.54 L450,312.52 L450.25,312.51 L450.5,312.5 L450.75,312.48 L451,312.47 L451.25,312.46 L451.5,312.45 L451.75,312.44 L452,312.42 L452.25,312.41 L452.5,312.4 L452.75,312.39 L453,312.38 L453.25,312.37 L453.5,312.36 L453.75,312.35 L454,312.34 L454.25,312.33 L454.5,312.32 L454.75,312.32 L455,312.31 L455.25,312.3 L455.5,312.29 L455.75,312.29 L456,312.28 L456.25,312.27 L456.5,312.26 L456.75,312.26 L457,312.25 L457.25,312.25 L457.5,312.24 L457.75,312.24 L458,312.23 L458.25,312.23 L458.5,312.22 L458.75,312.22 L459,312.22 L459.25,312.21 L459.5,312.21 L459.75,312.21 L460,312.21 L460.25,312.2 L460.5,312.2 L460.75,312.2 L461,312.2 L461.25,312.2 L461.5,312.2" fill="none" stroke="#2f9148" stroke-width="0.8"/>
<path d="M230.5,353.9 L231.7,356.1 L229.3,356.1 Z" fill="none" stroke="#2f9148" stroke-width="0.55"/>
<path d="M232.8,353.9 L234,356.1 L231.6,356.1 Z" fill="none" stroke="#2f9148" stroke-width="0.55"/>
<path d="M235.1,353.89 L236.3,356.09 L233.9,356.09 Z" fill="none" stroke="#2f9148" stroke-width="0.55"/>
<path d="M237.4,353.88 L238.6,356.08 L236.2,356.08 Z" fill="none" stroke="#2f9148" stroke-width="0.55"/>
<path d="M239.7,353.87 L240.9,356.07 L238.5,356.07 Z" fill="none" stroke="#2f9148" stroke-width="0.55"/>
<path d="M242,353.85 L243.2,356.05 L240.8,356.05 Z" fill="none" stroke="#2f9148" stroke-width="0.55"/>
<path d="M244.3,353.83 L245.5,356.03 L243.1,356.03 Z" fill="none" stroke="#2f9148" stroke-width="0.55"/>
<path d="M246.6,353.81 L247.8,356.01 L245.4,356.01 Z" fill="none" stroke="#2f9148" stroke-width="0.55"/>
<path d="M248.9,353.78 L250.1,355.98 L247.7,355.98 Z" fill="none" stroke="#2f9148" stroke-width="0.55"/>
<path d="M251.2,353.74 L252.4,355.94 L250,355.94 Z" fill="none" stroke="#2f9148" stroke-width="0.55"/>
<path d="M253.5,353.71 L254.7,355.91 L252.3,355.91 Z" fill="none" stroke="#2f9148" stroke-width="0.55"/>
<path d="M255.8,353.59 L257,355.79 L254.6,355.79 Z" fill="none" stroke="#2f9148" stroke-width="0.55"/>
<path d="M258.1,353.27 L259.3,355.47 L256.9,355.47 Z" fill="none" stroke="#2f9148" stroke-width="0.55"/>
<path d="M260.4,352.78 L261.6,354.98 L259.2,354.98 Z" fill="none" stroke="#2f9148" stroke-width="0.55"/>
<path d="M262.7,352.18 L263.9,354.38 L261.5,354.38 Z" fill="none" stroke="#2f9148" stroke-width="0.55"/>
<path d="M265,351.49 L266.2,353.69 L263.8,353.69 Z" fill="none" stroke="#2f9148" stroke-width="0.55"/>
<path d="M267.3,350.75 L268.5,352.95 L266.1,352.95 Z" fill="none" stroke="#2f9148" stroke-width="0.55"/>
<path d="M269.6,350.02 L270.8,352.22 L268.4,352.22 Z" fill="none" stroke="#2f9148" stroke-width="0.55"/>
<path d="M271.9,349.28 L273.1,351.48 L270.7,351.48 Z" fill="none" stroke="#2f9148" stroke-width="0.55"/>
<path d="M274.2,348.45 L275.4,350.65 L273,350.65 Z" fill="none" stroke="#2f9148" stroke-width="0.55"/>
<path d="M276.5,347.52 L277.7,349.72 L275.3,349.72 Z" fill="none" stroke="#2f9148" stroke-width="0.55"/>
<path d="M278.8,346.52 L280,348.72 L277.6,348.72 Z" fill="none" stroke="#2f9148" stroke-width="0.55"/>
<path d="M281.1,345.43 L282.3,347.63 L279.9,347.63 Z" fill="none" stroke="#2f9148" stroke-width="0.55"/>
<path d="M283.4,344.28 L284.6,346.48 L282.2,346.48 Z" fill="none" stroke="#2f9148" stroke-width="0.55"/>
<path d="M285.7,343.06 L286.9,345.26 L284.5,345.26 Z" fill="none" stroke="#2f9148" stroke-width="0.55"/>
<path d="M288,341.78 L289.2,343.98 L286.8,343.98 Z" fill="none" stroke="#2f9148" stroke-width="0.55"/>
<path d="M290.3,340.39 L291.5,342.59 L289.1,342.59 Z" fill="none" stroke="#2f9148" stroke-width="0.55"/>
<path d="M292.6,338.77 L293.8,340.97 L291.4,340.97 Z" fill="none" stroke="#2f9148" stroke-width="0.55"/>
<path d="M294.9,336.98 L296.1,339.18 L293.7,339.18 Z" fill="none" stroke="#2f9148" stroke-width="0.55"/>
<path d="M297.2,335.08 L298.4,337.28 L296,337.28 Z" fill="none" stroke="#2f9148" stroke-width="0.55"/>
<path d="M299.5,333.14 L300.7,335.34 L298.3,335.34 Z" fill="none" stroke="#2f9148" stroke-width="0.55"/>
<path d="M301.8,331.21 L303,333.41 L300.6,333.41 Z" fill="none" stroke="#2f9148" stroke-width="0.55"/>
<path d="M304.1,329.35 L305.3,331.55 L302.9,331.55 Z" fill="none" stroke="#2f9148" stroke-width="0.55"/>
<path d="M306.4,327.62 L307.6,329.82 L305.2,329.82 Z" fill="none" stroke="#2f9148" stroke-width="0.55"/>
<path d="M308.7,326.04 L309.9,328.24 L307.5,328.24 Z" fill="none" stroke="#2f9148" stroke-width="0.55"/>
<path d="M311,324.52 L312.2,326.72 L309.8,326.72 Z" fill="none" stroke="#2f9148" stroke-width="0.55"/>
<path d="M313.3,323.04 L314.5,325.24 L312.1,325.24 Z" fill="none" stroke="#2f9148" stroke-width="0.55"/>
<path d="M315.6,321.61 L316.8,323.81 L314.4,323.81 Z" fill="none" stroke="#2f9148" stroke-width="0.55"/>
<path d="M317.9,320.2 L319.1,322.4 L316.7,322.4 Z" fill="none" stroke="#2f9148" stroke-width="0.55"/>
<path d="M320.2,318.82 L321.4,321.02 L319,321.02 Z" fill="none" stroke="#2f9148" stroke-width="0.55"/>
<path d="M322.5,317.46 L323.7,319.66 L321.3,319.66 Z" fill="none" stroke="#2f9148" stroke-width="0.55"/>
<path d="M324.8,316.11 L326,318.31 L323.6,318.31 Z" fill="none" stroke="#2f9148" stroke-width="0.55"/>
<path d="M327.1,314.74 L328.3,316.94 L325.9,316.94 Z" fill="none" stroke="#2f9148" stroke-width="0.55"/>
<path d="M329.4,313.29 L330.6,315.49 L328.2,315.49 Z" fill="none" stroke="#2f9148" stroke-width="0.55"/>
<path d="M331.7,311.82 L332.9,314.02 L330.5,314.02 Z" fill="none" stroke="#2f9148" stroke-width="0.55"/>
<path d="M334,310.43 L335.2,312.63 L332.8,312.63 Z" fill="none" stroke="#2f9148" stroke-width="0.55"/>
<path d="M336.3,309.19 L337.5,311.39 L335.1,311.39 Z" fill="none" stroke="#2f9148" stroke-width="0.55"/>
<path d="M338.6,308.17 L339.8,310.37 L337.4,310.37 Z" fill="none" stroke="#2f9148" stroke-width="0.55"/>
<path d="M340.9,307.44 L342.1,309.64 L339.7,309.64 Z" fill="none" stroke="#2f9148" stroke-width="0.55"/>
<path d="M343.2,306.85 L344.4,309.05 L342,309.05 Z" fill="none" stroke="#2f9148" stroke-width="0.55"/>
<path d="M345.5,306.34 L346.7,308.54 L344.3,308.54 Z" fill="none" stroke="#2f9148" stroke-width="0.55"/>
<path d="M347.8,305.89 L349,308.09 L346.6,308.09 Z" fill="none" stroke="#2f9148" stroke-width="0.55"/>
<path d="M350.1,305.49 L351.3,307.69 L348.9,307.69 Z" fill="none" stroke="#2f9148" stroke-width="0.55"/>
<path d="M352.4,305.11 L353.6,307.31 L351.2,307.31 Z" fill="none" stroke="#2f9148" stroke-width="0.55"/>
<path d="M354.7,304.75 L355.9,306.95 L353.5,306.95 Z" fill="none" stroke="#2f9148" stroke-width="0.55"/>
<path d="M357,304.39 L358.2,306.59 L355.8,306.59 Z" fill="none" stroke="#2f9148" stroke-width="0.55"/>
<path d="M359.3,304.04 L360.5,306.24 L358.1,306.24 Z" fill="none" stroke="#2f9148" stroke-width="0.55"/>
<path d="M361.6,303.71 L362.8,305.91 L360.4,305.91 Z" fill="none" stroke="#2f9148" stroke-width="0.55"/>
<path d="M363.9,303.41 L365.1,305.61 L362.7,305.61 Z" fill="none" stroke="#2f9148" stroke-width="0.55"/>
<path d="M366.2,303.12 L367.4,305.32 L365,305.32 Z" fill="none" stroke="#2f9148" stroke-width="0.55"/>
<path d="M368.5,302.86 L369.7,305.06 L367.3,305.06 Z" fill="none" stroke="#2f9148" stroke-width="0.55"/>
<path d="M370.8,302.62 L372,304.82 L369.6,304.82 Z" fill="none" stroke="#2f9148" stroke-width="0.55"/>
<path d="M372.9,326.6 L374.1,328.8 L371.7,328.8 Z" fill="none" stroke="#2f9148" stroke-width="0.55"/>
<path d="M375.6,354.2 L376.8,356.4 L374.4,356.4 Z" fill="none" stroke="#2f9148" stroke-width="0.55"/>
<path d="M377.9,354.2 L379.1,356.4 L376.7,356.4 Z" fill="none" stroke="#2f9148" stroke-width="0.55"/>
<path d="M380.2,354.2 L381.4,356.4 L379,356.4 Z" fill="none" stroke="#2f9148" stroke-width="0.55"/>
<path d="M382.5,354.2 L383.7,356.4 L381.3,356.4 Z" fill="none" stroke="#2f9148" stroke-width="0.55"/>
<path d="M384.8,354.2 L386,356.4 L383.6,356.4 Z" fill="none" stroke="#2f9148" stroke-width="0.55"/>
<path d="M386.8,351.2 L388,353.4 L385.6,353.4 Z" fill="none" stroke="#2f9148" stroke-width="0.55"/>
<path d="M389.1,343.37 L390.3,345.57 L387.9,345.57 Z" fill="none" stroke="#2f9148" stroke-width="0.55"/>
<path d="M391.4,328.85 L392.6,331.05 L390.2,331.05 Z" fill="none" stroke="#2f9148" stroke-width="0.55"/>
<path d="M393.7,318.97 L394.9,321.17 L392.5,321.17 Z" fill="none" stroke="#2f9148" stroke-width="0.55"/>
<path d="M396,313.78 L397.2,315.98 L394.8,315.98 Z" fill="none" stroke="#2f9148" stroke-width="0.55"/>
<path d="M398.3,310.91 L399.5,313.11 L397.1,313.11 Z" fill="none" stroke="#2f9148" stroke-width="0.55"/>
<path d="M400.6,308.21 L401.8,310.41 L399.4,310.41 Z" fill="none" stroke="#2f9148" stroke-width="0.55"/>
<path d="M402.9,305.93 L404.1,308.13 L401.7,308.13 Z" fill="none" stroke="#2f9148" stroke-width="0.55"/>
<path d="M405.2,304.87 L406.4,307.07 L404,307.07 Z" fill="none" stroke="#2f9148" stroke-width="0.55"/>
<path d="M407.5,304.16 L408.7,306.36 L406.3,306.36 Z" fill="none" stroke="#2f9148" stroke-width="0.55"/>
<path d="M409.8,303.9 L411,306.1 L408.6,306.1 Z" fill="none" stroke="#2f9148" stroke-width="0.55"/>
<path d="M411.3,321 L412.5,323.2 L410.1,323.2 Z" fill="none" stroke="#2f9148" stroke-width="0.55"/>
<path d="M412.6,354.5 L413.8,356.7 L411.4,356.7 Z" fill="none" stroke="#2f9148" stroke-width="0.55"/>
<path d="M414.9,354.5 L416.1,356.7 L413.7,356.7 Z" fill="none" stroke="#2f9148" stroke-width="0.55"/>
<path d="M417.2,354.5 L418.4,356.7 L416,356.7 Z" fill="none" stroke="#2f9148" stroke-width="0.55"/>
<path d="M419.5,354.5 L420.7,356.7 L418.3,356.7 Z" fill="none" stroke="#2f9148" stroke-width="0.55"/>
<path d="M421.8,354.5 L423,356.7 L420.6,356.7 Z" fill="none" stroke="#2f9148" stroke-width="0.55"/>
<path d="M425.5,352.2 L426.7,354.4 L424.3,354.4 Z" fill="none" stroke="#2f9148" stroke-width="0.55"/>
<path d="M427.8,348.91 L429,351.11 L426.6,351.11 Z" fill="none" stroke="#2f9148" stroke-width="0.55"/>
<path d="M430.1,340.68 L431.3,342.88 L428.9,342.88 Z" fill="none" stroke="#2f9148" stroke-width="0.55"/>
<path d="M432.4,329.4 L433.6,331.6 L431.2,331.6 Z" fill="none" stroke="#2f9148" stroke-width="0.55"/>
<path d="M434.7,320.11 L435.9,322.31 L433.5,322.31 Z" fill="none" stroke="#2f9148" stroke-width="0.55"/>
<path d="M437,315.99 L438.2,318.19 L435.8,318.19 Z" fill="none" stroke="#2f9148" stroke-width="0.55"/>
<path d="M439.3,313.75 L440.5,315.95 L438.1,315.95 Z" fill="none" stroke="#2f9148" stroke-width="0.55"/>
<path d="M441.6,312.78 L442.8,314.98 L440.4,314.98 Z" fill="none" stroke="#2f9148" stroke-width="0.55"/>
<path d="M443.9,312.05 L445.1,314.25 L442.7,314.25 Z" fill="none" stroke="#2f9148" stroke-width="0.55"/>
<path d="M446.2,311.56 L447.4,313.76 L445,313.76 Z" fill="none" stroke="#2f9148" stroke-width="0.55"/>
<path d="M448.5,311.31 L449.7,313.51 L447.3,313.51 Z" fill="none" stroke="#2f9148" stroke-width="0.55"/>
<path d="M450.8,311.18 L452,313.38 L449.6,313.38 Z" fill="none" stroke="#2f9148" stroke-width="0.55"/>
<path d="M453.1,311.08 L454.3,313.28 L451.9,313.28 Z" fill="none" stroke="#2f9148" stroke-width="0.55"/>
<path d="M455.4,311 L456.6,313.2 L454.2,313.2 Z" fill="none" stroke="#2f9148" stroke-width="0.55"/>
<path d="M457.7,310.94 L458.9,313.14 L456.5,313.14 Z" fill="none" stroke="#2f9148" stroke-width="0.55"/>
<path d="M460,310.91 L461.2,313.11 L458.8,313.11 Z" fill="none" stroke="#2f9148" stroke-width="0.55"/>
<path d="M230.5,334.8 L230.75,334.96 L231,335.11 L231.25,335.27 L231.5,335.41 L231.75,335.56 L232,335.7 L232.25,335.84 L232.5,335.97 L232.75,336.1 L233,336.22 L233.25,336.34 L233.5,336.45 L233.75,336.56 L234,336.67 L234.25,336.77 L234.5,336.86 L234.75,336.95 L235,337.04 L235.25,337.12 L235.5,337.19 L235.75,337.26 L236,337.32 L236.25,337.38 L236.5,337.43 L236.75,337.47 L237,337.51 L237.25,337.54 L237.5,337.57 L237.75,337.58 L238,337.6 L238.25,337.6 L238.5,337.6 L238.75,337.59 L239,337.58 L239.25,337.56 L239.5,337.53 L239.75,337.5 L240,337.46 L240.25,337.42 L240.5,337.37 L240.75,337.32 L241,337.26 L241.25,337.2 L241.5,337.13 L241.75,337.06 L242,336.99 L242.25,336.91 L242.5,336.83 L242.75,336.74 L243,336.65 L243.25,336.56 L243.5,336.47 L243.75,336.37 L244,336.27 L244.25,336.16 L244.5,336.06 L244.75,335.95 L245,335.84 L245.25,335.73 L245.5,335.62 L245.75,335.5 L246,335.39 L246.25,335.27 L246.5,335.15 L246.75,335.03 L247,334.91 L247.25,334.8 L247.5,334.68 L247.75,334.56 L248,334.44 L248.25,334.32 L248.5,334.2 L248.75,334.08 L249,333.96 L249.25,333.84 L249.5,333.73 L249.75,333.61 L250,333.5 L250.25,333.39 L250.5,333.26 L250.75,333.14 L251,333.01 L251.25,332.87 L251.5,332.74 L251.75,332.59 L252,332.44 L252.25,332.29 L252.5,332.14 L252.75,331.98 L253,331.82 L253.25,331.66 L253.5,331.49 L253.75,331.32 L254,331.15 L254.25,330.98 L254.5,330.81 L254.75,330.63 L255,330.46 L255.25,330.28 L255.5,330.1 L255.75,329.93 L256,329.75 L256.25,329.57 L256.5,329.4 L256.75,329.22 L257,329.04 L257.25,328.87 L257.5,328.69 L257.75,328.52 L258,328.35 L258.25,328.19 L258.5,328.02 L258.75,327.86 L259,327.7 L259.25,327.54 L259.5,327.38 L259.75,327.23 L260,327.09 L260.25,326.94 L260.5,326.8 L260.75,326.67 L261,326.54 L261.25,326.41 L261.5,326.29 L261.75,326.18 L262,326.07 L262.25,325.96 L262.5,325.85 L262.75,325.74 L263,325.64 L263.25,325.53 L263.5,325.43 L263.75,325.33 L264,325.24 L264.25,325.14 L264.5,325.04 L264.75,324.95 L265,324.86 L265.25,324.77 L265.5,324.68 L265.75,324.59 L266,324.5 L266.25,324.41 L266.5,324.33 L266.75,324.24 L267,324.16 L267.25,324.08 L267.5,324 L267.75,323.91 L268,323.83 L268.25,323.75 L268.5,323.67 L268.75,323.59 L269,323.52 L269.25,323.44 L269.5,323.36 L269.75,323.28 L270,323.2 L270.25,323.13 L270.5,323.05 L270.75,322.97 L271,322.89 L271.25,322.82 L271.5,322.74 L271.75,322.66 L272,322.58 L272.25,322.5 L272.5,322.43 L272.75,322.35 L273,322.27 L273.25,322.19 L273.5,322.1 L273.75,322.02 L274,321.94 L274.25,321.86 L274.5,321.77 L274.75,321.69 L275,321.6 L275.25,321.52 L275.5,321.43 L275.75,321.34 L276,321.25 L276.25,321.16 L276.5,321.07 L276.75,320.97 L277,320.88 L277.25,320.78 L277.5,320.68 L277.75,320.58 L278,320.48 L278.25,320.37 L278.5,320.26 L278.75,320.16 L279,320.04 L279.25,319.93 L279.5,319.82 L279.75,319.7 L280,319.59 L280.25,319.47 L280.5,319.35 L280.75,319.23 L281,319.12 L281.25,319 L281.5,318.88 L281.75,318.76 L282,318.63 L282.25,318.51 L282.5,318.39 L282.75,318.27 L283,318.15 L283.25,318.04 L283.5,317.92 L283.75,317.8 L284,317.68 L284.25,317.57 L284.5,317.45 L284.75,317.34 L285,317.23 L285.25,317.12 L285.5,317.01 L285.75,316.91 L286,316.8 L286.25,316.7 L286.5,316.6 L286.75,316.5 L287,316.41 L287.25,316.32 L287.5,316.23 L287.75,316.14 L288,316.06 L288.25,315.98 L288.5,315.9 L288.75,315.83 L289,315.75 L289.25,315.68 L289.5,315.6 L289.75,315.53 L290,315.46 L290.25,315.39 L290.5,315.32 L290.75,315.25 L291,315.18 L291.25,315.11 L291.5,315.04 L291.75,314.98 L292,314.91 L292.25,314.84 L292.5,314.78 L292.75,314.71 L293,314.65 L293.25,314.59 L293.5,314.52 L293.75,314.46 L294,314.4 L294.25,314.34 L294.5,314.28 L294.75,314.22 L295,314.16 L295.25,314.1 L295.5,314.04 L295.75,313.98 L296,313.92 L296.25,313.86 L296.5,313.81 L296.75,313.75 L297,313.7 L297.25,313.64 L297.5,313.59 L297.75,313.53 L298,313.48 L298.25,313.42 L298.5,313.37 L298.75,313.32 L299,313.27 L299.25,313.22 L299.5,313.16 L299.75,313.11 L300,313.06 L300.25,313.01 L300.5,312.96 L300.75,312.92 L301,312.87 L301.25,312.82 L301.5,312.77 L301.75,312.72 L302,312.68 L302.25,312.63 L302.5,312.58 L302.75,312.54 L303,312.49 L303.25,312.44 L303.5,312.4 L303.75,312.35 L304,312.31 L304.25,312.27 L304.5,312.22 L304.75,312.18 L305,312.14 L305.25,312.09 L305.5,312.05 L305.75,312.01 L306,311.97 L306.25,311.92 L306.5,311.88 L306.75,311.84 L307,311.8 L307.25,311.76 L307.5,311.72 L307.75,311.68 L308,311.64 L308.25,311.6 L308.5,311.56 L308.75,311.52 L309,311.48 L309.25,311.44 L309.5,311.41 L309.75,311.37 L310,311.33 L310.25,311.29 L310.5,311.25 L310.75,311.22 L311,311.18 L311.25,311.14 L311.5,311.11 L311.75,311.07 L312,311.04 L312.25,311 L312.5,310.97 L312.75,310.93 L313,310.9 L313.25,310.86 L313.5,310.83 L313.75,310.79 L314,310.76 L314.25,310.73 L314.5,310.69 L314.75,310.66 L315,310.63 L315.25,310.59 L315.5,310.56 L315.75,310.53 L316,310.5 L316.25,310.46 L316.5,310.43 L316.75,310.4 L317,310.37 L317.25,310.34 L317.5,310.31 L317.75,310.28 L318,310.25 L318.25,310.22 L318.5,310.19 L318.75,310.16 L319,310.13 L319.25,310.1 L319.5,310.07 L319.75,310.04 L320,310.01 L320.25,309.98 L320.5,309.95 L320.75,309.92 L321,309.89 L321.25,309.86 L321.5,309.84 L321.75,309.81 L322,309.78 L322.25,309.75 L322.5,309.72 L322.75,309.7 L323,309.67 L323.25,309.64 L323.5,309.61 L323.75,309.59 L324,309.56 L324.25,309.53 L324.5,309.51 L324.75,309.48 L325,309.45 L325.25,309.43 L325.5,309.4 L325.75,309.37 L326,309.35 L326.25,309.32 L326.5,309.3 L326.75,309.27 L327,309.25 L327.25,309.22 L327.5,309.2 L327.75,309.18 L328,309.15 L328.25,309.13 L328.5,309.11 L328.75,309.08 L329,309.06 L329.25,309.04 L329.5,309.02 L329.75,308.99 L330,308.97 L330.25,308.95 L330.5,308.93 L330.75,308.91 L331,308.89 L331.25,308.87 L331.5,308.84 L331.75,308.82 L332,308.8 L332.25,308.78 L332.5,308.76 L332.75,308.74 L333,308.72 L333.25,308.7 L333.5,308.68 L333.75,308.66 L334,308.64 L334.25,308.61 L334.5,308.59 L334.75,308.57 L335,308.55 L335.25,308.53 L335.5,308.51 L335.75,308.49 L336,308.47 L336.25,308.44 L336.5,308.42 L336.75,308.4 L337,308.38 L337.25,308.36 L337.5,308.34 L337.75,308.31 L338,308.29 L338.25,308.27 L338.5,308.24 L338.75,308.22 L339,308.2 L339.25,308.17 L339.5,308.15 L339.75,308.12 L340,308.1 L340.25,308.08 L340.5,308.05 L340.75,308.02 L341,308 L341.25,307.97 L341.5,307.95 L341.75,307.92 L342,307.89 L342.25,307.87 L342.5,307.84 L342.75,307.81 L343,307.79 L343.25,307.76 L343.5,307.73 L343.75,307.7 L344,307.68 L344.25,307.65 L344.5,307.62 L344.75,307.59 L345,307.56 L345.25,307.53 L345.5,307.51 L345.75,307.48 L346,307.45 L346.25,307.42 L346.5,307.39 L346.75,307.36 L347,307.33 L347.25,307.31 L347.5,307.28 L347.75,307.25 L348,307.22 L348.25,307.19 L348.5,307.16 L348.75,307.13 L349,307.1 L349.25,307.07 L349.5,307.05 L349.75,307.02 L350,306.99 L350.25,306.96 L350.5,306.93 L350.75,306.9 L351,306.88 L351.25,306.85 L351.5,306.82 L351.75,306.79 L352,306.76 L352.25,306.74 L352.5,306.71 L352.75,306.68 L353,306.65 L353.25,306.63 L353.5,306.6 L353.75,306.57 L354,306.55 L354.25,306.52 L354.5,306.49 L354.75,306.47 L355,306.44 L355.25,306.41 L355.5,306.39 L355.75,306.36 L356,306.33 L356.25,306.31 L356.5,306.28 L356.75,306.25 L357,306.23 L357.25,306.2 L357.5,306.18 L357.75,306.15 L358,306.12 L358.25,306.1 L358.5,306.07 L358.75,306.04 L359,306.02 L359.25,305.99 L359.5,305.97 L359.75,305.94 L360,305.91 L360.25,305.89 L360.5,305.86 L360.75,305.84 L361,305.81 L361.25,305.78 L361.5,305.76 L361.75,305.73 L362,305.71 L362.25,305.68 L362.5,305.66 L362.75,305.63 L363,305.6 L363.25,305.58 L363.5,305.55 L363.75,305.53 L364,305.5 L364.25,305.48 L364.5,305.45 L364.75,305.42 L365,305.4 L365.25,305.37 L365.5,305.35 L365.75,305.32 L366,305.3 L366.25,305.27 L366.5,305.25 L366.75,305.22 L367,305.2 L367.25,305.17 L367.5,305.15 L367.75,305.12 L368,305.1 L368.25,305.07 L368.5,305.05 L368.75,305.02 L369,305 L369.25,304.97 L369.5,304.95 L369.75,304.92 L370,304.9 L370.25,304.87 L370.5,304.85 L370.75,304.82 L371,304.8 L372.9,308.5 L374.2,334.3 L376.6,347.2 L381.2,346.3 L383.4,324.2 L383.65,323.57 L383.9,322.94 L384.15,322.31 L384.4,321.68 L384.65,321.06 L384.9,320.43 L385.15,319.8 L385.4,319.17 L385.65,318.54 L385.9,317.91 L386.15,317.28 L386.4,316.65 L386.65,316.03 L386.9,315.39 L387.15,314.74 L387.4,314.07 L387.65,313.39 L387.9,312.7 L388.15,312.02 L388.4,311.34 L388.65,310.66 L388.9,310.01 L389.15,309.36 L389.4,308.75 L389.65,308.16 L389.9,307.6 L390.15,307.08 L390.4,306.6 L390.65,306.12 L390.9,305.61 L391.15,305.12 L391.4,304.67 L391.65,304.29 L391.9,304.02 L392.15,303.9 L392.4,303.9 L392.65,303.91 L392.9,303.91 L393.15,303.93 L393.4,303.94 L393.65,303.96 L393.9,303.98 L394.15,304 L394.4,304.02 L394.65,304.05 L394.9,304.07 L395.15,304.1 L395.4,304.13 L395.65,304.16 L395.9,304.19 L396.15,304.23 L396.4,304.26 L396.65,304.29 L396.9,304.32 L397.15,304.35 L397.4,304.38 L397.65,304.41 L397.9,304.44 L398.15,304.47 L398.4,304.49 L398.65,304.51 L398.9,304.54 L399.15,304.56 L399.4,304.57 L399.65,304.59 L399.9,304.6 L400.15,304.6 L400.4,304.61 L400.65,304.62 L400.9,304.63 L401.15,304.64 L401.4,304.64 L401.65,304.65 L401.9,304.66 L402.15,304.66 L402.4,304.67 L402.65,304.68 L402.9,304.69 L403.15,304.69 L403.4,304.7 L403.65,304.7 L403.9,304.71 L404.15,304.72 L404.4,304.72 L404.65,304.73 L404.9,304.73 L405.15,304.74 L405.4,304.74 L405.65,304.75 L405.9,304.75 L406.15,304.76 L406.4,304.76 L406.65,304.77 L406.9,304.77 L407.15,304.77 L407.4,304.78 L407.65,304.78 L407.9,304.78 L408.15,304.79 L408.4,304.79 L408.65,304.79 L408.9,304.79 L409.15,304.79 L409.4,304.8 L409.65,304.8 L409.9,304.8 L410.15,304.8 L410.4,304.8 L410.65,304.8 L412,339 L420.9,345.5 L422.7,328.8 L422.95,328.34 L423.2,327.89 L423.45,327.46 L423.7,327.04 L423.95,326.63 L424.2,326.24 L424.45,325.87 L424.7,325.51 L424.95,325.18 L425.2,324.86 L425.45,324.56 L425.7,324.29 L425.95,324.07 L426.2,323.87 L426.45,323.7 L426.7,323.53 L426.95,323.34 L427.2,323.14 L427.45,322.89 L427.7,322.59 L427.95,322.21 L428.2,321.45 L428.45,320.27 L428.7,318.8 L428.95,317.17 L429.2,315.51 L429.45,313.95 L429.7,312.62 L429.95,311.65 L430.2,311.13 L430.45,310.72 L430.7,310.34 L430.95,309.98 L431.2,309.65 L431.45,309.36 L431.7,309.1 L431.95,308.88 L432.2,308.71 L432.45,308.59 L432.7,308.52 L432.95,308.5 L433.2,308.5 L433.45,308.51 L433.7,308.52 L433.95,308.53 L434.2,308.55 L434.45,308.57 L434.7,308.59 L434.95,308.62 L435.2,308.65 L435.45,308.68 L435.7,308.71 L435.95,308.74 L436.2,308.77 L436.45,308.81 L436.7,308.85 L436.95,308.88 L437.2,308.92 L437.45,308.96 L437.7,309 L437.95,309.03 L438.2,309.07 L438.45,309.11 L438.7,309.14 L438.95,309.18 L439.2,309.21 L439.45,309.24 L439.7,309.27 L439.95,309.3 L440.2,309.32 L440.45,309.35 L440.7,309.37 L440.95,309.39 L441.2,309.4 L441.45,309.41 L441.7,309.43 L441.95,309.44 L442.2,309.45 L442.45,309.46 L442.7,309.47 L442.95,309.49 L443.2,309.5 L443.45,309.51 L443.7,309.52 L443.95,309.53 L444.2,309.55 L444.45,309.56 L444.7,309.57 L444.95,309.58 L445.2,309.59 L445.45,309.6 L445.7,309.61 L445.95,309.62 L446.2,309.63 L446.45,309.65 L446.7,309.66 L446.95,309.67 L447.2,309.68 L447.45,309.69 L447.7,309.7 L447.95,309.71 L448.2,309.72 L448.45,309.73 L448.7,309.74 L448.95,309.75 L449.2,309.75 L449.45,309.76 L449.7,309.77 L449.95,309.78 L450.2,309.79 L450.45,309.8 L450.7,309.81 L450.95,309.82 L451.2,309.82 L451.45,309.83 L451.7,309.84 L451.95,309.85 L452.2,309.85 L452.45,309.86 L452.7,309.87 L452.95,309.88 L453.2,309.88 L453.45,309.89 L453.7,309.9 L453.95,309.9 L454.2,309.91 L454.45,309.91 L454.7,309.92 L454.95,309.93 L455.2,309.93 L455.45,309.94 L455.7,309.94 L455.95,309.95 L456.2,309.95 L456.45,309.95 L456.7,309.96 L456.95,309.96 L457.2,309.97 L457.45,309.97 L457.7,309.97 L457.95,309.98 L458.2,309.98 L458.45,309.98 L458.7,309.99 L458.95,309.99 L459.2,309.99 L459.45,309.99 L459.7,309.99 L459.95,310 L460.2,310 L460.45,310 L460.7,310 L460.95,310 L461.2,310 L461.45,310" fill="none" stroke="#333" stroke-width="0.7"/>
<circle cx="230.5" cy="334.8" r="1.2" fill="none" stroke="#222" stroke-width="0.6"/>
<circle cx="232.8" cy="336.12" r="1.2" fill="none" stroke="#222" stroke-width="0.6"/>
<circle cx="235.1" cy="337.07" r="1.2" fill="none" stroke="#222" stroke-width="0.6"/>
<circle cx="237.4" cy="337.56" r="1.2" fill="none" stroke="#222" stroke-width="0.6"/>
<circle cx="239.7" cy="337.5" r="1.2" fill="none" stroke="#222" stroke-width="0.6"/>
<circle cx="242" cy="336.99" r="1.2" fill="none" stroke="#222" stroke-width="0.6"/>
<circle cx="244.3" cy="336.14" r="1.2" fill="none" stroke="#222" stroke-width="0.6"/>
<circle cx="246.6" cy="335.11" r="1.2" fill="none" stroke="#222" stroke-width="0.6"/>
<circle cx="248.9" cy="334.01" r="1.2" fill="none" stroke="#222" stroke-width="0.6"/>
<circle cx="251.2" cy="332.9" r="1.2" fill="none" stroke="#222" stroke-width="0.6"/>
<circle cx="253.5" cy="331.49" r="1.2" fill="none" stroke="#222" stroke-width="0.6"/>
<circle cx="255.8" cy="329.89" r="1.2" fill="none" stroke="#222" stroke-width="0.6"/>
<circle cx="258.1" cy="328.29" r="1.2" fill="none" stroke="#222" stroke-width="0.6"/>
<circle cx="260.4" cy="326.86" r="1.2" fill="none" stroke="#222" stroke-width="0.6"/>
<circle cx="262.7" cy="325.76" r="1.2" fill="none" stroke="#222" stroke-width="0.6"/>
<circle cx="265" cy="324.86" r="1.2" fill="none" stroke="#222" stroke-width="0.6"/>
<circle cx="267.3" cy="324.06" r="1.2" fill="none" stroke="#222" stroke-width="0.6"/>
<circle cx="269.6" cy="323.33" r="1.2" fill="none" stroke="#222" stroke-width="0.6"/>
<circle cx="271.9" cy="322.61" r="1.2" fill="none" stroke="#222" stroke-width="0.6"/>
<circle cx="274.2" cy="321.87" r="1.2" fill="none" stroke="#222" stroke-width="0.6"/>
<circle cx="276.5" cy="321.07" r="1.2" fill="none" stroke="#222" stroke-width="0.6"/>
<circle cx="278.8" cy="320.13" r="1.2" fill="none" stroke="#222" stroke-width="0.6"/>
<circle cx="281.1" cy="319.07" r="1.2" fill="none" stroke="#222" stroke-width="0.6"/>
<circle cx="283.4" cy="317.97" r="1.2" fill="none" stroke="#222" stroke-width="0.6"/>
<circle cx="285.7" cy="316.93" r="1.2" fill="none" stroke="#222" stroke-width="0.6"/>
<circle cx="288" cy="316.06" r="1.2" fill="none" stroke="#222" stroke-width="0.6"/>
<circle cx="290.3" cy="315.38" r="1.2" fill="none" stroke="#222" stroke-width="0.6"/>
<circle cx="292.6" cy="314.75" r="1.2" fill="none" stroke="#222" stroke-width="0.6"/>
<circle cx="294.9" cy="314.18" r="1.2" fill="none" stroke="#222" stroke-width="0.6"/>
<circle cx="297.2" cy="313.65" r="1.2" fill="none" stroke="#222" stroke-width="0.6"/>
<circle cx="299.5" cy="313.16" r="1.2" fill="none" stroke="#222" stroke-width="0.6"/>
<circle cx="301.8" cy="312.71" r="1.2" fill="none" stroke="#222" stroke-width="0.6"/>
<circle cx="304.1" cy="312.29" r="1.2" fill="none" stroke="#222" stroke-width="0.6"/>
<circle cx="306.4" cy="311.9" r="1.2" fill="none" stroke="#222" stroke-width="0.6"/>
<circle cx="308.7" cy="311.53" r="1.2" fill="none" stroke="#222" stroke-width="0.6"/>
<circle cx="311" cy="311.18" r="1.2" fill="none" stroke="#222" stroke-width="0.6"/>
<circle cx="313.3" cy="310.86" r="1.2" fill="none" stroke="#222" stroke-width="0.6"/>
<circle cx="315.6" cy="310.55" r="1.2" fill="none" stroke="#222" stroke-width="0.6"/>
<circle cx="317.9" cy="310.26" r="1.2" fill="none" stroke="#222" stroke-width="0.6"/>
<circle cx="320.2" cy="309.98" r="1.2" fill="none" stroke="#222" stroke-width="0.6"/>
<circle cx="322.5" cy="309.72" r="1.2" fill="none" stroke="#222" stroke-width="0.6"/>
<circle cx="324.8" cy="309.47" r="1.2" fill="none" stroke="#222" stroke-width="0.6"/>
<circle cx="327.1" cy="309.24" r="1.2" fill="none" stroke="#222" stroke-width="0.6"/>
<circle cx="329.4" cy="309.03" r="1.2" fill="none" stroke="#222" stroke-width="0.6"/>
<circle cx="331.7" cy="308.83" r="1.2" fill="none" stroke="#222" stroke-width="0.6"/>
<circle cx="334" cy="308.64" r="1.2" fill="none" stroke="#222" stroke-width="0.6"/>
<circle cx="336.3" cy="308.44" r="1.2" fill="none" stroke="#222" stroke-width="0.6"/>
<circle cx="338.6" cy="308.23" r="1.2" fill="none" stroke="#222" stroke-width="0.6"/>
<circle cx="340.9" cy="308.01" r="1.2" fill="none" stroke="#222" stroke-width="0.6"/>
<circle cx="343.2" cy="307.76" r="1.2" fill="none" stroke="#222" stroke-width="0.6"/>
<circle cx="345.5" cy="307.51" r="1.2" fill="none" stroke="#222" stroke-width="0.6"/>
<circle cx="347.8" cy="307.24" r="1.2" fill="none" stroke="#222" stroke-width="0.6"/>
<circle cx="350.1" cy="306.98" r="1.2" fill="none" stroke="#222" stroke-width="0.6"/>
<circle cx="352.4" cy="306.72" r="1.2" fill="none" stroke="#222" stroke-width="0.6"/>
<circle cx="354.7" cy="306.47" r="1.2" fill="none" stroke="#222" stroke-width="0.6"/>
<circle cx="357" cy="306.23" r="1.2" fill="none" stroke="#222" stroke-width="0.6"/>
<circle cx="359.3" cy="305.99" r="1.2" fill="none" stroke="#222" stroke-width="0.6"/>
<circle cx="361.6" cy="305.75" r="1.2" fill="none" stroke="#222" stroke-width="0.6"/>
<circle cx="363.9" cy="305.51" r="1.2" fill="none" stroke="#222" stroke-width="0.6"/>
<circle cx="366.2" cy="305.28" r="1.2" fill="none" stroke="#222" stroke-width="0.6"/>
<circle cx="368.5" cy="305.05" r="1.2" fill="none" stroke="#222" stroke-width="0.6"/>
<circle cx="370.8" cy="304.82" r="1.2" fill="none" stroke="#222" stroke-width="0.6"/>
<circle cx="372.9" cy="308.5" r="1.2" fill="none" stroke="#222" stroke-width="0.6"/>
<circle cx="374.2" cy="334.3" r="1.2" fill="none" stroke="#222" stroke-width="0.6"/>
<circle cx="376.6" cy="347.2" r="1.2" fill="none" stroke="#222" stroke-width="0.6"/>
<circle cx="378.9" cy="346.75" r="1.2" fill="none" stroke="#222" stroke-width="0.6"/>
<circle cx="381.2" cy="346.3" r="1.2" fill="none" stroke="#222" stroke-width="0.6"/>
<circle cx="383.4" cy="324.2" r="1.2" fill="none" stroke="#222" stroke-width="0.6"/>
<circle cx="385.7" cy="318.41" r="1.2" fill="none" stroke="#222" stroke-width="0.6"/>
<circle cx="388" cy="312.43" r="1.2" fill="none" stroke="#222" stroke-width="0.6"/>
<circle cx="390.3" cy="306.79" r="1.2" fill="none" stroke="#222" stroke-width="0.6"/>
<circle cx="392.6" cy="303.9" r="1.2" fill="none" stroke="#222" stroke-width="0.6"/>
<circle cx="394.9" cy="304.07" r="1.2" fill="none" stroke="#222" stroke-width="0.6"/>
<circle cx="397.2" cy="304.36" r="1.2" fill="none" stroke="#222" stroke-width="0.6"/>
<circle cx="399.5" cy="304.58" r="1.2" fill="none" stroke="#222" stroke-width="0.6"/>
<circle cx="401.8" cy="304.65" r="1.2" fill="none" stroke="#222" stroke-width="0.6"/>
<circle cx="404.1" cy="304.72" r="1.2" fill="none" stroke="#222" stroke-width="0.6"/>
<circle cx="406.4" cy="304.76" r="1.2" fill="none" stroke="#222" stroke-width="0.6"/>
<circle cx="408.7" cy="304.79" r="1.2" fill="none" stroke="#222" stroke-width="0.6"/>
<circle cx="412" cy="339" r="1.2" fill="none" stroke="#222" stroke-width="0.6"/>
<circle cx="414.3" cy="340.68" r="1.2" fill="none" stroke="#222" stroke-width="0.6"/>
<circle cx="416.6" cy="342.36" r="1.2" fill="none" stroke="#222" stroke-width="0.6"/>
<circle cx="418.9" cy="344.04" r="1.2" fill="none" stroke="#222" stroke-width="0.6"/>
<circle cx="422.7" cy="328.8" r="1.2" fill="none" stroke="#222" stroke-width="0.6"/>
<circle cx="425" cy="325.11" r="1.2" fill="none" stroke="#222" stroke-width="0.6"/>
<circle cx="427.3" cy="323.04" r="1.2" fill="none" stroke="#222" stroke-width="0.6"/>
<circle cx="429.6" cy="313.16" r="1.2" fill="none" stroke="#222" stroke-width="0.6"/>
<circle cx="431.9" cy="308.93" r="1.2" fill="none" stroke="#222" stroke-width="0.6"/>
<circle cx="434.2" cy="308.55" r="1.2" fill="none" stroke="#222" stroke-width="0.6"/>
<circle cx="436.5" cy="308.82" r="1.2" fill="none" stroke="#222" stroke-width="0.6"/>
<circle cx="438.8" cy="309.16" r="1.2" fill="none" stroke="#222" stroke-width="0.6"/>
<circle cx="441.1" cy="309.39" r="1.2" fill="none" stroke="#222" stroke-width="0.6"/>
<circle cx="443.4" cy="309.51" r="1.2" fill="none" stroke="#222" stroke-width="0.6"/>
<circle cx="445.7" cy="309.61" r="1.2" fill="none" stroke="#222" stroke-width="0.6"/>
<circle cx="448" cy="309.71" r="1.2" fill="none" stroke="#222" stroke-width="0.6"/>
<circle cx="450.3" cy="309.79" r="1.2" fill="none" stroke="#222" stroke-width="0.6"/>
<circle cx="452.6" cy="309.87" r="1.2" fill="none" stroke="#222" stroke-width="0.6"/>
<circle cx="454.9" cy="309.92" r="1.2" fill="none" stroke="#222" stroke-width="0.6"/>
<circle cx="457.2" cy="309.97" r="1.2" fill="none" stroke="#222" stroke-width="0.6"/>
<circle cx="459.5" cy="309.99" r="1.2" fill="none" stroke="#222" stroke-width="0.6"/>
<rect x="230.5" y="233.2" width="232.0" height="122.9" fill="none" stroke="#222" stroke-width="1"/>
<line x1="230.5" y1="292.4" x2="462.5" y2="292.4" stroke="#222" stroke-width="1"/>
<line x1="230.5" y1="292.4" x2="230.5" y2="356.1" stroke="#2f9148" stroke-width="1.2"/>
<line x1="230.5" y1="267.9" x2="232.5" y2="267.9" stroke="#222" stroke-width="1"/>
<line x1="230.5" y1="243.3" x2="232.5" y2="243.3" stroke="#222" stroke-width="1"/>
<line x1="230.5" y1="333.5" x2="232.5" y2="333.5" stroke="#2f9148" stroke-width="1"/>
<line x1="230.5" y1="310.9" x2="232.5" y2="310.9" stroke="#2f9148" stroke-width="1"/>
<line x1="462.5" y1="331.35" x2="460.5" y2="331.35" stroke="#222" stroke-width="1"/>
<line x1="462.5" y1="306.6" x2="460.5" y2="306.6" stroke="#222" stroke-width="1"/>
<line x1="270.4" y1="356.1" x2="270.4" y2="354.1" stroke="#222" stroke-width="1"/>
<line x1="310.4" y1="356.1" x2="310.4" y2="354.1" stroke="#222" stroke-width="1"/>
<line x1="350.4" y1="356.1" x2="350.4" y2="354.1" stroke="#222" stroke-width="1"/>
<line x1="390.4" y1="356.1" x2="390.4" y2="354.1" stroke="#222" stroke-width="1"/>
<line x1="430.4" y1="356.1" x2="430.4" y2="354.1" stroke="#222" stroke-width="1"/>
<text x="225.5" y="246.4" font-size="8.7" text-anchor="end" font-weight="normal" font-style="normal" fill="#1a1a1a">100</text>
<text x="225.5" y="271" font-size="8.7" text-anchor="end" font-weight="normal" font-style="normal" fill="#1a1a1a">50</text>
<text x="225.5" y="295.6" font-size="8.7" text-anchor="end" font-weight="normal" font-style="normal" fill="#1a1a1a">0</text>
<text x="225.5" y="312.9" font-size="8.7" text-anchor="end" font-weight="normal" font-style="normal" fill="#2f9148">10</text>
<text x="225.5" y="335.9" font-size="8.7" text-anchor="end" font-weight="normal" font-style="normal" fill="#2f9148">5</text>
<text x="225.5" y="358.3" font-size="8.7" text-anchor="end" font-weight="normal" font-style="normal" fill="#2f9148">0</text>
<text x="464.2" y="309.7" font-size="8.7" text-anchor="start" font-weight="normal" font-style="normal" fill="#1a1a1a">20</text>
<text x="464.2" y="334.45" font-size="8.7" text-anchor="start" font-weight="normal" font-style="normal" fill="#1a1a1a">10</text>
<text x="464.2" y="359.2" font-size="8.7" text-anchor="start" font-weight="normal" font-style="normal" fill="#1a1a1a">0</text>
<text x="227.8" y="365.9" font-size="8.7" text-anchor="middle" font-weight="normal" font-style="normal" fill="#1a1a1a">0</text>
<text x="311.9" y="365.9" font-size="8.7" text-anchor="middle" font-weight="normal" font-style="normal" fill="#1a1a1a">2000</text>
<text x="390.4" y="365.9" font-size="8.7" text-anchor="middle" font-weight="normal" font-style="normal" fill="#1a1a1a">4000</text>
<text x="343.1" y="376.3" font-size="8.9" text-anchor="middle" font-weight="normal" font-style="normal" fill="#1a1a1a">Time (s)</text>
<text x="207.5" y="259.1" font-size="8.9" text-anchor="middle" font-weight="normal" font-style="normal" fill="#1a1a1a" transform="rotate(-90 207.5 259.1)"><tspan font-style="italic">J</tspan><tspan font-size="5.8" dy="1.8">3V</tspan><tspan dy="-1.8"> (mA cm</tspan><tspan font-size="5.8" dy="-3">-2</tspan><tspan dy="3">)</tspan></text>
<text x="208.8" y="324.6" font-size="8.9" text-anchor="middle" font-weight="normal" font-style="normal" fill="#2f9148" transform="rotate(-90 208.8 324.6)"><tspan font-style="italic">L</tspan><tspan font-size="5.8" dy="1.8">3V</tspan><tspan dy="-1.8"> (×10</tspan><tspan font-size="5.8" dy="-3">4</tspan><tspan dy="3"> cd m</tspan><tspan font-size="5.8" dy="-3">-2</tspan><tspan dy="3">)</tspan></text>
<text x="484.3" y="323.6" font-size="8.9" text-anchor="middle" font-weight="normal" font-style="normal" fill="#1a1a1a" transform="rotate(-90 484.3 323.6)">EQE<tspan font-size="5.8" dy="1.8">3V</tspan><tspan dy="-1.8"> (%)</tspan></text>
<text x="237.5" y="245.9" font-size="12.5" text-anchor="start" font-weight="bold" font-style="normal" fill="#000">f</text>
<text x="237.2" y="309.5" font-size="12.5" text-anchor="start" font-weight="bold" font-style="normal" fill="#000">g</text>
<text x="282.3" y="309.3" font-size="9.8" text-anchor="start" font-weight="normal" font-style="normal" fill="#1a1a1a" transform="rotate(-9 282.3 309.3)">EQE<tspan font-size="6.6" dy="2">3V</tspan></text>
<text x="295.3" y="345" font-size="9.6" text-anchor="start" font-weight="normal" font-style="normal" fill="#2f9148" transform="rotate(-5 295.3 345)">L<tspan font-size="6.6" dy="2">3V</tspan></text>
<line x1="376.5" y1="252.8" x2="374.81" y2="256.51" stroke="#e8231f" stroke-width="1.3"/>
<path d="M373.4,259.6 L372.99,255.68 L376.63,257.34 Z" fill="#e8231f"/>
<line x1="377" y1="300.8" x2="375.4" y2="303.8" stroke="#e8231f" stroke-width="1.3"/>
<path d="M373.8,306.8 L373.64,302.86 L377.16,304.74 Z" fill="#e8231f"/>
<line x1="365.8" y1="322" x2="368.75" y2="324.84" stroke="#e8231f" stroke-width="1.3"/>
<path d="M371.2,327.2 L367.36,326.28 L370.14,323.4 Z" fill="#e8231f"/>
<text x="491.4" y="209.6" font-size="13.2" text-anchor="start" font-weight="bold" font-style="normal" fill="#000">h</text>
<defs><clipPath id="cliph"><rect x="521.2" y="212.9" width="160.1" height="142.9"/></clipPath></defs>
<g clip-path="url(#cliph)">
<path d="M520,367.87 L521.26,366.98 L522.51,365.95 L523.77,364.78 L525.02,363.52 L526.28,362.17 L527.53,360.77 L528.79,359.32 L530.05,357.85 L531.3,356.38 L532.56,354.94 L533.81,353.53 L535.07,352.19 L536.33,350.94 L537.58,349.79 L538.84,348.74 L540.09,347.75 L541.35,346.82 L542.6,345.93 L543.86,345.07 L545.12,344.24 L546.37,343.44 L547.63,342.64 L548.88,341.85 L550.14,341.05 L551.4,340.25 L552.65,339.46 L553.91,338.69 L555.16,337.94 L556.42,337.18 L557.67,336.42 L558.93,335.64 L560.19,334.85 L561.44,334.03 L562.7,333.2 L563.95,332.36 L565.21,331.51 L566.47,330.65 L567.72,329.79 L568.98,328.93 L570.23,328.08 L571.49,327.23 L572.74,326.39 L574,325.57 L575.26,324.76 L576.51,323.97 L577.77,323.2 L579.02,322.46 L580.28,321.74 L581.53,321.05 L582.79,320.38 L584.05,319.72 L585.3,319.07 L586.56,318.44 L587.81,317.82 L589.07,317.2 L590.33,316.6 L591.58,316 L592.84,315.4 L594.09,314.81 L595.35,314.21 L596.6,313.62 L597.86,313.03 L599.12,312.45 L600.37,311.88 L601.63,311.31 L602.88,310.74 L604.14,310.18 L605.4,309.62 L606.65,309.07 L607.91,308.51 L609.16,307.96 L610.42,307.41 L611.67,306.87 L612.93,306.35 L614.19,305.86 L615.44,305.4 L616.7,304.94 L617.95,304.46 L619.21,303.94 L620.47,303.38 L621.72,302.75 L622.98,302.03 L624.23,301.19 L625.49,300.2 L626.74,299.09 L628,297.86 L629.26,296.53 L630.51,295.1 L631.77,293.55 L633.02,291.8 L634.28,289.84 L635.53,287.63 L636.79,285.14 L638.05,281.93 L639.3,277.79 L640.56,273.82 L641.81,270.89 L643.07,268.37 L644.33,266.05 L645.58,263.9 L646.84,261.91 L648.09,260.04 L649.35,258.26 L650.6,256.56 L651.86,254.9 L653.12,253.27 L654.37,251.65 L655.63,250.06 L656.88,248.52 L658.14,247.05 L659.4,245.67 L660.65,244.39 L661.91,243.22 L663.16,242.19 L664.42,241.29 L665.67,240.42 L666.93,239.56 L668.19,238.73 L669.44,237.93 L670.7,237.16 L671.95,236.43 L673.21,235.75 L674.47,235.13 L675.72,234.56 L676.98,234.06 L678.23,233.64 L679.49,233.29 L680.74,233.02 L682,232.84" fill="none" stroke="rgb(230,230,230)" stroke-width="1.4"/>
<path d="M520,367.84 L521.26,366.88 L522.51,365.78 L523.77,364.56 L525.02,363.25 L526.28,361.86 L527.53,360.42 L528.79,358.95 L530.05,357.47 L531.3,356.01 L532.56,354.58 L533.81,353.19 L535.07,351.88 L536.33,350.64 L537.58,349.51 L538.84,348.48 L540.09,347.51 L541.35,346.59 L542.6,345.71 L543.86,344.87 L545.12,344.06 L546.37,343.26 L547.63,342.48 L548.88,341.7 L550.14,340.92 L551.4,340.13 L552.65,339.36 L553.91,338.61 L555.16,337.87 L556.42,337.13 L557.67,336.39 L558.93,335.63 L560.19,334.85 L561.44,334.05 L562.7,333.24 L563.95,332.42 L565.21,331.59 L566.47,330.76 L567.72,329.92 L568.98,329.09 L570.23,328.26 L571.49,327.43 L572.74,326.62 L574,325.81 L575.26,325.02 L576.51,324.25 L577.77,323.5 L579.02,322.77 L580.28,322.07 L581.53,321.39 L582.79,320.73 L584.05,320.08 L585.3,319.44 L586.56,318.81 L587.81,318.2 L589.07,317.59 L590.33,316.99 L591.58,316.39 L592.84,315.8 L594.09,315.21 L595.35,314.62 L596.6,314.04 L597.86,313.45 L599.12,312.88 L600.37,312.31 L601.63,311.75 L602.88,311.19 L604.14,310.63 L605.4,310.08 L606.65,309.53 L607.91,308.99 L609.16,308.44 L610.42,307.9 L611.67,307.36 L612.93,306.84 L614.19,306.36 L615.44,305.9 L616.7,305.44 L617.95,304.96 L619.21,304.45 L620.47,303.89 L621.72,303.27 L622.98,302.56 L624.23,301.73 L625.49,300.76 L626.74,299.67 L628,298.47 L629.26,297.16 L630.51,295.76 L631.77,294.24 L633.02,292.53 L634.28,290.61 L635.53,288.44 L636.79,286.01 L638.05,282.86 L639.3,278.81 L640.56,274.9 L641.81,271.99 L643.07,269.48 L644.33,267.17 L645.58,265.03 L646.84,263.03 L648.09,261.15 L649.35,259.37 L650.6,257.65 L651.86,255.98 L653.12,254.33 L654.37,252.7 L655.63,251.1 L656.88,249.56 L658.14,248.07 L659.4,246.67 L660.65,245.38 L661.91,244.19 L663.16,243.15 L664.42,242.23 L665.67,241.34 L666.93,240.48 L668.19,239.64 L669.44,238.83 L670.7,238.06 L671.95,237.33 L673.21,236.64 L674.47,236.01 L675.72,235.44 L676.98,234.94 L678.23,234.5 L679.49,234.15 L680.74,233.88 L682,233.7" fill="none" stroke="rgb(229,229,229)" stroke-width="1.4"/>
<path d="M520,367.8 L521.26,366.78 L522.51,365.62 L523.77,364.34 L525.02,362.97 L526.28,361.54 L527.53,360.07 L528.79,358.57 L530.05,357.09 L531.3,355.63 L532.56,354.22 L533.81,352.85 L535.07,351.56 L536.33,350.35 L537.58,349.24 L538.84,348.22 L540.09,347.27 L541.35,346.36 L542.6,345.5 L543.86,344.67 L545.12,343.87 L546.37,343.09 L547.63,342.32 L548.88,341.55 L550.14,340.79 L551.4,340.02 L552.65,339.26 L553.91,338.53 L555.16,337.8 L556.42,337.08 L557.67,336.36 L558.93,335.61 L560.19,334.85 L561.44,334.08 L562.7,333.29 L563.95,332.49 L565.21,331.68 L566.47,330.87 L567.72,330.06 L568.98,329.25 L570.23,328.44 L571.49,327.63 L572.74,326.84 L574,326.06 L575.26,325.29 L576.51,324.53 L577.77,323.8 L579.02,323.09 L580.28,322.4 L581.53,321.74 L582.79,321.08 L584.05,320.44 L585.3,319.81 L586.56,319.19 L587.81,318.58 L589.07,317.97 L590.33,317.38 L591.58,316.78 L592.84,316.2 L594.09,315.61 L595.35,315.03 L596.6,314.45 L597.86,313.88 L599.12,313.31 L600.37,312.75 L601.63,312.19 L602.88,311.64 L604.14,311.09 L605.4,310.54 L606.65,310 L607.91,309.46 L609.16,308.92 L610.42,308.38 L611.67,307.85 L612.93,307.34 L614.19,306.86 L615.44,306.4 L616.7,305.94 L617.95,305.47 L619.21,304.96 L620.47,304.41 L621.72,303.79 L622.98,303.09 L624.23,302.27 L625.49,301.32 L626.74,300.25 L628,299.07 L629.26,297.79 L630.51,296.42 L631.77,294.93 L633.02,293.26 L634.28,291.38 L635.53,289.26 L636.79,286.88 L638.05,283.79 L639.3,279.82 L640.56,275.98 L641.81,273.09 L643.07,270.59 L644.33,268.29 L645.58,266.15 L646.84,264.15 L648.09,262.26 L649.35,260.47 L650.6,258.74 L651.86,257.05 L653.12,255.39 L654.37,253.75 L655.63,252.14 L656.88,250.59 L658.14,249.09 L659.4,247.68 L660.65,246.37 L661.91,245.17 L663.16,244.1 L664.42,243.17 L665.67,242.27 L666.93,241.4 L668.19,240.55 L669.44,239.74 L670.7,238.96 L671.95,238.22 L673.21,237.53 L674.47,236.89 L675.72,236.32 L676.98,235.81 L678.23,235.37 L679.49,235.01 L680.74,234.74 L682,234.56" fill="none" stroke="rgb(228,228,228)" stroke-width="1.4"/>
<path d="M520,367.77 L521.26,366.68 L522.51,365.45 L523.77,364.12 L525.02,362.7 L526.28,361.22 L527.53,359.72 L528.79,358.2 L530.05,356.71 L531.3,355.26 L532.56,353.86 L533.81,352.52 L535.07,351.24 L536.33,350.05 L537.58,348.96 L538.84,347.96 L540.09,347.02 L541.35,346.13 L542.6,345.28 L543.86,344.47 L545.12,343.68 L546.37,342.91 L547.63,342.16 L548.88,341.41 L550.14,340.66 L551.4,339.9 L552.65,339.16 L553.91,338.44 L555.16,337.74 L556.42,337.03 L557.67,336.32 L558.93,335.6 L560.19,334.86 L561.44,334.1 L562.7,333.33 L563.95,332.56 L565.21,331.77 L566.47,330.98 L567.72,330.19 L568.98,329.4 L570.23,328.62 L571.49,327.84 L572.74,327.06 L574,326.3 L575.26,325.55 L576.51,324.82 L577.77,324.1 L579.02,323.41 L580.28,322.74 L581.53,322.08 L582.79,321.44 L584.05,320.8 L585.3,320.18 L586.56,319.56 L587.81,318.96 L589.07,318.36 L590.33,317.76 L591.58,317.18 L592.84,316.59 L594.09,316.01 L595.35,315.44 L596.6,314.86 L597.86,314.3 L599.12,313.74 L600.37,313.18 L601.63,312.63 L602.88,312.08 L604.14,311.54 L605.4,311 L606.65,310.47 L607.91,309.93 L609.16,309.4 L610.42,308.87 L611.67,308.34 L612.93,307.83 L614.19,307.36 L615.44,306.9 L616.7,306.44 L617.95,305.97 L619.21,305.47 L620.47,304.92 L621.72,304.31 L622.98,303.62 L624.23,302.82 L625.49,301.88 L626.74,300.83 L628,299.67 L629.26,298.42 L630.51,297.08 L631.77,295.63 L633.02,293.99 L634.28,292.15 L635.53,290.07 L636.79,287.74 L638.05,284.73 L639.3,280.84 L640.56,277.06 L641.81,274.2 L643.07,271.71 L644.33,269.41 L645.58,267.28 L646.84,265.27 L648.09,263.38 L649.35,261.57 L650.6,259.82 L651.86,258.12 L653.12,256.45 L654.37,254.8 L655.63,253.19 L656.88,251.62 L658.14,250.11 L659.4,248.69 L660.65,247.36 L661.91,246.14 L663.16,245.06 L664.42,244.1 L665.67,243.19 L666.93,242.31 L668.19,241.46 L669.44,240.64 L670.7,239.86 L671.95,239.11 L673.21,238.42 L674.47,237.77 L675.72,237.19 L676.98,236.68 L678.23,236.24 L679.49,235.88 L680.74,235.6 L682,235.41" fill="none" stroke="rgb(227,227,227)" stroke-width="1.4"/>
<path d="M520,367.74 L521.26,366.58 L522.51,365.29 L523.77,363.9 L525.02,362.43 L526.28,360.91 L527.53,359.36 L528.79,357.83 L530.05,356.33 L531.3,354.88 L532.56,353.5 L533.81,352.18 L535.07,350.92 L536.33,349.76 L537.58,348.69 L538.84,347.7 L540.09,346.78 L541.35,345.9 L542.6,345.07 L543.86,344.27 L545.12,343.49 L546.37,342.74 L547.63,342 L548.88,341.26 L550.14,340.53 L551.4,339.78 L552.65,339.06 L553.91,338.36 L555.16,337.67 L556.42,336.98 L557.67,336.29 L558.93,335.58 L560.19,334.86 L561.44,334.13 L562.7,333.38 L563.95,332.62 L565.21,331.86 L566.47,331.1 L567.72,330.33 L568.98,329.56 L570.23,328.8 L571.49,328.04 L572.74,327.29 L574,326.54 L575.26,325.81 L576.51,325.1 L577.77,324.4 L579.02,323.72 L580.28,323.07 L581.53,322.42 L582.79,321.79 L584.05,321.16 L585.3,320.55 L586.56,319.94 L587.81,319.34 L589.07,318.74 L590.33,318.15 L591.58,317.57 L592.84,316.99 L594.09,316.42 L595.35,315.85 L596.6,315.28 L597.86,314.72 L599.12,314.16 L600.37,313.62 L601.63,313.07 L602.88,312.53 L604.14,312 L605.4,311.47 L606.65,310.94 L607.91,310.41 L609.16,309.88 L610.42,309.35 L611.67,308.83 L612.93,308.32 L614.19,307.85 L615.44,307.4 L616.7,306.94 L617.95,306.48 L619.21,305.98 L620.47,305.44 L621.72,304.83 L622.98,304.15 L624.23,303.36 L625.49,302.44 L626.74,301.41 L628,300.28 L629.26,299.05 L630.51,297.74 L631.77,296.32 L633.02,294.72 L634.28,292.92 L635.53,290.89 L636.79,288.61 L638.05,285.66 L639.3,281.85 L640.56,278.14 L641.81,275.3 L643.07,272.82 L644.33,270.53 L645.58,268.4 L646.84,266.39 L648.09,264.49 L649.35,262.67 L650.6,260.91 L651.86,259.2 L653.12,257.51 L654.37,255.85 L655.63,254.23 L656.88,252.65 L658.14,251.13 L659.4,249.69 L660.65,248.35 L661.91,247.11 L663.16,246.01 L664.42,245.04 L665.67,244.12 L666.93,243.23 L668.19,242.37 L669.44,241.55 L670.7,240.75 L671.95,240 L673.21,239.3 L674.47,238.66 L675.72,238.07 L676.98,237.55 L678.23,237.1 L679.49,236.74 L680.74,236.46 L682,236.27" fill="none" stroke="rgb(225,225,225)" stroke-width="1.4"/>
<path d="M520,367.7 L521.26,366.48 L522.51,365.13 L523.77,363.67 L525.02,362.15 L526.28,360.59 L527.53,359.01 L528.79,357.46 L530.05,355.94 L531.3,354.51 L532.56,353.14 L533.81,351.84 L535.07,350.61 L536.33,349.46 L537.58,348.41 L538.84,347.45 L540.09,346.54 L541.35,345.67 L542.6,344.85 L543.86,344.06 L545.12,343.3 L546.37,342.56 L547.63,341.84 L548.88,341.11 L550.14,340.39 L551.4,339.67 L552.65,338.96 L553.91,338.28 L555.16,337.6 L556.42,336.93 L557.67,336.26 L558.93,335.57 L560.19,334.87 L561.44,334.15 L562.7,333.42 L563.95,332.69 L565.21,331.95 L566.47,331.21 L567.72,330.46 L568.98,329.72 L570.23,328.98 L571.49,328.24 L572.74,327.51 L574,326.79 L575.26,326.08 L576.51,325.38 L577.77,324.7 L579.02,324.04 L580.28,323.4 L581.53,322.77 L582.79,322.14 L584.05,321.53 L585.3,320.92 L586.56,320.31 L587.81,319.72 L589.07,319.13 L590.33,318.54 L591.58,317.96 L592.84,317.39 L594.09,316.82 L595.35,316.25 L596.6,315.69 L597.86,315.14 L599.12,314.59 L600.37,314.05 L601.63,313.51 L602.88,312.98 L604.14,312.45 L605.4,311.93 L606.65,311.4 L607.91,310.88 L609.16,310.36 L610.42,309.84 L611.67,309.32 L612.93,308.82 L614.19,308.35 L615.44,307.9 L616.7,307.45 L617.95,306.98 L619.21,306.49 L620.47,305.95 L621.72,305.35 L622.98,304.68 L624.23,303.9 L625.49,303 L626.74,301.99 L628,300.88 L629.26,299.68 L630.51,298.4 L631.77,297.01 L633.02,295.45 L634.28,293.69 L635.53,291.7 L636.79,289.48 L638.05,286.59 L639.3,282.87 L640.56,279.22 L641.81,276.4 L643.07,273.93 L644.33,271.65 L645.58,269.53 L646.84,267.51 L648.09,265.6 L649.35,263.77 L650.6,262 L651.86,260.27 L653.12,258.57 L654.37,256.9 L655.63,255.27 L656.88,253.69 L658.14,252.15 L659.4,250.7 L660.65,249.34 L661.91,248.09 L663.16,246.97 L664.42,245.98 L665.67,245.04 L666.93,244.15 L668.19,243.28 L669.44,242.45 L670.7,241.65 L671.95,240.9 L673.21,240.19 L674.47,239.54 L675.72,238.95 L676.98,238.42 L678.23,237.97 L679.49,237.6 L680.74,237.32 L682,237.13" fill="none" stroke="rgb(223,223,223)" stroke-width="1.4"/>
<path d="M520,367.67 L521.26,366.38 L522.51,364.96 L523.77,363.45 L525.02,361.88 L526.28,360.27 L527.53,358.66 L528.79,357.08 L530.05,355.56 L531.3,354.13 L532.56,352.78 L533.81,351.5 L535.07,350.29 L536.33,349.17 L537.58,348.14 L538.84,347.19 L540.09,346.29 L541.35,345.45 L542.6,344.64 L543.86,343.86 L545.12,343.12 L546.37,342.39 L547.63,341.67 L548.88,340.97 L550.14,340.26 L551.4,339.55 L552.65,338.86 L553.91,338.19 L555.16,337.53 L556.42,336.88 L557.67,336.22 L558.93,335.55 L560.19,334.87 L561.44,334.17 L562.7,333.47 L563.95,332.76 L565.21,332.04 L566.47,331.32 L567.72,330.6 L568.98,329.87 L570.23,329.15 L571.49,328.44 L572.74,327.73 L574,327.03 L575.26,326.34 L576.51,325.67 L577.77,325 L579.02,324.36 L580.28,323.73 L581.53,323.11 L582.79,322.49 L584.05,321.89 L585.3,321.29 L586.56,320.69 L587.81,320.1 L589.07,319.51 L590.33,318.93 L591.58,318.36 L592.84,317.79 L594.09,317.22 L595.35,316.66 L596.6,316.11 L597.86,315.56 L599.12,315.02 L600.37,314.48 L601.63,313.96 L602.88,313.43 L604.14,312.91 L605.4,312.39 L606.65,311.87 L607.91,311.36 L609.16,310.84 L610.42,310.32 L611.67,309.81 L612.93,309.31 L614.19,308.85 L615.44,308.4 L616.7,307.95 L617.95,307.49 L619.21,307 L620.47,306.46 L621.72,305.87 L622.98,305.21 L624.23,304.45 L625.49,303.56 L626.74,302.57 L628,301.49 L629.26,300.31 L630.51,299.06 L631.77,297.7 L633.02,296.17 L634.28,294.45 L635.53,292.52 L636.79,290.34 L638.05,287.53 L639.3,283.88 L640.56,280.3 L641.81,277.51 L643.07,275.05 L644.33,272.78 L645.58,270.65 L646.84,268.64 L648.09,266.71 L649.35,264.87 L650.6,263.08 L651.86,261.34 L653.12,259.63 L654.37,257.95 L655.63,256.31 L656.88,254.72 L658.14,253.17 L659.4,251.7 L660.65,250.32 L661.91,249.06 L663.16,247.92 L664.42,246.91 L665.67,245.96 L666.93,245.06 L668.19,244.2 L669.44,243.36 L670.7,242.55 L671.95,241.79 L673.21,241.08 L674.47,240.42 L675.72,239.82 L676.98,239.29 L678.23,238.84 L679.49,238.46 L680.74,238.18 L682,237.99" fill="none" stroke="rgb(221,221,221)" stroke-width="1.4"/>
<path d="M520,367.63 L521.26,366.28 L522.51,364.8 L523.77,363.23 L525.02,361.61 L526.28,359.96 L527.53,358.31 L528.79,356.71 L530.05,355.18 L531.3,353.76 L532.56,352.42 L533.81,351.16 L535.07,349.97 L536.33,348.87 L537.58,347.86 L538.84,346.93 L540.09,346.05 L541.35,345.22 L542.6,344.42 L543.86,343.66 L545.12,342.93 L546.37,342.21 L547.63,341.51 L548.88,340.82 L550.14,340.13 L551.4,339.44 L552.65,338.76 L553.91,338.11 L555.16,337.47 L556.42,336.83 L557.67,336.19 L558.93,335.54 L560.19,334.87 L561.44,334.2 L562.7,333.51 L563.95,332.82 L565.21,332.13 L566.47,331.43 L567.72,330.73 L568.98,330.03 L570.23,329.33 L571.49,328.64 L572.74,327.96 L574,327.28 L575.26,326.61 L576.51,325.95 L577.77,325.3 L579.02,324.67 L580.28,324.06 L581.53,323.45 L582.79,322.85 L584.05,322.25 L585.3,321.65 L586.56,321.06 L587.81,320.48 L589.07,319.9 L590.33,319.32 L591.58,318.75 L592.84,318.18 L594.09,317.62 L595.35,317.07 L596.6,316.52 L597.86,315.98 L599.12,315.45 L600.37,314.92 L601.63,314.4 L602.88,313.88 L604.14,313.36 L605.4,312.85 L606.65,312.34 L607.91,311.83 L609.16,311.32 L610.42,310.81 L611.67,310.3 L612.93,309.81 L614.19,309.34 L615.44,308.9 L616.7,308.45 L617.95,307.99 L619.21,307.5 L620.47,306.98 L621.72,306.4 L622.98,305.74 L624.23,304.99 L625.49,304.12 L626.74,303.15 L628,302.09 L629.26,300.94 L630.51,299.72 L631.77,298.39 L633.02,296.9 L634.28,295.22 L635.53,293.33 L636.79,291.21 L638.05,288.46 L639.3,284.9 L640.56,281.38 L641.81,278.61 L643.07,276.16 L644.33,273.9 L645.58,271.78 L646.84,269.76 L648.09,267.83 L649.35,265.97 L650.6,264.17 L651.86,262.41 L653.12,260.69 L654.37,259 L655.63,257.36 L656.88,255.75 L658.14,254.19 L659.4,252.71 L660.65,251.31 L661.91,250.03 L663.16,248.88 L664.42,247.85 L665.67,246.89 L666.93,245.98 L668.19,245.11 L669.44,244.26 L670.7,243.45 L671.95,242.68 L673.21,241.96 L674.47,241.3 L675.72,240.7 L676.98,240.16 L678.23,239.7 L679.49,239.33 L680.74,239.04 L682,238.84" fill="none" stroke="rgb(218,218,218)" stroke-width="1.4"/>
<path d="M520,367.6 L521.26,366.17 L522.51,364.63 L523.77,363.01 L525.02,361.33 L526.28,359.64 L527.53,357.96 L528.79,356.34 L530.05,354.8 L531.3,353.38 L532.56,352.06 L533.81,350.82 L535.07,349.66 L536.33,348.58 L537.58,347.58 L538.84,346.67 L540.09,345.81 L541.35,344.99 L542.6,344.21 L543.86,343.46 L545.12,342.74 L546.37,342.04 L547.63,341.35 L548.88,340.68 L550.14,340 L551.4,339.32 L552.65,338.66 L553.91,338.03 L555.16,337.4 L556.42,336.78 L557.67,336.16 L558.93,335.53 L560.19,334.88 L561.44,334.22 L562.7,333.56 L563.95,332.89 L565.21,332.22 L566.47,331.54 L567.72,330.86 L568.98,330.19 L570.23,329.51 L571.49,328.84 L572.74,328.18 L574,327.52 L575.26,326.87 L576.51,326.23 L577.77,325.6 L579.02,324.99 L580.28,324.39 L581.53,323.79 L582.79,323.2 L584.05,322.61 L585.3,322.02 L586.56,321.44 L587.81,320.86 L589.07,320.28 L590.33,319.71 L591.58,319.14 L592.84,318.58 L594.09,318.03 L595.35,317.48 L596.6,316.94 L597.86,316.4 L599.12,315.88 L600.37,315.35 L601.63,314.84 L602.88,314.33 L604.14,313.82 L605.4,313.31 L606.65,312.81 L607.91,312.3 L609.16,311.8 L610.42,311.29 L611.67,310.79 L612.93,310.3 L614.19,309.84 L615.44,309.4 L616.7,308.95 L617.95,308.5 L619.21,308.01 L620.47,307.49 L621.72,306.92 L622.98,306.27 L624.23,305.53 L625.49,304.68 L626.74,303.74 L628,302.69 L629.26,301.58 L630.51,300.38 L631.77,299.08 L633.02,297.63 L634.28,295.99 L635.53,294.15 L636.79,292.08 L638.05,289.39 L639.3,285.91 L640.56,282.46 L641.81,279.72 L643.07,277.27 L644.33,275.02 L645.58,272.9 L646.84,270.88 L648.09,268.94 L649.35,267.07 L650.6,265.26 L651.86,263.49 L653.12,261.75 L654.37,260.05 L655.63,258.4 L656.88,256.78 L658.14,255.21 L659.4,253.72 L660.65,252.3 L661.91,251 L663.16,249.83 L664.42,248.79 L665.67,247.81 L666.93,246.9 L668.19,246.02 L669.44,245.17 L670.7,244.35 L671.95,243.58 L673.21,242.85 L674.47,242.18 L675.72,241.57 L676.98,241.03 L678.23,240.57 L679.49,240.19 L680.74,239.9 L682,239.7" fill="none" stroke="rgb(216,216,216)" stroke-width="1.4"/>
<path d="M520,367.56 L521.26,366.07 L522.51,364.47 L523.77,362.79 L525.02,361.06 L526.28,359.32 L527.53,357.61 L528.79,355.97 L530.05,354.42 L531.3,353.01 L532.56,351.71 L533.81,350.48 L535.07,349.34 L536.33,348.28 L537.58,347.31 L538.84,346.41 L540.09,345.56 L541.35,344.76 L542.6,343.99 L543.86,343.26 L545.12,342.55 L546.37,341.86 L547.63,341.19 L548.88,340.53 L550.14,339.87 L551.4,339.21 L552.65,338.56 L553.91,337.94 L555.16,337.33 L556.42,336.73 L557.67,336.13 L558.93,335.51 L560.19,334.88 L561.44,334.25 L562.7,333.6 L563.95,332.96 L565.21,332.31 L566.47,331.65 L567.72,331 L568.98,330.34 L570.23,329.69 L571.49,329.04 L572.74,328.4 L574,327.76 L575.26,327.13 L576.51,326.51 L577.77,325.9 L579.02,325.3 L580.28,324.72 L581.53,324.14 L582.79,323.55 L584.05,322.97 L585.3,322.39 L586.56,321.81 L587.81,321.24 L589.07,320.67 L590.33,320.1 L591.58,319.54 L592.84,318.98 L594.09,318.43 L595.35,317.89 L596.6,317.35 L597.86,316.82 L599.12,316.3 L600.37,315.79 L601.63,315.28 L602.88,314.77 L604.14,314.27 L605.4,313.77 L606.65,313.27 L607.91,312.78 L609.16,312.28 L610.42,311.78 L611.67,311.28 L612.93,310.79 L614.19,310.34 L615.44,309.9 L616.7,309.45 L617.95,309 L619.21,308.52 L620.47,308.01 L621.72,307.44 L622.98,306.8 L624.23,306.08 L625.49,305.24 L626.74,304.32 L628,303.3 L629.26,302.21 L630.51,301.04 L631.77,299.78 L633.02,298.36 L634.28,296.76 L635.53,294.97 L636.79,292.94 L638.05,290.33 L639.3,286.93 L640.56,283.54 L641.81,280.82 L643.07,278.39 L644.33,276.14 L645.58,274.03 L646.84,272 L648.09,270.05 L649.35,268.17 L650.6,266.34 L651.86,264.56 L653.12,262.81 L654.37,261.1 L655.63,259.44 L656.88,257.82 L658.14,256.24 L659.4,254.72 L660.65,253.29 L661.91,251.98 L663.16,250.78 L664.42,249.72 L665.67,248.73 L666.93,247.81 L668.19,246.93 L669.44,246.07 L670.7,245.25 L671.95,244.47 L673.21,243.74 L674.47,243.06 L675.72,242.45 L676.98,241.91 L678.23,241.44 L679.49,241.05 L680.74,240.76 L682,240.56" fill="none" stroke="rgb(212,212,212)" stroke-width="1.4"/>
<path d="M520,367.53 L521.26,365.97 L522.51,364.31 L523.77,362.56 L525.02,360.78 L526.28,359 L527.53,357.26 L528.79,355.6 L530.05,354.04 L531.3,352.63 L532.56,351.35 L533.81,350.14 L535.07,349.02 L536.33,347.99 L537.58,347.03 L538.84,346.15 L540.09,345.32 L541.35,344.53 L542.6,343.78 L543.86,343.06 L545.12,342.36 L546.37,341.69 L547.63,341.03 L548.88,340.38 L550.14,339.74 L551.4,339.09 L552.65,338.46 L553.91,337.86 L555.16,337.27 L556.42,336.68 L557.67,336.09 L558.93,335.5 L560.19,334.89 L561.44,334.27 L562.7,333.65 L563.95,333.02 L565.21,332.39 L566.47,331.76 L567.72,331.13 L568.98,330.5 L570.23,329.87 L571.49,329.25 L572.74,328.62 L574,328.01 L575.26,327.4 L576.51,326.8 L577.77,326.2 L579.02,325.62 L580.28,325.05 L581.53,324.48 L582.79,323.91 L584.05,323.34 L585.3,322.76 L586.56,322.19 L587.81,321.62 L589.07,321.05 L590.33,320.49 L591.58,319.93 L592.84,319.38 L594.09,318.83 L595.35,318.29 L596.6,317.77 L597.86,317.24 L599.12,316.73 L600.37,316.22 L601.63,315.72 L602.88,315.22 L604.14,314.73 L605.4,314.23 L606.65,313.74 L607.91,313.25 L609.16,312.76 L610.42,312.26 L611.67,311.77 L612.93,311.29 L614.19,310.84 L615.44,310.4 L616.7,309.96 L617.95,309.51 L619.21,309.03 L620.47,308.52 L621.72,307.96 L622.98,307.33 L624.23,306.62 L625.49,305.8 L626.74,304.9 L628,303.9 L629.26,302.84 L630.51,301.7 L631.77,300.47 L633.02,299.09 L634.28,297.53 L635.53,295.78 L636.79,293.81 L638.05,291.26 L639.3,287.94 L640.56,284.62 L641.81,281.92 L643.07,279.5 L644.33,277.26 L645.58,275.15 L646.84,273.12 L648.09,271.16 L649.35,269.27 L650.6,267.43 L651.86,265.63 L653.12,263.87 L654.37,262.15 L655.63,260.49 L656.88,258.85 L658.14,257.26 L659.4,255.73 L660.65,254.28 L661.91,252.95 L663.16,251.74 L664.42,250.66 L665.67,249.66 L666.93,248.73 L668.19,247.84 L669.44,246.98 L670.7,246.15 L671.95,245.36 L673.21,244.62 L674.47,243.94 L675.72,243.33 L676.98,242.78 L678.23,242.31 L679.49,241.92 L680.74,241.62 L682,241.42" fill="none" stroke="rgb(209,209,209)" stroke-width="1.4"/>
<path d="M520,367.49 L521.26,365.87 L522.51,364.14 L523.77,362.34 L525.02,360.51 L526.28,358.69 L527.53,356.91 L528.79,355.22 L530.05,353.66 L531.3,352.26 L532.56,350.99 L533.81,349.8 L535.07,348.71 L536.33,347.69 L537.58,346.76 L538.84,345.89 L540.09,345.08 L541.35,344.3 L542.6,343.56 L543.86,342.86 L545.12,342.18 L546.37,341.52 L547.63,340.87 L548.88,340.24 L550.14,339.6 L551.4,338.97 L552.65,338.36 L553.91,337.78 L555.16,337.2 L556.42,336.63 L557.67,336.06 L558.93,335.48 L560.19,334.89 L561.44,334.29 L562.7,333.69 L563.95,333.09 L565.21,332.48 L566.47,331.88 L567.72,331.27 L568.98,330.66 L570.23,330.05 L571.49,329.45 L572.74,328.85 L574,328.25 L575.26,327.66 L576.51,327.08 L577.77,326.5 L579.02,325.94 L580.28,325.38 L581.53,324.82 L582.79,324.26 L584.05,323.7 L585.3,323.13 L586.56,322.56 L587.81,322 L589.07,321.44 L590.33,320.88 L591.58,320.32 L592.84,319.78 L594.09,319.23 L595.35,318.7 L596.6,318.18 L597.86,317.67 L599.12,317.16 L600.37,316.66 L601.63,316.16 L602.88,315.67 L604.14,315.18 L605.4,314.7 L606.65,314.21 L607.91,313.72 L609.16,313.24 L610.42,312.75 L611.67,312.26 L612.93,311.78 L614.19,311.33 L615.44,310.9 L616.7,310.46 L617.95,310.01 L619.21,309.54 L620.47,309.03 L621.72,308.48 L622.98,307.87 L624.23,307.16 L625.49,306.36 L626.74,305.48 L628,304.51 L629.26,303.47 L630.51,302.36 L631.77,301.16 L633.02,299.81 L634.28,298.3 L635.53,296.6 L636.79,294.68 L638.05,292.19 L639.3,288.96 L640.56,285.7 L641.81,283.03 L643.07,280.61 L644.33,278.39 L645.58,276.28 L646.84,274.24 L648.09,272.28 L649.35,270.37 L650.6,268.52 L651.86,266.71 L653.12,264.93 L654.37,263.2 L655.63,261.53 L656.88,259.88 L658.14,258.28 L659.4,256.73 L660.65,255.27 L661.91,253.92 L663.16,252.69 L664.42,251.6 L665.67,250.58 L666.93,249.65 L668.19,248.75 L669.44,247.88 L670.7,247.05 L671.95,246.25 L673.21,245.51 L674.47,244.83 L675.72,244.2 L676.98,243.65 L678.23,243.17 L679.49,242.78 L680.74,242.48 L682,242.28" fill="none" stroke="rgb(205,205,205)" stroke-width="1.4"/>
<path d="M520,367.46 L521.26,365.77 L522.51,363.98 L523.77,362.12 L525.02,360.24 L526.28,358.37 L527.53,356.56 L528.79,354.85 L530.05,353.28 L531.3,351.88 L532.56,350.63 L533.81,349.47 L535.07,348.39 L536.33,347.4 L537.58,346.48 L538.84,345.63 L540.09,344.83 L541.35,344.07 L542.6,343.35 L543.86,342.66 L545.12,341.99 L546.37,341.34 L547.63,340.71 L548.88,340.09 L550.14,339.47 L551.4,338.86 L552.65,338.27 L553.91,337.69 L555.16,337.13 L556.42,336.58 L557.67,336.03 L558.93,335.47 L560.19,334.89 L561.44,334.32 L562.7,333.74 L563.95,333.16 L565.21,332.57 L566.47,331.99 L567.72,331.4 L568.98,330.82 L570.23,330.23 L571.49,329.65 L572.74,329.07 L574,328.5 L575.26,327.93 L576.51,327.36 L577.77,326.8 L579.02,326.25 L580.28,325.71 L581.53,325.17 L582.79,324.61 L584.05,324.06 L585.3,323.5 L586.56,322.94 L587.81,322.38 L589.07,321.82 L590.33,321.27 L591.58,320.72 L592.84,320.17 L594.09,319.64 L595.35,319.11 L596.6,318.59 L597.86,318.09 L599.12,317.59 L600.37,317.09 L601.63,316.6 L602.88,316.12 L604.14,315.64 L605.4,315.16 L606.65,314.68 L607.91,314.2 L609.16,313.72 L610.42,313.23 L611.67,312.75 L612.93,312.28 L614.19,311.83 L615.44,311.39 L616.7,310.96 L617.95,310.52 L619.21,310.05 L620.47,309.55 L621.72,309 L622.98,308.4 L624.23,307.71 L625.49,306.92 L626.74,306.06 L628,305.11 L629.26,304.1 L630.51,303.02 L631.77,301.85 L633.02,300.54 L634.28,299.07 L635.53,297.41 L636.79,295.54 L638.05,293.13 L639.3,289.97 L640.56,286.78 L641.81,284.13 L643.07,281.73 L644.33,279.51 L645.58,277.4 L646.84,275.36 L648.09,273.39 L649.35,271.47 L650.6,269.6 L651.86,267.78 L653.12,265.99 L654.37,264.25 L655.63,262.57 L656.88,260.91 L658.14,259.3 L659.4,257.74 L660.65,256.26 L661.91,254.89 L663.16,253.65 L664.42,252.54 L665.67,251.51 L666.93,250.56 L668.19,249.66 L669.44,248.79 L670.7,247.95 L671.95,247.15 L673.21,246.4 L674.47,245.71 L675.72,245.08 L676.98,244.52 L678.23,244.04 L679.49,243.64 L680.74,243.34 L682,243.13" fill="none" stroke="rgb(202,202,202)" stroke-width="1.4"/>
<path d="M520,367.42 L521.26,365.67 L522.51,363.81 L523.77,361.9 L525.02,359.96 L526.28,358.05 L527.53,356.21 L528.79,354.48 L530.05,352.9 L531.3,351.51 L532.56,350.27 L533.81,349.13 L535.07,348.07 L536.33,347.1 L537.58,346.21 L538.84,345.38 L540.09,344.59 L541.35,343.84 L542.6,343.13 L543.86,342.45 L545.12,341.8 L546.37,341.17 L547.63,340.55 L548.88,339.94 L550.14,339.34 L551.4,338.74 L552.65,338.17 L553.91,337.61 L555.16,337.07 L556.42,336.53 L557.67,335.99 L558.93,335.45 L560.19,334.9 L561.44,334.34 L562.7,333.78 L563.95,333.22 L565.21,332.66 L566.47,332.1 L567.72,331.54 L568.98,330.97 L570.23,330.41 L571.49,329.85 L572.74,329.29 L574,328.74 L575.26,328.19 L576.51,327.64 L577.77,327.1 L579.02,326.57 L580.28,326.04 L581.53,325.51 L582.79,324.97 L584.05,324.42 L585.3,323.87 L586.56,323.32 L587.81,322.76 L589.07,322.21 L590.33,321.66 L591.58,321.11 L592.84,320.57 L594.09,320.04 L595.35,319.52 L596.6,319.01 L597.86,318.51 L599.12,318.01 L600.37,317.53 L601.63,317.05 L602.88,316.57 L604.14,316.09 L605.4,315.62 L606.65,315.14 L607.91,314.67 L609.16,314.2 L610.42,313.72 L611.67,313.24 L612.93,312.77 L614.19,312.33 L615.44,311.89 L616.7,311.46 L617.95,311.02 L619.21,310.56 L620.47,310.06 L621.72,309.52 L622.98,308.93 L624.23,308.25 L625.49,307.48 L626.74,306.64 L628,305.71 L629.26,304.73 L630.51,303.68 L631.77,302.54 L633.02,301.27 L634.28,299.84 L635.53,298.23 L636.79,296.41 L638.05,294.06 L639.3,290.99 L640.56,287.86 L641.81,285.23 L643.07,282.84 L644.33,280.63 L645.58,278.53 L646.84,276.49 L648.09,274.5 L649.35,272.57 L650.6,270.69 L651.86,268.85 L653.12,267.05 L654.37,265.3 L655.63,263.61 L656.88,261.95 L658.14,260.32 L659.4,258.74 L660.65,257.25 L661.91,255.87 L663.16,254.6 L664.42,253.47 L665.67,252.43 L666.93,251.48 L668.19,250.57 L669.44,249.69 L670.7,248.84 L671.95,248.04 L673.21,247.29 L674.47,246.59 L675.72,245.95 L676.98,245.39 L678.23,244.91 L679.49,244.51 L680.74,244.2 L682,243.99" fill="none" stroke="rgb(198,198,198)" stroke-width="1.4"/>
<path d="M520,367.39 L521.26,365.57 L522.51,363.65 L523.77,361.67 L525.02,359.69 L526.28,357.74 L527.53,355.86 L528.79,354.11 L530.05,352.52 L531.3,351.13 L532.56,349.91 L533.81,348.79 L535.07,347.76 L536.33,346.81 L537.58,345.93 L538.84,345.12 L540.09,344.35 L541.35,343.62 L542.6,342.92 L543.86,342.25 L545.12,341.61 L546.37,340.99 L547.63,340.39 L548.88,339.8 L550.14,339.21 L551.4,338.63 L552.65,338.07 L553.91,337.53 L555.16,337 L556.42,336.48 L557.67,335.96 L558.93,335.44 L560.19,334.9 L561.44,334.37 L562.7,333.83 L563.95,333.29 L565.21,332.75 L566.47,332.21 L567.72,331.67 L568.98,331.13 L570.23,330.59 L571.49,330.05 L572.74,329.52 L574,328.98 L575.26,328.45 L576.51,327.93 L577.77,327.4 L579.02,326.89 L580.28,326.37 L581.53,325.85 L582.79,325.32 L584.05,324.78 L585.3,324.24 L586.56,323.69 L587.81,323.14 L589.07,322.59 L590.33,322.05 L591.58,321.5 L592.84,320.97 L594.09,320.44 L595.35,319.93 L596.6,319.42 L597.86,318.93 L599.12,318.44 L600.37,317.96 L601.63,317.49 L602.88,317.02 L604.14,316.55 L605.4,316.08 L606.65,315.61 L607.91,315.15 L609.16,314.68 L610.42,314.2 L611.67,313.73 L612.93,313.26 L614.19,312.82 L615.44,312.39 L616.7,311.96 L617.95,311.53 L619.21,311.07 L620.47,310.57 L621.72,310.04 L622.98,309.46 L624.23,308.79 L625.49,308.05 L626.74,307.22 L628,306.32 L629.26,305.36 L630.51,304.34 L631.77,303.23 L633.02,302 L634.28,300.61 L635.53,299.04 L636.79,297.28 L638.05,294.99 L639.3,292 L640.56,288.94 L641.81,286.34 L643.07,283.95 L644.33,281.75 L645.58,279.65 L646.84,277.61 L648.09,275.61 L649.35,273.67 L650.6,271.78 L651.86,269.92 L653.12,268.11 L654.37,266.36 L655.63,264.66 L656.88,262.98 L658.14,261.34 L659.4,259.75 L660.65,258.24 L661.91,256.84 L663.16,255.56 L664.42,254.41 L665.67,253.35 L666.93,252.4 L668.19,251.48 L669.44,250.6 L670.7,249.74 L671.95,248.93 L673.21,248.17 L674.47,247.47 L675.72,246.83 L676.98,246.26 L678.23,245.77 L679.49,245.37 L680.74,245.06 L682,244.85" fill="none" stroke="rgb(193,193,193)" stroke-width="1.4"/>
<path d="M520,367.36 L521.26,365.47 L522.51,363.49 L523.77,361.45 L525.02,359.42 L526.28,357.42 L527.53,355.51 L528.79,353.73 L530.05,352.14 L531.3,350.76 L532.56,349.55 L533.81,348.45 L535.07,347.44 L536.33,346.51 L537.58,345.66 L538.84,344.86 L540.09,344.1 L541.35,343.39 L542.6,342.7 L543.86,342.05 L545.12,341.42 L546.37,340.82 L547.63,340.23 L548.88,339.65 L550.14,339.08 L551.4,338.51 L552.65,337.97 L553.91,337.44 L555.16,336.93 L556.42,336.43 L557.67,335.93 L558.93,335.42 L560.19,334.91 L561.44,334.39 L562.7,333.87 L563.95,333.36 L565.21,332.84 L566.47,332.32 L567.72,331.8 L568.98,331.29 L570.23,330.77 L571.49,330.25 L572.74,329.74 L574,329.23 L575.26,328.72 L576.51,328.21 L577.77,327.7 L579.02,327.2 L580.28,326.7 L581.53,326.19 L582.79,325.67 L584.05,325.14 L585.3,324.61 L586.56,324.07 L587.81,323.52 L589.07,322.98 L590.33,322.43 L591.58,321.9 L592.84,321.37 L594.09,320.84 L595.35,320.33 L596.6,319.84 L597.86,319.35 L599.12,318.87 L600.37,318.4 L601.63,317.93 L602.88,317.46 L604.14,317 L605.4,316.54 L606.65,316.08 L607.91,315.62 L609.16,315.16 L610.42,314.69 L611.67,314.22 L612.93,313.76 L614.19,313.32 L615.44,312.89 L616.7,312.47 L617.95,312.03 L619.21,311.57 L620.47,311.09 L621.72,310.56 L622.98,309.99 L624.23,309.34 L625.49,308.61 L626.74,307.8 L628,306.92 L629.26,305.99 L630.51,305 L631.77,303.93 L633.02,302.73 L634.28,301.38 L635.53,299.86 L636.79,298.14 L638.05,295.93 L639.3,293.02 L640.56,290.02 L641.81,287.44 L643.07,285.07 L644.33,282.87 L645.58,280.78 L646.84,278.73 L648.09,276.73 L649.35,274.77 L650.6,272.86 L651.86,271 L653.12,269.17 L654.37,267.41 L655.63,265.7 L656.88,264.01 L658.14,262.36 L659.4,260.76 L660.65,259.23 L661.91,257.81 L663.16,256.51 L664.42,255.35 L665.67,254.28 L666.93,253.32 L668.19,252.39 L669.44,251.5 L670.7,250.64 L671.95,249.83 L673.21,249.06 L674.47,248.35 L675.72,247.71 L676.98,247.13 L678.23,246.64 L679.49,246.23 L680.74,245.92 L682,245.71" fill="none" stroke="rgb(189,189,189)" stroke-width="1.4"/>
<path d="M520,367.32 L521.26,365.37 L522.51,363.32 L523.77,361.23 L525.02,359.14 L526.28,357.1 L527.53,355.16 L528.79,353.36 L530.05,351.75 L531.3,350.38 L532.56,349.19 L533.81,348.11 L535.07,347.12 L536.33,346.22 L537.58,345.38 L538.84,344.6 L540.09,343.86 L541.35,343.16 L542.6,342.49 L543.86,341.85 L545.12,341.24 L546.37,340.64 L547.63,340.07 L548.88,339.5 L550.14,338.95 L551.4,338.4 L552.65,337.87 L553.91,337.36 L555.16,336.87 L556.42,336.38 L557.67,335.9 L558.93,335.41 L560.19,334.91 L561.44,334.42 L562.7,333.92 L563.95,333.42 L565.21,332.93 L566.47,332.43 L567.72,331.94 L568.98,331.44 L570.23,330.95 L571.49,330.46 L572.74,329.96 L574,329.47 L575.26,328.98 L576.51,328.49 L577.77,328 L579.02,327.52 L580.28,327.03 L581.53,326.54 L582.79,326.03 L584.05,325.51 L585.3,324.98 L586.56,324.44 L587.81,323.9 L589.07,323.36 L590.33,322.82 L591.58,322.29 L592.84,321.76 L594.09,321.25 L595.35,320.74 L596.6,320.25 L597.86,319.77 L599.12,319.3 L600.37,318.83 L601.63,318.37 L602.88,317.91 L604.14,317.46 L605.4,317 L606.65,316.55 L607.91,316.09 L609.16,315.63 L610.42,315.17 L611.67,314.71 L612.93,314.25 L614.19,313.82 L615.44,313.39 L616.7,312.97 L617.95,312.54 L619.21,312.08 L620.47,311.6 L621.72,311.08 L622.98,310.52 L624.23,309.88 L625.49,309.17 L626.74,308.38 L628,307.53 L629.26,306.62 L630.51,305.66 L631.77,304.62 L633.02,303.46 L634.28,302.15 L635.53,300.67 L636.79,299.01 L638.05,296.86 L639.3,294.03 L640.56,291.1 L641.81,288.54 L643.07,286.18 L644.33,283.99 L645.58,281.9 L646.84,279.85 L648.09,277.84 L649.35,275.87 L650.6,273.95 L651.86,272.07 L653.12,270.24 L654.37,268.46 L655.63,266.74 L656.88,265.04 L658.14,263.38 L659.4,261.76 L660.65,260.22 L661.91,258.78 L663.16,257.47 L664.42,256.28 L665.67,255.2 L666.93,254.23 L668.19,253.31 L669.44,252.41 L670.7,251.54 L671.95,250.72 L673.21,249.95 L674.47,249.23 L675.72,248.58 L676.98,248 L678.23,247.51 L679.49,247.1 L680.74,246.78 L682,246.57" fill="none" stroke="rgb(184,184,184)" stroke-width="1.4"/>
<path d="M520,367.29 L521.26,365.27 L522.51,363.16 L523.77,361.01 L525.02,358.87 L526.28,356.79 L527.53,354.81 L528.79,352.99 L530.05,351.37 L531.3,350.01 L532.56,348.83 L533.81,347.77 L535.07,346.81 L536.33,345.92 L537.58,345.11 L538.84,344.34 L540.09,343.62 L541.35,342.93 L542.6,342.28 L543.86,341.65 L545.12,341.05 L546.37,340.47 L547.63,339.91 L548.88,339.36 L550.14,338.82 L551.4,338.28 L552.65,337.77 L553.91,337.28 L555.16,336.8 L556.42,336.33 L557.67,335.86 L558.93,335.39 L560.19,334.92 L561.44,334.44 L562.7,333.96 L563.95,333.49 L565.21,333.02 L566.47,332.54 L567.72,332.07 L568.98,331.6 L570.23,331.13 L571.49,330.66 L572.74,330.19 L574,329.72 L575.26,329.25 L576.51,328.78 L577.77,328.3 L579.02,327.83 L580.28,327.36 L581.53,326.88 L582.79,326.38 L584.05,325.87 L585.3,325.35 L586.56,324.82 L587.81,324.28 L589.07,323.75 L590.33,323.21 L591.58,322.68 L592.84,322.16 L594.09,321.65 L595.35,321.15 L596.6,320.67 L597.86,320.19 L599.12,319.73 L600.37,319.27 L601.63,318.81 L602.88,318.36 L604.14,317.91 L605.4,317.46 L606.65,317.02 L607.91,316.57 L609.16,316.11 L610.42,315.66 L611.67,315.2 L612.93,314.75 L614.19,314.31 L615.44,313.89 L616.7,313.47 L617.95,313.04 L619.21,312.59 L620.47,312.12 L621.72,311.6 L622.98,311.05 L624.23,310.42 L625.49,309.73 L626.74,308.96 L628,308.13 L629.26,307.25 L630.51,306.32 L631.77,305.31 L633.02,304.18 L634.28,302.92 L635.53,301.49 L636.79,299.88 L638.05,297.79 L639.3,295.05 L640.56,292.18 L641.81,289.65 L643.07,287.29 L644.33,285.12 L645.58,283.03 L646.84,280.97 L648.09,278.95 L649.35,276.97 L650.6,275.04 L651.86,273.14 L653.12,271.3 L654.37,269.51 L655.63,267.78 L656.88,266.08 L658.14,264.4 L659.4,262.77 L660.65,261.21 L661.91,259.76 L663.16,258.42 L664.42,257.22 L665.67,256.13 L666.93,255.15 L668.19,254.22 L669.44,253.31 L670.7,252.44 L671.95,251.61 L673.21,250.83 L674.47,250.11 L675.72,249.46 L676.98,248.88 L678.23,248.37 L679.49,247.96 L680.74,247.64 L682,247.42" fill="none" stroke="rgb(179,179,179)" stroke-width="1.4"/>
<path d="M520,367.25 L521.26,365.16 L522.51,362.99 L523.77,360.79 L525.02,358.59 L526.28,356.47 L527.53,354.46 L528.79,352.62 L530.05,350.99 L531.3,349.63 L532.56,348.48 L533.81,347.43 L535.07,346.49 L536.33,345.63 L537.58,344.83 L538.84,344.08 L540.09,343.37 L541.35,342.7 L542.6,342.06 L543.86,341.45 L545.12,340.86 L546.37,340.29 L547.63,339.75 L548.88,339.21 L550.14,338.68 L551.4,338.17 L552.65,337.67 L553.91,337.19 L555.16,336.73 L556.42,336.28 L557.67,335.83 L558.93,335.38 L560.19,334.92 L561.44,334.46 L562.7,334.01 L563.95,333.56 L565.21,333.11 L566.47,332.66 L567.72,332.21 L568.98,331.76 L570.23,331.31 L571.49,330.86 L572.74,330.41 L574,329.96 L575.26,329.51 L576.51,329.06 L577.77,328.61 L579.02,328.15 L580.28,327.69 L581.53,327.22 L582.79,326.73 L584.05,326.23 L585.3,325.71 L586.56,325.19 L587.81,324.66 L589.07,324.13 L590.33,323.6 L591.58,323.08 L592.84,322.56 L594.09,322.05 L595.35,321.56 L596.6,321.08 L597.86,320.61 L599.12,320.15 L600.37,319.7 L601.63,319.25 L602.88,318.81 L604.14,318.37 L605.4,317.92 L606.65,317.48 L607.91,317.04 L609.16,316.59 L610.42,316.14 L611.67,315.69 L612.93,315.24 L614.19,314.81 L615.44,314.39 L616.7,313.97 L617.95,313.55 L619.21,313.1 L620.47,312.63 L621.72,312.13 L622.98,311.58 L624.23,310.97 L625.49,310.29 L626.74,309.54 L628,308.73 L629.26,307.88 L630.51,306.98 L631.77,306 L633.02,304.91 L634.28,303.69 L635.53,302.31 L636.79,300.74 L638.05,298.73 L639.3,296.06 L640.56,293.26 L641.81,290.75 L643.07,288.41 L644.33,286.24 L645.58,284.15 L646.84,282.09 L648.09,280.06 L649.35,278.07 L650.6,276.12 L651.86,274.22 L653.12,272.36 L654.37,270.56 L655.63,268.83 L656.88,267.11 L658.14,265.42 L659.4,263.77 L660.65,262.2 L661.91,260.73 L663.16,259.37 L664.42,258.16 L665.67,257.05 L666.93,256.07 L668.19,255.13 L669.44,254.22 L670.7,253.34 L671.95,252.51 L673.21,251.72 L674.47,251 L675.72,250.33 L676.98,249.75 L678.23,249.24 L679.49,248.82 L680.74,248.5 L682,248.28" fill="none" stroke="rgb(174,174,174)" stroke-width="1.4"/>
<path d="M520,367.22 L521.26,365.06 L522.51,362.83 L523.77,360.56 L525.02,358.32 L526.28,356.15 L527.53,354.11 L528.79,352.25 L530.05,350.61 L531.3,349.26 L532.56,348.12 L533.81,347.09 L535.07,346.17 L536.33,345.33 L537.58,344.55 L538.84,343.82 L540.09,343.13 L541.35,342.47 L542.6,341.85 L543.86,341.25 L545.12,340.67 L546.37,340.12 L547.63,339.58 L548.88,339.06 L550.14,338.55 L551.4,338.05 L552.65,337.57 L553.91,337.11 L555.16,336.67 L556.42,336.23 L557.67,335.8 L558.93,335.36 L560.19,334.92 L561.44,334.49 L562.7,334.06 L563.95,333.62 L565.21,333.2 L566.47,332.77 L567.72,332.34 L568.98,331.91 L570.23,331.49 L571.49,331.06 L572.74,330.63 L574,330.2 L575.26,329.77 L576.51,329.34 L577.77,328.91 L579.02,328.47 L580.28,328.03 L581.53,327.57 L582.79,327.09 L584.05,326.59 L585.3,326.08 L586.56,325.57 L587.81,325.04 L589.07,324.52 L590.33,323.99 L591.58,323.47 L592.84,322.96 L594.09,322.45 L595.35,321.97 L596.6,321.5 L597.86,321.04 L599.12,320.58 L600.37,320.14 L601.63,319.69 L602.88,319.26 L604.14,318.82 L605.4,318.39 L606.65,317.95 L607.91,317.51 L609.16,317.07 L610.42,316.63 L611.67,316.18 L612.93,315.73 L614.19,315.31 L615.44,314.89 L616.7,314.48 L617.95,314.05 L619.21,313.61 L620.47,313.14 L621.72,312.65 L622.98,312.11 L624.23,311.51 L625.49,310.85 L626.74,310.12 L628,309.34 L629.26,308.51 L630.51,307.64 L631.77,306.69 L633.02,305.64 L634.28,304.46 L635.53,303.12 L636.79,301.61 L638.05,299.66 L639.3,297.08 L640.56,294.34 L641.81,291.86 L643.07,289.52 L644.33,287.36 L645.58,285.28 L646.84,283.21 L648.09,281.18 L649.35,279.17 L650.6,277.21 L651.86,275.29 L653.12,273.42 L654.37,271.61 L655.63,269.87 L656.88,268.14 L658.14,266.44 L659.4,264.78 L660.65,263.19 L661.91,261.7 L663.16,260.33 L664.42,259.09 L665.67,257.97 L666.93,256.98 L668.19,256.04 L669.44,255.12 L670.7,254.24 L671.95,253.4 L673.21,252.61 L674.47,251.88 L675.72,251.21 L676.98,250.62 L678.23,250.11 L679.49,249.69 L680.74,249.36 L682,249.14" fill="none" stroke="rgb(169,169,169)" stroke-width="1.4"/>
<path d="M520,367.18 L521.26,364.96 L522.51,362.66 L523.77,360.34 L525.02,358.05 L526.28,355.84 L527.53,353.76 L528.79,351.87 L530.05,350.23 L531.3,348.88 L532.56,347.76 L533.81,346.75 L535.07,345.85 L536.33,345.04 L537.58,344.28 L538.84,343.56 L540.09,342.89 L541.35,342.24 L542.6,341.63 L543.86,341.05 L545.12,340.49 L546.37,339.95 L547.63,339.42 L548.88,338.92 L550.14,338.42 L551.4,337.93 L552.65,337.47 L553.91,337.03 L555.16,336.6 L556.42,336.18 L557.67,335.77 L558.93,335.35 L560.19,334.93 L561.44,334.51 L562.7,334.1 L563.95,333.69 L565.21,333.28 L566.47,332.88 L567.72,332.47 L568.98,332.07 L570.23,331.67 L571.49,331.26 L572.74,330.86 L574,330.45 L575.26,330.04 L576.51,329.62 L577.77,329.21 L579.02,328.78 L580.28,328.36 L581.53,327.91 L582.79,327.44 L584.05,326.95 L585.3,326.45 L586.56,325.94 L587.81,325.42 L589.07,324.9 L590.33,324.38 L591.58,323.86 L592.84,323.35 L594.09,322.86 L595.35,322.38 L596.6,321.91 L597.86,321.46 L599.12,321.01 L600.37,320.57 L601.63,320.14 L602.88,319.7 L604.14,319.28 L605.4,318.85 L606.65,318.42 L607.91,317.99 L609.16,317.55 L610.42,317.11 L611.67,316.67 L612.93,316.23 L614.19,315.81 L615.44,315.39 L616.7,314.98 L617.95,314.56 L619.21,314.12 L620.47,313.66 L621.72,313.17 L622.98,312.64 L624.23,312.05 L625.49,311.41 L626.74,310.7 L628,309.94 L629.26,309.14 L630.51,308.3 L631.77,307.38 L633.02,306.37 L634.28,305.23 L635.53,303.94 L636.79,302.48 L638.05,300.59 L639.3,298.09 L640.56,295.42 L641.81,292.96 L643.07,290.63 L644.33,288.48 L645.58,286.4 L646.84,284.33 L648.09,282.29 L649.35,280.27 L650.6,278.3 L651.86,276.36 L653.12,274.48 L654.37,272.66 L655.63,270.91 L656.88,269.17 L658.14,267.46 L659.4,265.79 L660.65,264.18 L661.91,262.67 L663.16,261.28 L664.42,260.03 L665.67,258.9 L666.93,257.9 L668.19,256.95 L669.44,256.03 L670.7,255.14 L671.95,254.29 L673.21,253.5 L674.47,252.76 L675.72,252.09 L676.98,251.49 L678.23,250.97 L679.49,250.55 L680.74,250.22 L682,250" fill="none" stroke="rgb(163,163,163)" stroke-width="1.4"/>
<path d="M520,367.15 L521.26,364.86 L522.51,362.5 L523.77,360.12 L525.02,357.77 L526.28,355.52 L527.53,353.41 L528.79,351.5 L530.05,349.85 L531.3,348.51 L532.56,347.4 L533.81,346.42 L535.07,345.54 L536.33,344.74 L537.58,344 L538.84,343.31 L540.09,342.64 L541.35,342.02 L542.6,341.42 L543.86,340.84 L545.12,340.3 L546.37,339.77 L547.63,339.26 L548.88,338.77 L550.14,338.29 L551.4,337.82 L552.65,337.37 L553.91,336.94 L555.16,336.53 L556.42,336.13 L557.67,335.73 L558.93,335.33 L560.19,334.93 L561.44,334.54 L562.7,334.15 L563.95,333.76 L565.21,333.37 L566.47,332.99 L567.72,332.61 L568.98,332.23 L570.23,331.85 L571.49,331.46 L572.74,331.08 L574,330.69 L575.26,330.3 L576.51,329.91 L577.77,329.51 L579.02,329.1 L580.28,328.69 L581.53,328.25 L582.79,327.79 L584.05,327.32 L585.3,326.82 L586.56,326.32 L587.81,325.8 L589.07,325.29 L590.33,324.77 L591.58,324.26 L592.84,323.75 L594.09,323.26 L595.35,322.78 L596.6,322.33 L597.86,321.88 L599.12,321.44 L600.37,321 L601.63,320.58 L602.88,320.15 L604.14,319.73 L605.4,319.31 L606.65,318.89 L607.91,318.46 L609.16,318.03 L610.42,317.6 L611.67,317.16 L612.93,316.72 L614.19,316.3 L615.44,315.89 L616.7,315.48 L617.95,315.06 L619.21,314.63 L620.47,314.17 L621.72,313.69 L622.98,313.17 L624.23,312.6 L625.49,311.97 L626.74,311.28 L628,310.55 L629.26,309.77 L630.51,308.96 L631.77,308.08 L633.02,307.1 L634.28,305.99 L635.53,304.75 L636.79,303.34 L638.05,301.53 L639.3,299.11 L640.56,296.5 L641.81,294.06 L643.07,291.75 L644.33,289.6 L645.58,287.53 L646.84,285.46 L648.09,283.4 L649.35,281.38 L650.6,279.38 L651.86,277.43 L653.12,275.54 L654.37,273.71 L655.63,271.95 L656.88,270.21 L658.14,268.48 L659.4,266.79 L660.65,265.17 L661.91,263.65 L663.16,262.24 L664.42,260.97 L665.67,259.82 L666.93,258.82 L668.19,257.86 L669.44,256.93 L670.7,256.04 L671.95,255.18 L673.21,254.38 L674.47,253.64 L675.72,252.96 L676.98,252.36 L678.23,251.84 L679.49,251.41 L680.74,251.08 L682,250.85" fill="none" stroke="rgb(157,157,157)" stroke-width="1.4"/>
<path d="M520,367.11 L521.26,364.76 L522.51,362.34 L523.77,359.9 L525.02,357.5 L526.28,355.2 L527.53,353.06 L528.79,351.13 L530.05,349.47 L531.3,348.14 L532.56,347.04 L533.81,346.08 L535.07,345.22 L536.33,344.45 L537.58,343.73 L538.84,343.05 L540.09,342.4 L541.35,341.79 L542.6,341.2 L543.86,340.64 L545.12,340.11 L546.37,339.6 L547.63,339.1 L548.88,338.62 L550.14,338.16 L551.4,337.7 L552.65,337.27 L553.91,336.86 L555.16,336.47 L556.42,336.08 L557.67,335.7 L558.93,335.32 L560.19,334.94 L561.44,334.56 L562.7,334.19 L563.95,333.82 L565.21,333.46 L566.47,333.1 L567.72,332.74 L568.98,332.38 L570.23,332.03 L571.49,331.67 L572.74,331.3 L574,330.94 L575.26,330.56 L576.51,330.19 L577.77,329.81 L579.02,329.42 L580.28,329.02 L581.53,328.6 L582.79,328.15 L584.05,327.68 L585.3,327.19 L586.56,326.69 L587.81,326.18 L589.07,325.67 L590.33,325.16 L591.58,324.65 L592.84,324.15 L594.09,323.66 L595.35,323.19 L596.6,322.74 L597.86,322.3 L599.12,321.87 L600.37,321.44 L601.63,321.02 L602.88,320.6 L604.14,320.19 L605.4,319.77 L606.65,319.35 L607.91,318.93 L609.16,318.51 L610.42,318.08 L611.67,317.65 L612.93,317.22 L614.19,316.8 L615.44,316.39 L616.7,315.98 L617.95,315.57 L619.21,315.14 L620.47,314.69 L621.72,314.21 L622.98,313.7 L624.23,313.14 L625.49,312.53 L626.74,311.86 L628,311.15 L629.26,310.4 L630.51,309.62 L631.77,308.77 L633.02,307.82 L634.28,306.76 L635.53,305.57 L636.79,304.21 L638.05,302.46 L639.3,300.12 L640.56,297.58 L641.81,295.17 L643.07,292.86 L644.33,290.73 L645.58,288.65 L646.84,286.58 L648.09,284.51 L649.35,282.48 L650.6,280.47 L651.86,278.51 L653.12,276.6 L654.37,274.76 L655.63,273 L656.88,271.24 L658.14,269.5 L659.4,267.8 L660.65,266.16 L661.91,264.62 L663.16,263.19 L664.42,261.9 L665.67,260.75 L666.93,259.73 L668.19,258.77 L669.44,257.84 L670.7,256.93 L671.95,256.08 L673.21,255.27 L674.47,254.52 L675.72,253.84 L676.98,253.23 L678.23,252.71 L679.49,252.27 L680.74,251.94 L682,251.71" fill="none" stroke="rgb(151,151,151)" stroke-width="1.4"/>
<path d="M520,367.08 L521.26,364.66 L522.51,362.17 L523.77,359.68 L525.02,357.23 L526.28,354.88 L527.53,352.71 L528.79,350.76 L530.05,349.09 L531.3,347.76 L532.56,346.68 L533.81,345.74 L535.07,344.9 L536.33,344.15 L537.58,343.45 L538.84,342.79 L540.09,342.16 L541.35,341.56 L542.6,340.99 L543.86,340.44 L545.12,339.92 L546.37,339.42 L547.63,338.94 L548.88,338.48 L550.14,338.03 L551.4,337.59 L552.65,337.17 L553.91,336.78 L555.16,336.4 L556.42,336.03 L557.67,335.67 L558.93,335.3 L560.19,334.94 L561.44,334.58 L562.7,334.24 L563.95,333.89 L565.21,333.55 L566.47,333.21 L567.72,332.88 L568.98,332.54 L570.23,332.21 L571.49,331.87 L572.74,331.53 L574,331.18 L575.26,330.83 L576.51,330.47 L577.77,330.11 L579.02,329.73 L580.28,329.35 L581.53,328.94 L582.79,328.5 L584.05,328.04 L585.3,327.56 L586.56,327.07 L587.81,326.56 L589.07,326.06 L590.33,325.55 L591.58,325.04 L592.84,324.55 L594.09,324.06 L595.35,323.6 L596.6,323.15 L597.86,322.72 L599.12,322.29 L600.37,321.87 L601.63,321.46 L602.88,321.05 L604.14,320.64 L605.4,320.23 L606.65,319.82 L607.91,319.41 L609.16,318.99 L610.42,318.57 L611.67,318.14 L612.93,317.71 L614.19,317.3 L615.44,316.89 L616.7,316.48 L617.95,316.07 L619.21,315.64 L620.47,315.2 L621.72,314.73 L622.98,314.23 L624.23,313.68 L625.49,313.09 L626.74,312.44 L628,311.75 L629.26,311.03 L630.51,310.28 L631.77,309.46 L633.02,308.55 L634.28,307.53 L635.53,306.38 L636.79,305.08 L638.05,303.39 L639.3,301.14 L640.56,298.66 L641.81,296.27 L643.07,293.97 L644.33,291.85 L645.58,289.77 L646.84,287.7 L648.09,285.63 L649.35,283.58 L650.6,281.56 L651.86,279.58 L653.12,277.66 L654.37,275.81 L655.63,274.04 L656.88,272.27 L658.14,270.52 L659.4,268.8 L660.65,267.15 L661.91,265.59 L663.16,264.15 L664.42,262.84 L665.67,261.67 L666.93,260.65 L668.19,259.68 L669.44,258.74 L670.7,257.83 L671.95,256.97 L673.21,256.16 L674.47,255.4 L675.72,254.72 L676.98,254.1 L678.23,253.57 L679.49,253.14 L680.74,252.8 L682,252.57" fill="none" stroke="rgb(145,145,145)" stroke-width="1.4"/>
<path d="M520,367.04 L521.26,364.56 L522.51,362.01 L523.77,359.45 L525.02,356.95 L526.28,354.57 L527.53,352.36 L528.79,350.39 L530.05,348.71 L531.3,347.39 L532.56,346.32 L533.81,345.4 L535.07,344.59 L536.33,343.86 L537.58,343.18 L538.84,342.53 L540.09,341.91 L541.35,341.33 L542.6,340.77 L543.86,340.24 L545.12,339.73 L546.37,339.25 L547.63,338.78 L548.88,338.33 L550.14,337.89 L551.4,337.47 L552.65,337.07 L553.91,336.69 L555.16,336.33 L556.42,335.98 L557.67,335.63 L558.93,335.29 L560.19,334.94 L561.44,334.61 L562.7,334.28 L563.95,333.96 L565.21,333.64 L566.47,333.32 L567.72,333.01 L568.98,332.7 L570.23,332.38 L571.49,332.07 L572.74,331.75 L574,331.42 L575.26,331.09 L576.51,330.75 L577.77,330.41 L579.02,330.05 L580.28,329.68 L581.53,329.28 L582.79,328.85 L584.05,328.4 L585.3,327.93 L586.56,327.44 L587.81,326.94 L589.07,326.44 L590.33,325.94 L591.58,325.44 L592.84,324.94 L594.09,324.47 L595.35,324.01 L596.6,323.57 L597.86,323.14 L599.12,322.72 L600.37,322.31 L601.63,321.9 L602.88,321.5 L604.14,321.09 L605.4,320.69 L606.65,320.29 L607.91,319.88 L609.16,319.47 L610.42,319.05 L611.67,318.63 L612.93,318.2 L614.19,317.79 L615.44,317.39 L616.7,316.99 L617.95,316.58 L619.21,316.15 L620.47,315.71 L621.72,315.25 L622.98,314.76 L624.23,314.22 L625.49,313.65 L626.74,313.03 L628,312.36 L629.26,311.67 L630.51,310.94 L631.77,310.15 L633.02,309.28 L634.28,308.3 L635.53,307.2 L636.79,305.95 L638.05,304.33 L639.3,302.15 L640.56,299.74 L641.81,297.37 L643.07,295.09 L644.33,292.97 L645.58,290.9 L646.84,288.82 L648.09,286.74 L649.35,284.68 L650.6,282.64 L651.86,280.65 L653.12,278.72 L654.37,276.86 L655.63,275.08 L656.88,273.3 L658.14,271.54 L659.4,269.81 L660.65,268.14 L661.91,266.56 L663.16,265.1 L664.42,263.78 L665.67,262.59 L666.93,261.57 L668.19,260.59 L669.44,259.65 L670.7,258.73 L671.95,257.86 L673.21,257.04 L674.47,256.28 L675.72,255.59 L676.98,254.97 L678.23,254.44 L679.49,254 L680.74,253.66 L682,253.43" fill="none" stroke="rgb(139,139,139)" stroke-width="1.4"/>
<path d="M520,367.01 L521.26,364.46 L522.51,361.84 L523.77,359.23 L525.02,356.68 L526.28,354.25 L527.53,352.01 L528.79,350.01 L530.05,348.33 L531.3,347.01 L532.56,345.96 L533.81,345.06 L535.07,344.27 L536.33,343.56 L537.58,342.9 L538.84,342.27 L540.09,341.67 L541.35,341.1 L542.6,340.56 L543.86,340.04 L545.12,339.55 L546.37,339.07 L547.63,338.62 L548.88,338.18 L550.14,337.76 L551.4,337.36 L552.65,336.97 L553.91,336.61 L555.16,336.26 L556.42,335.93 L557.67,335.6 L558.93,335.27 L560.19,334.95 L561.44,334.63 L562.7,334.33 L563.95,334.02 L565.21,333.73 L566.47,333.44 L567.72,333.15 L568.98,332.86 L570.23,332.56 L571.49,332.27 L572.74,331.97 L574,331.67 L575.26,331.36 L576.51,331.04 L577.77,330.71 L579.02,330.36 L580.28,330.01 L581.53,329.62 L582.79,329.21 L584.05,328.76 L585.3,328.3 L586.56,327.82 L587.81,327.32 L589.07,326.83 L590.33,326.33 L591.58,325.83 L592.84,325.34 L594.09,324.87 L595.35,324.42 L596.6,323.98 L597.86,323.56 L599.12,323.15 L600.37,322.74 L601.63,322.34 L602.88,321.95 L604.14,321.55 L605.4,321.15 L606.65,320.76 L607.91,320.36 L609.16,319.95 L610.42,319.54 L611.67,319.12 L612.93,318.7 L614.19,318.29 L615.44,317.89 L616.7,317.49 L617.95,317.08 L619.21,316.66 L620.47,316.23 L621.72,315.77 L622.98,315.29 L624.23,314.77 L625.49,314.21 L626.74,313.61 L628,312.96 L629.26,312.3 L630.51,311.6 L631.77,310.84 L633.02,310.01 L634.28,309.07 L635.53,308.01 L636.79,306.81 L638.05,305.26 L639.3,303.17 L640.56,300.82 L641.81,298.48 L643.07,296.2 L644.33,294.09 L645.58,292.02 L646.84,289.94 L648.09,287.85 L649.35,285.78 L650.6,283.73 L651.86,281.73 L653.12,279.78 L654.37,277.91 L655.63,276.12 L656.88,274.34 L658.14,272.56 L659.4,270.81 L660.65,269.13 L661.91,267.54 L663.16,266.06 L664.42,264.71 L665.67,263.52 L666.93,262.48 L668.19,261.5 L669.44,260.55 L670.7,259.63 L671.95,258.76 L673.21,257.93 L674.47,257.17 L675.72,256.47 L676.98,255.85 L678.23,255.31 L679.49,254.86 L680.74,254.52 L682,254.29" fill="none" stroke="rgb(132,132,132)" stroke-width="1.4"/>
<path d="M520,366.98 L521.26,364.36 L522.51,361.68 L523.77,359.01 L525.02,356.41 L526.28,353.93 L527.53,351.66 L528.79,349.64 L530.05,347.95 L531.3,346.64 L532.56,345.6 L533.81,344.72 L535.07,343.95 L536.33,343.27 L537.58,342.63 L538.84,342.01 L540.09,341.43 L541.35,340.87 L542.6,340.34 L543.86,339.84 L545.12,339.36 L546.37,338.9 L547.63,338.46 L548.88,338.04 L550.14,337.63 L551.4,337.24 L552.65,336.87 L553.91,336.53 L555.16,336.2 L556.42,335.88 L557.67,335.57 L558.93,335.26 L560.19,334.95 L561.44,334.66 L562.7,334.37 L563.95,334.09 L565.21,333.82 L566.47,333.55 L567.72,333.28 L568.98,333.01 L570.23,332.74 L571.49,332.47 L572.74,332.19 L574,331.91 L575.26,331.62 L576.51,331.32 L577.77,331.01 L579.02,330.68 L580.28,330.34 L581.53,329.97 L582.79,329.56 L584.05,329.13 L585.3,328.67 L586.56,328.19 L587.81,327.71 L589.07,327.21 L590.33,326.71 L591.58,326.22 L592.84,325.74 L594.09,325.27 L595.35,324.82 L596.6,324.4 L597.86,323.98 L599.12,323.58 L600.37,323.18 L601.63,322.78 L602.88,322.39 L604.14,322 L605.4,321.62 L606.65,321.22 L607.91,320.83 L609.16,320.43 L610.42,320.02 L611.67,319.61 L612.93,319.19 L614.19,318.79 L615.44,318.39 L616.7,317.99 L617.95,317.59 L619.21,317.17 L620.47,316.74 L621.72,316.29 L622.98,315.82 L624.23,315.31 L625.49,314.77 L626.74,314.19 L628,313.57 L629.26,312.93 L630.51,312.26 L631.77,311.53 L633.02,310.74 L634.28,309.84 L635.53,308.83 L636.79,307.68 L638.05,306.19 L639.3,304.18 L640.56,301.9 L641.81,299.58 L643.07,297.31 L644.33,295.21 L645.58,293.15 L646.84,291.06 L648.09,288.97 L649.35,286.88 L650.6,284.82 L651.86,282.8 L653.12,280.84 L654.37,278.96 L655.63,277.17 L656.88,275.37 L658.14,273.58 L659.4,271.82 L660.65,270.12 L661.91,268.51 L663.16,267.01 L664.42,265.65 L665.67,264.44 L666.93,263.4 L668.19,262.42 L669.44,261.46 L670.7,260.53 L671.95,259.65 L673.21,258.82 L674.47,258.05 L675.72,257.34 L676.98,256.72 L678.23,256.18 L679.49,255.73 L680.74,255.38 L682,255.14" fill="none" stroke="rgb(126,126,126)" stroke-width="1.4"/>
<path d="M520,366.94 L521.26,364.26 L522.51,361.52 L523.77,358.79 L525.02,356.13 L526.28,353.62 L527.53,351.31 L528.79,349.27 L530.05,347.56 L531.3,346.26 L532.56,345.25 L533.81,344.38 L535.07,343.64 L536.33,342.97 L537.58,342.35 L538.84,341.75 L540.09,341.18 L541.35,340.64 L542.6,340.13 L543.86,339.64 L545.12,339.17 L546.37,338.72 L547.63,338.3 L548.88,337.89 L550.14,337.5 L551.4,337.13 L552.65,336.77 L553.91,336.44 L555.16,336.13 L556.42,335.83 L557.67,335.54 L558.93,335.24 L560.19,334.96 L561.44,334.68 L562.7,334.42 L563.95,334.16 L565.21,333.91 L566.47,333.66 L567.72,333.41 L568.98,333.17 L570.23,332.92 L571.49,332.67 L572.74,332.42 L574,332.16 L575.26,331.88 L576.51,331.6 L577.77,331.31 L579.02,331 L580.28,330.67 L581.53,330.31 L582.79,329.91 L584.05,329.49 L585.3,329.04 L586.56,328.57 L587.81,328.09 L589.07,327.6 L590.33,327.1 L591.58,326.62 L592.84,326.14 L594.09,325.67 L595.35,325.23 L596.6,324.81 L597.86,324.4 L599.12,324 L600.37,323.61 L601.63,323.23 L602.88,322.84 L604.14,322.46 L605.4,322.08 L606.65,321.69 L607.91,321.3 L609.16,320.91 L610.42,320.51 L611.67,320.1 L612.93,319.69 L614.19,319.29 L615.44,318.89 L616.7,318.49 L617.95,318.09 L619.21,317.68 L620.47,317.26 L621.72,316.81 L622.98,316.35 L624.23,315.85 L625.49,315.33 L626.74,314.77 L628,314.17 L629.26,313.56 L630.51,312.92 L631.77,312.23 L633.02,311.46 L634.28,310.61 L635.53,309.64 L636.79,308.55 L638.05,307.13 L639.3,305.2 L640.56,302.98 L641.81,300.69 L643.07,298.43 L644.33,296.33 L645.58,294.27 L646.84,292.18 L648.09,290.08 L649.35,287.98 L650.6,285.9 L651.86,283.87 L653.12,281.9 L654.37,280.01 L655.63,278.21 L656.88,276.4 L658.14,274.6 L659.4,272.83 L660.65,271.11 L661.91,269.48 L663.16,267.97 L664.42,266.59 L665.67,265.37 L666.93,264.32 L668.19,263.33 L669.44,262.36 L670.7,261.43 L671.95,260.54 L673.21,259.7 L674.47,258.93 L675.72,258.22 L676.98,257.59 L678.23,257.04 L679.49,256.59 L680.74,256.24 L682,256" fill="none" stroke="rgb(119,119,119)" stroke-width="1.4"/>
<path d="M520,366.91 L521.26,364.16 L522.51,361.35 L523.77,358.56 L525.02,355.86 L526.28,353.3 L527.53,350.96 L528.79,348.9 L530.05,347.18 L531.3,345.89 L532.56,344.89 L533.81,344.04 L535.07,343.32 L536.33,342.68 L537.58,342.08 L538.84,341.49 L540.09,340.94 L541.35,340.41 L542.6,339.91 L543.86,339.44 L545.12,338.98 L546.37,338.55 L547.63,338.14 L548.88,337.74 L550.14,337.37 L551.4,337.01 L552.65,336.67 L553.91,336.36 L555.16,336.06 L556.42,335.78 L557.67,335.5 L558.93,335.23 L560.19,334.96 L561.44,334.71 L562.7,334.46 L563.95,334.22 L565.21,334 L566.47,333.77 L567.72,333.55 L568.98,333.33 L570.23,333.1 L571.49,332.87 L572.74,332.64 L574,332.4 L575.26,332.15 L576.51,331.88 L577.77,331.61 L579.02,331.31 L580.28,331 L581.53,330.65 L582.79,330.27 L584.05,329.85 L585.3,329.41 L586.56,328.94 L587.81,328.47 L589.07,327.98 L590.33,327.49 L591.58,327.01 L592.84,326.54 L594.09,326.08 L595.35,325.64 L596.6,325.23 L597.86,324.83 L599.12,324.43 L600.37,324.05 L601.63,323.67 L602.88,323.29 L604.14,322.91 L605.4,322.54 L606.65,322.16 L607.91,321.78 L609.16,321.39 L610.42,320.99 L611.67,320.59 L612.93,320.18 L614.19,319.78 L615.44,319.39 L616.7,318.99 L617.95,318.6 L619.21,318.19 L620.47,317.77 L621.72,317.33 L622.98,316.88 L624.23,316.4 L625.49,315.89 L626.74,315.35 L628,314.77 L629.26,314.19 L630.51,313.58 L631.77,312.92 L633.02,312.19 L634.28,311.38 L635.53,310.46 L636.79,309.41 L638.05,308.06 L639.3,306.21 L640.56,304.06 L641.81,301.79 L643.07,299.54 L644.33,297.46 L645.58,295.4 L646.84,293.3 L648.09,291.19 L649.35,289.08 L650.6,286.99 L651.86,284.94 L653.12,282.96 L654.37,281.06 L655.63,279.25 L656.88,277.44 L658.14,275.62 L659.4,273.83 L660.65,272.1 L661.91,270.45 L663.16,268.92 L664.42,267.52 L665.67,266.29 L666.93,265.23 L668.19,264.24 L669.44,263.27 L670.7,262.33 L671.95,261.43 L673.21,260.59 L674.47,259.81 L675.72,259.1 L676.98,258.46 L678.23,257.91 L679.49,257.45 L680.74,257.1 L682,256.86" fill="none" stroke="rgb(112,112,112)" stroke-width="1.4"/>
<path d="M520,366.87 L521.26,364.05 L522.51,361.19 L523.77,358.34 L525.02,355.58 L526.28,352.98 L527.53,350.61 L528.79,348.52 L530.05,346.8 L531.3,345.51 L532.56,344.53 L533.81,343.71 L535.07,343 L536.33,342.38 L537.58,341.8 L538.84,341.24 L540.09,340.7 L541.35,340.19 L542.6,339.7 L543.86,339.23 L545.12,338.79 L546.37,338.38 L547.63,337.98 L548.88,337.6 L550.14,337.24 L551.4,336.89 L552.65,336.58 L553.91,336.28 L555.16,336 L556.42,335.73 L557.67,335.47 L558.93,335.21 L560.19,334.97 L561.44,334.73 L562.7,334.51 L563.95,334.29 L565.21,334.08 L566.47,333.88 L567.72,333.68 L568.98,333.48 L570.23,333.28 L571.49,333.08 L572.74,332.86 L574,332.64 L575.26,332.41 L576.51,332.17 L577.77,331.91 L579.02,331.63 L580.28,331.33 L581.53,331 L582.79,330.62 L584.05,330.21 L585.3,329.78 L586.56,329.32 L587.81,328.85 L589.07,328.37 L590.33,327.88 L591.58,327.4 L592.84,326.93 L594.09,326.48 L595.35,326.05 L596.6,325.64 L597.86,325.25 L599.12,324.86 L600.37,324.48 L601.63,324.11 L602.88,323.74 L604.14,323.37 L605.4,323 L606.65,322.63 L607.91,322.25 L609.16,321.87 L610.42,321.48 L611.67,321.08 L612.93,320.67 L614.19,320.28 L615.44,319.89 L616.7,319.5 L617.95,319.1 L619.21,318.7 L620.47,318.28 L621.72,317.86 L622.98,317.41 L624.23,316.94 L625.49,316.45 L626.74,315.93 L628,315.38 L629.26,314.82 L630.51,314.24 L631.77,313.61 L633.02,312.92 L634.28,312.15 L635.53,311.28 L636.79,310.28 L638.05,308.99 L639.3,307.23 L640.56,305.14 L641.81,302.89 L643.07,300.66 L644.33,298.58 L645.58,296.52 L646.84,294.43 L648.09,292.3 L649.35,290.18 L650.6,288.08 L651.86,286.02 L653.12,284.02 L654.37,282.11 L655.63,280.3 L656.88,278.47 L658.14,276.64 L659.4,274.84 L660.65,273.09 L661.91,271.43 L663.16,269.87 L664.42,268.46 L665.67,267.21 L666.93,266.15 L668.19,265.15 L669.44,264.17 L670.7,263.23 L671.95,262.33 L673.21,261.48 L674.47,260.69 L675.72,259.97 L676.98,259.33 L678.23,258.78 L679.49,258.32 L680.74,257.96 L682,257.72" fill="none" stroke="rgb(105,105,105)" stroke-width="1.4"/>
</g>
<rect x="521.2" y="212.7" width="160.1" height="143.5" fill="none" stroke="#222" stroke-width="1"/>
<line x1="521.2" y1="354.6" x2="523.7" y2="354.6" stroke="#222" stroke-width="1"/>
<line x1="521.2" y1="348.54" x2="523.2" y2="348.54" stroke="#222" stroke-width="0.9"/>
<line x1="521.2" y1="344.99" x2="523.2" y2="344.99" stroke="#222" stroke-width="0.9"/>
<line x1="521.2" y1="342.48" x2="523.2" y2="342.48" stroke="#222" stroke-width="0.9"/>
<line x1="521.2" y1="340.53" x2="523.2" y2="340.53" stroke="#222" stroke-width="0.9"/>
<line x1="521.2" y1="338.93" x2="523.2" y2="338.93" stroke="#222" stroke-width="0.9"/>
<line x1="521.2" y1="337.59" x2="523.2" y2="337.59" stroke="#222" stroke-width="0.9"/>
<line x1="521.2" y1="336.42" x2="523.2" y2="336.42" stroke="#222" stroke-width="0.9"/>
<line x1="521.2" y1="335.39" x2="523.2" y2="335.39" stroke="#222" stroke-width="0.9"/>
<line x1="521.2" y1="334.47" x2="523.7" y2="334.47" stroke="#222" stroke-width="1"/>
<line x1="521.2" y1="328.41" x2="523.2" y2="328.41" stroke="#222" stroke-width="0.9"/>
<line x1="521.2" y1="324.86" x2="523.2" y2="324.86" stroke="#222" stroke-width="0.9"/>
<line x1="521.2" y1="322.35" x2="523.2" y2="322.35" stroke="#222" stroke-width="0.9"/>
<line x1="521.2" y1="320.39" x2="523.2" y2="320.39" stroke="#222" stroke-width="0.9"/>
<line x1="521.2" y1="318.8" x2="523.2" y2="318.8" stroke="#222" stroke-width="0.9"/>
<line x1="521.2" y1="317.45" x2="523.2" y2="317.45" stroke="#222" stroke-width="0.9"/>
<line x1="521.2" y1="316.28" x2="523.2" y2="316.28" stroke="#222" stroke-width="0.9"/>
<line x1="521.2" y1="315.25" x2="523.2" y2="315.25" stroke="#222" stroke-width="0.9"/>
<line x1="521.2" y1="314.33" x2="523.7" y2="314.33" stroke="#222" stroke-width="1"/>
<line x1="521.2" y1="308.27" x2="523.2" y2="308.27" stroke="#222" stroke-width="0.9"/>
<line x1="521.2" y1="304.73" x2="523.2" y2="304.73" stroke="#222" stroke-width="0.9"/>
<line x1="521.2" y1="302.21" x2="523.2" y2="302.21" stroke="#222" stroke-width="0.9"/>
<line x1="521.2" y1="300.26" x2="523.2" y2="300.26" stroke="#222" stroke-width="0.9"/>
<line x1="521.2" y1="298.67" x2="523.2" y2="298.67" stroke="#222" stroke-width="0.9"/>
<line x1="521.2" y1="297.32" x2="523.2" y2="297.32" stroke="#222" stroke-width="0.9"/>
<line x1="521.2" y1="296.15" x2="523.2" y2="296.15" stroke="#222" stroke-width="0.9"/>
<line x1="521.2" y1="295.12" x2="523.2" y2="295.12" stroke="#222" stroke-width="0.9"/>
<line x1="521.2" y1="294.2" x2="523.7" y2="294.2" stroke="#222" stroke-width="1"/>
<line x1="521.2" y1="288.14" x2="523.2" y2="288.14" stroke="#222" stroke-width="0.9"/>
<line x1="521.2" y1="284.59" x2="523.2" y2="284.59" stroke="#222" stroke-width="0.9"/>
<line x1="521.2" y1="282.08" x2="523.2" y2="282.08" stroke="#222" stroke-width="0.9"/>
<line x1="521.2" y1="280.13" x2="523.2" y2="280.13" stroke="#222" stroke-width="0.9"/>
<line x1="521.2" y1="278.53" x2="523.2" y2="278.53" stroke="#222" stroke-width="0.9"/>
<line x1="521.2" y1="277.19" x2="523.2" y2="277.19" stroke="#222" stroke-width="0.9"/>
<line x1="521.2" y1="276.02" x2="523.2" y2="276.02" stroke="#222" stroke-width="0.9"/>
<line x1="521.2" y1="274.99" x2="523.2" y2="274.99" stroke="#222" stroke-width="0.9"/>
<line x1="521.2" y1="274.07" x2="523.7" y2="274.07" stroke="#222" stroke-width="1"/>
<line x1="521.2" y1="268.01" x2="523.2" y2="268.01" stroke="#222" stroke-width="0.9"/>
<line x1="521.2" y1="264.46" x2="523.2" y2="264.46" stroke="#222" stroke-width="0.9"/>
<line x1="521.2" y1="261.95" x2="523.2" y2="261.95" stroke="#222" stroke-width="0.9"/>
<line x1="521.2" y1="259.99" x2="523.2" y2="259.99" stroke="#222" stroke-width="0.9"/>
<line x1="521.2" y1="258.4" x2="523.2" y2="258.4" stroke="#222" stroke-width="0.9"/>
<line x1="521.2" y1="257.05" x2="523.2" y2="257.05" stroke="#222" stroke-width="0.9"/>
<line x1="521.2" y1="255.88" x2="523.2" y2="255.88" stroke="#222" stroke-width="0.9"/>
<line x1="521.2" y1="254.85" x2="523.2" y2="254.85" stroke="#222" stroke-width="0.9"/>
<line x1="521.2" y1="253.93" x2="523.7" y2="253.93" stroke="#222" stroke-width="1"/>
<line x1="521.2" y1="247.87" x2="523.2" y2="247.87" stroke="#222" stroke-width="0.9"/>
<line x1="521.2" y1="244.33" x2="523.2" y2="244.33" stroke="#222" stroke-width="0.9"/>
<line x1="521.2" y1="241.81" x2="523.2" y2="241.81" stroke="#222" stroke-width="0.9"/>
<line x1="521.2" y1="239.86" x2="523.2" y2="239.86" stroke="#222" stroke-width="0.9"/>
<line x1="521.2" y1="238.27" x2="523.2" y2="238.27" stroke="#222" stroke-width="0.9"/>
<line x1="521.2" y1="236.92" x2="523.2" y2="236.92" stroke="#222" stroke-width="0.9"/>
<line x1="521.2" y1="235.75" x2="523.2" y2="235.75" stroke="#222" stroke-width="0.9"/>
<line x1="521.2" y1="234.72" x2="523.2" y2="234.72" stroke="#222" stroke-width="0.9"/>
<line x1="521.2" y1="233.8" x2="523.7" y2="233.8" stroke="#222" stroke-width="1"/>
<line x1="521.2" y1="227.74" x2="523.2" y2="227.74" stroke="#222" stroke-width="0.9"/>
<line x1="521.2" y1="224.19" x2="523.2" y2="224.19" stroke="#222" stroke-width="0.9"/>
<line x1="521.2" y1="221.68" x2="523.2" y2="221.68" stroke="#222" stroke-width="0.9"/>
<line x1="521.2" y1="219.73" x2="523.2" y2="219.73" stroke="#222" stroke-width="0.9"/>
<line x1="521.2" y1="218.13" x2="523.2" y2="218.13" stroke="#222" stroke-width="0.9"/>
<line x1="521.2" y1="216.79" x2="523.2" y2="216.79" stroke="#222" stroke-width="0.9"/>
<line x1="521.2" y1="215.62" x2="523.2" y2="215.62" stroke="#222" stroke-width="0.9"/>
<line x1="521.2" y1="214.59" x2="523.2" y2="214.59" stroke="#222" stroke-width="0.9"/>
<line x1="547.85" y1="356.2" x2="547.85" y2="354.2" stroke="#222" stroke-width="1"/>
<line x1="574.5" y1="356.2" x2="574.5" y2="354.2" stroke="#222" stroke-width="1"/>
<line x1="601.15" y1="356.2" x2="601.15" y2="354.2" stroke="#222" stroke-width="1"/>
<line x1="627.8" y1="356.2" x2="627.8" y2="354.2" stroke="#222" stroke-width="1"/>
<line x1="654.45" y1="356.2" x2="654.45" y2="354.2" stroke="#222" stroke-width="1"/>
<text x="516.6" y="237.1" font-size="8.7" text-anchor="end" font-weight="normal" font-style="normal" fill="#1a1a1a">10</text>
<text x="520" y="233.6" font-size="5.8" text-anchor="end" font-weight="normal" font-style="normal" fill="#1a1a1a">2</text>
<text x="514.3" y="297.5" font-size="8.7" text-anchor="end" font-weight="normal" font-style="normal" fill="#1a1a1a">10</text>
<text x="520" y="294.5" font-size="5.8" text-anchor="end" font-weight="normal" font-style="normal" fill="#1a1a1a">-1</text>
<text x="514.3" y="357.9" font-size="8.7" text-anchor="end" font-weight="normal" font-style="normal" fill="#1a1a1a">10</text>
<text x="520" y="355.1" font-size="5.8" text-anchor="end" font-weight="normal" font-style="normal" fill="#1a1a1a">-4</text>
<text x="521.2" y="366.1" font-size="8.7" text-anchor="middle" font-weight="normal" font-style="normal" fill="#1a1a1a">0</text>
<text x="574.5" y="366.1" font-size="8.7" text-anchor="middle" font-weight="normal" font-style="normal" fill="#1a1a1a">1</text>
<text x="627.8" y="366.1" font-size="8.7" text-anchor="middle" font-weight="normal" font-style="normal" fill="#1a1a1a">2</text>
<text x="681.1" y="366.1" font-size="8.7" text-anchor="middle" font-weight="normal" font-style="normal" fill="#1a1a1a">3</text>
<text x="604.6" y="376.3" font-size="8.9" text-anchor="middle" font-weight="normal" font-style="normal" fill="#1a1a1a">Voltage (V)</text>
<text x="502.9" y="289.8" font-size="8.9" text-anchor="middle" font-weight="normal" font-style="normal" fill="#1a1a1a" transform="rotate(-90 502.9 289.8)">Current density&#160; (mA cm<tspan font-size="5.8" dy="-3">-2</tspan><tspan dy="3">)</tspan></text>
<text x="551" y="223.1" font-size="8.2" text-anchor="start" font-weight="normal" font-style="normal" fill="#1a1a1a">water-vapor treated 0-3500 sec.</text>
<line x1="559" y1="257" x2="559" y2="355.5" stroke="#999" stroke-width="0.9" stroke-dasharray="1.2,1"/>
<text x="526" y="311.2" font-size="8.2" text-anchor="start" font-weight="normal" font-style="normal" fill="#1a1a1a">hole</text>
<text x="526" y="321.1" font-size="8.2" text-anchor="start" font-weight="normal" font-style="normal" fill="#1a1a1a">leakage</text>
<text x="646.8" y="314.7" font-size="8.2" text-anchor="start" font-weight="normal" font-style="normal" fill="#1a1a1a">electron</text>
<text x="646.8" y="324.3" font-size="8.2" text-anchor="start" font-weight="normal" font-style="normal" fill="#1a1a1a">injection</text>
<line x1="538.5" y1="325.1" x2="543.7" y2="354.6" stroke="#111" stroke-width="0.9"/>
<path d="M540.4,350.4 L543.8,355 L545.8,349.6" fill="none" stroke="#111" stroke-width="0.9"/>
<line x1="645.1" y1="317.4" x2="636.3" y2="270.2" stroke="#111" stroke-width="0.9"/>
<path d="M633.3,274 L636.2,269.6 L638.8,273.4" fill="none" stroke="#111" stroke-width="0.9"/>
</svg></body></html>
